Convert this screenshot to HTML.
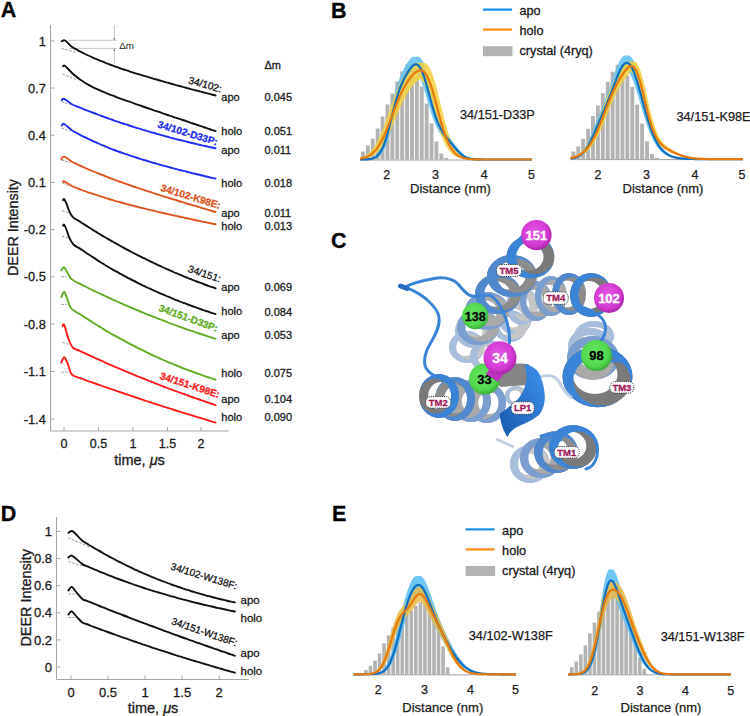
<!DOCTYPE html>
<html><head><meta charset="utf-8"><style>
html,body{margin:0;padding:0;background:#fff;}
svg{display:block;font-family:"Liberation Sans", sans-serif;}
</style></head><body>
<svg width="750" height="716" viewBox="0 0 750 716">
<rect width="750" height="716" fill="#fff"/>
<text x="0.8" y="17.2" font-size="21.5" font-weight="bold" fill="#000" stroke="#000" stroke-width="0.3">A</text>
<text x="331" y="18" font-size="21.5" font-weight="bold" fill="#000" stroke="#000" stroke-width="0.3">B</text>
<text x="331" y="248" font-size="21.5" font-weight="bold" fill="#000" stroke="#000" stroke-width="0.3">C</text>
<text x="0.8" y="521.2" font-size="21.5" font-weight="bold" fill="#000" stroke="#000" stroke-width="0.3">D</text>
<text x="332" y="521.3" font-size="21.5" font-weight="bold" fill="#000" stroke="#000" stroke-width="0.3">E</text>
<g stroke="#a6a6a6" stroke-width="1" fill="none">
<path d="M50.5,25 V431 H228.6"/>
<path d="M50.5,40.9 H54.5"/>
<path d="M50.5,88.0 H54.5"/>
<path d="M50.5,135.2 H54.5"/>
<path d="M50.5,182.5 H54.5"/>
<path d="M50.5,229.6 H54.5"/>
<path d="M50.5,276.8 H54.5"/>
<path d="M50.5,324.0 H54.5"/>
<path d="M50.5,371.5 H54.5"/>
<path d="M50.5,419.0 H54.5"/>
<path d="M64.0,431 V427"/>
<path d="M98.4,431 V427"/>
<path d="M132.9,431 V427"/>
<path d="M167.5,431 V427"/>
<path d="M201.0,431 V427"/>
</g>
<g font-size="12.8" fill="#1a1a1a" text-anchor="end" stroke="#1a1a1a" stroke-width="0.3">
<text x="45.8" y="45.5">1</text>
<text x="45.8" y="92.6">0.7</text>
<text x="45.8" y="139.8">0.4</text>
<text x="45.8" y="187.1">0.1</text>
<text x="45.8" y="234.2">-0.2</text>
<text x="45.8" y="281.4">-0.5</text>
<text x="45.8" y="328.6">-0.8</text>
<text x="45.8" y="376.1">-1.1</text>
<text x="45.8" y="423.6">-1.4</text>
</g>
<g font-size="12.5" fill="#1a1a1a" text-anchor="middle" stroke="#1a1a1a" stroke-width="0.3">
<text x="64.0" y="448">0</text>
<text x="98.4" y="448">0.5</text>
<text x="132.9" y="448">1</text>
<text x="167.5" y="448">1.5</text>
<text x="201.0" y="448">2</text>
</g>
<text x="139.5" y="465.2" font-size="14.5" text-anchor="middle" fill="#1a1a1a" stroke="#1a1a1a" stroke-width="0.3">time, <tspan font-style="italic">&#956;</tspan>s</text>
<text transform="translate(17.6,227.5) rotate(-90)" font-size="14.3" text-anchor="middle" fill="#1a1a1a" stroke="#1a1a1a" stroke-width="0.3">DEER Intensity</text>
<g stroke="#b8b8b8" stroke-width="0.8" fill="none">
<path d="M68.5,40.3 H117 M68.5,48.4 H117 M114.3,25 V40 M114.3,48.6 V63.5"/>
</g>
<path d="M113.3,38 L114.3,40.3 L115.3,38 Z M113.3,51 L114.3,48.6 L115.3,51 Z" fill="#777"/>
<text x="119.2" y="48.8" font-size="9.8" fill="#222" stroke="none">&#916;m</text>
<g stroke="#8c8c8c" stroke-width="0.9" fill="none" stroke-dasharray="2.5,1.5">
<path d="M61.5,48.4 L76.0,52.5"/>
<path d="M62.5,74.0 L77.0,80.0"/>
<path d="M61.5,101.5 L70.0,104.5"/>
<path d="M61.5,128.0 L70.0,131.0"/>
<path d="M61.5,160.0 L70.0,162.5"/>
<path d="M62.5,183.0 L70.0,186.0"/>
<path d="M62.0,210.5 L68.0,212.6"/>
<path d="M62.0,236.0 L68.0,238.0"/>
<path d="M61.3,276.6 L66.7,276.8"/>
<path d="M61.3,304.5 L66.7,304.5"/>
<path d="M62.5,342.2 L68.4,344.3"/>
<path d="M61.3,372.2 L67.6,372.2"/>
</g>
<g fill="none" stroke-width="1.9" stroke-linejoin="round" stroke-linecap="round">
<path stroke="#111" d="M61.7,41.3 C62.3,41.2 63.4,39.6 65.1,40.5 C66.8,41.4 70.0,45.4 71.8,46.8 C73.6,48.2 74.5,48.4 75.9,49.2 C77.3,49.9 78.6,50.7 80.0,51.4 C81.4,52.1 82.8,52.8 84.1,53.5 C85.5,54.1 86.9,54.8 88.2,55.5 C89.6,56.1 91.0,56.7 92.3,57.3 C93.7,58.0 95.1,58.6 96.5,59.1 C97.8,59.7 99.2,60.3 100.6,60.9 C101.9,61.4 103.3,62.0 104.7,62.5 C106.0,63.1 107.4,63.6 108.8,64.1 C110.1,64.6 111.5,65.1 112.9,65.6 C114.3,66.1 115.6,66.6 117.0,67.1 C118.4,67.6 119.7,68.1 121.1,68.6 C122.5,69.0 123.8,69.5 125.2,69.9 C126.6,70.4 128.0,70.9 129.3,71.3 C130.7,71.8 132.1,72.2 133.4,72.6 C134.8,73.1 136.2,73.5 137.5,73.9 C138.9,74.3 140.3,74.8 141.6,75.2 C143.0,75.6 144.4,76.0 145.8,76.4 C147.1,76.8 148.5,77.2 149.9,77.7 C151.2,78.1 152.6,78.5 154.0,78.9 C155.3,79.3 156.7,79.6 158.1,80.0 C159.4,80.4 160.8,80.8 162.2,81.2 C163.6,81.6 164.9,82.0 166.3,82.4 C167.7,82.7 169.0,83.1 170.4,83.5 C171.8,83.9 173.1,84.3 174.5,84.6 C175.9,85.0 177.3,85.4 178.6,85.8 C180.0,86.1 181.4,86.5 182.7,86.9 C184.1,87.2 185.5,87.6 186.8,88.0 C188.2,88.3 189.6,88.7 190.9,89.1 C192.3,89.4 193.7,89.8 195.1,90.2 C196.4,90.5 197.8,90.9 199.2,91.2 C200.5,91.6 201.9,92.0 203.3,92.3 C204.6,92.7 206.0,93.0 207.4,93.4 C208.8,93.8 210.1,94.1 211.5,94.5 C212.9,94.8 214.9,95.4 215.6,95.5"/>
<path stroke="#111" d="M63.0,66.2 C63.4,66.2 63.6,64.9 65.1,66.0 C66.6,67.1 70.0,71.0 71.8,72.7 C73.6,74.4 74.5,75.2 75.9,76.3 C77.3,77.5 78.6,78.5 80.0,79.5 C81.4,80.4 82.8,81.3 84.1,82.2 C85.5,83.1 86.9,83.9 88.2,84.6 C89.6,85.4 91.0,86.1 92.3,86.8 C93.7,87.5 95.1,88.2 96.5,88.8 C97.8,89.5 99.2,90.1 100.6,90.7 C101.9,91.3 103.3,91.9 104.7,92.4 C106.0,93.0 107.4,93.6 108.8,94.1 C110.1,94.7 111.5,95.2 112.9,95.7 C114.3,96.2 115.6,96.8 117.0,97.3 C118.4,97.8 119.7,98.3 121.1,98.8 C122.5,99.3 123.8,99.8 125.2,100.3 C126.6,100.8 128.0,101.3 129.3,101.7 C130.7,102.2 132.1,102.7 133.4,103.2 C134.8,103.7 136.2,104.1 137.5,104.6 C138.9,105.1 140.3,105.6 141.6,106.0 C143.0,106.5 144.4,107.0 145.8,107.5 C147.1,107.9 148.5,108.4 149.9,108.9 C151.2,109.3 152.6,109.8 154.0,110.3 C155.3,110.7 156.7,111.2 158.1,111.7 C159.4,112.1 160.8,112.6 162.2,113.1 C163.6,113.5 164.9,114.0 166.3,114.5 C167.7,114.9 169.0,115.4 170.4,115.9 C171.8,116.3 173.1,116.8 174.5,117.3 C175.9,117.7 177.3,118.2 178.6,118.6 C180.0,119.1 181.4,119.6 182.7,120.0 C184.1,120.5 185.5,121.0 186.8,121.4 C188.2,121.9 189.6,122.4 190.9,122.8 C192.3,123.3 193.7,123.7 195.1,124.2 C196.4,124.7 197.8,125.1 199.2,125.6 C200.5,126.1 201.9,126.5 203.3,127.0 C204.6,127.4 206.0,127.9 207.4,128.4 C208.8,128.8 210.1,129.3 211.5,129.8 C212.9,130.2 214.9,130.9 215.6,131.1"/>
<path stroke="#1f2ef5" d="M61.7,100.1 C62.1,99.9 62.5,98.1 64.2,98.8 C65.9,99.5 69.8,103.0 71.8,104.2 C73.8,105.4 74.5,105.4 75.9,105.9 C77.3,106.5 78.6,107.1 80.0,107.6 C81.4,108.2 82.8,108.7 84.1,109.3 C85.5,109.8 86.9,110.4 88.2,110.9 C89.6,111.4 91.0,112.0 92.3,112.5 C93.7,113.0 95.1,113.5 96.5,114.0 C97.8,114.6 99.2,115.1 100.6,115.6 C101.9,116.1 103.3,116.6 104.7,117.1 C106.0,117.6 107.4,118.1 108.8,118.6 C110.1,119.0 111.5,119.5 112.9,120.0 C114.3,120.5 115.6,121.0 117.0,121.4 C118.4,121.9 119.7,122.4 121.1,122.8 C122.5,123.3 123.8,123.7 125.2,124.2 C126.6,124.6 128.0,125.1 129.3,125.5 C130.7,126.0 132.1,126.4 133.4,126.8 C134.8,127.3 136.2,127.7 137.5,128.1 C138.9,128.5 140.3,129.0 141.6,129.4 C143.0,129.8 144.4,130.2 145.8,130.6 C147.1,131.0 148.5,131.4 149.9,131.8 C151.2,132.2 152.6,132.6 154.0,133.0 C155.3,133.4 156.7,133.8 158.1,134.2 C159.4,134.6 160.8,135.0 162.2,135.3 C163.6,135.7 164.9,136.1 166.3,136.5 C167.7,136.8 169.0,137.2 170.4,137.6 C171.8,137.9 173.1,138.3 174.5,138.6 C175.9,139.0 177.3,139.4 178.6,139.7 C180.0,140.1 181.4,140.4 182.7,140.7 C184.1,141.1 185.5,141.4 186.8,141.8 C188.2,142.1 189.6,142.4 190.9,142.8 C192.3,143.1 193.7,143.4 195.1,143.7 C196.4,144.1 197.8,144.4 199.2,144.7 C200.5,145.0 201.9,145.3 203.3,145.6 C204.6,145.9 206.0,146.3 207.4,146.6 C208.8,146.9 210.1,147.2 211.5,147.5 C212.9,147.8 214.9,148.2 215.6,148.3"/>
<path stroke="#1f2ef5" d="M61.7,125.6 C62.1,125.3 62.5,123.2 64.2,124.0 C65.9,124.8 69.8,128.8 71.8,130.2 C73.8,131.6 74.5,131.8 75.9,132.5 C77.3,133.3 78.6,134.0 80.0,134.8 C81.4,135.5 82.8,136.2 84.1,136.9 C85.5,137.6 86.9,138.2 88.2,138.9 C89.6,139.6 91.0,140.2 92.3,140.8 C93.7,141.5 95.1,142.1 96.5,142.7 C97.8,143.3 99.2,143.9 100.6,144.5 C101.9,145.1 103.3,145.6 104.7,146.2 C106.0,146.8 107.4,147.3 108.8,147.9 C110.1,148.4 111.5,148.9 112.9,149.5 C114.3,150.0 115.6,150.5 117.0,151.0 C118.4,151.5 119.7,152.0 121.1,152.5 C122.5,153.0 123.8,153.4 125.2,153.9 C126.6,154.4 128.0,154.9 129.3,155.3 C130.7,155.8 132.1,156.2 133.4,156.7 C134.8,157.1 136.2,157.6 137.5,158.0 C138.9,158.4 140.3,158.9 141.6,159.3 C143.0,159.7 144.4,160.1 145.8,160.5 C147.1,161.0 148.5,161.4 149.9,161.8 C151.2,162.2 152.6,162.6 154.0,163.0 C155.3,163.4 156.7,163.7 158.1,164.1 C159.4,164.5 160.8,164.9 162.2,165.3 C163.6,165.7 164.9,166.0 166.3,166.4 C167.7,166.8 169.0,167.2 170.4,167.5 C171.8,167.9 173.1,168.2 174.5,168.6 C175.9,169.0 177.3,169.3 178.6,169.7 C180.0,170.0 181.4,170.4 182.7,170.7 C184.1,171.1 185.5,171.4 186.8,171.8 C188.2,172.1 189.6,172.5 190.9,172.8 C192.3,173.1 193.7,173.5 195.1,173.8 C196.4,174.1 197.8,174.5 199.2,174.8 C200.5,175.1 201.9,175.5 203.3,175.8 C204.6,176.1 206.0,176.5 207.4,176.8 C208.8,177.1 210.1,177.4 211.5,177.8 C212.9,178.1 214.9,178.6 215.6,178.7"/>
<path stroke="#e0531c" d="M61.3,159.2 C61.8,158.8 62.5,156.3 64.2,156.7 C66.0,157.1 69.8,160.5 71.8,161.7 C73.8,162.9 74.5,163.0 75.9,163.7 C77.3,164.3 78.6,165.0 80.0,165.6 C81.4,166.2 82.8,166.9 84.1,167.5 C85.5,168.1 86.9,168.7 88.2,169.3 C89.6,169.9 91.0,170.4 92.3,171.0 C93.7,171.6 95.1,172.2 96.5,172.7 C97.8,173.3 99.2,173.8 100.6,174.4 C101.9,174.9 103.3,175.5 104.7,176.0 C106.0,176.5 107.4,177.1 108.8,177.6 C110.1,178.1 111.5,178.6 112.9,179.1 C114.3,179.7 115.6,180.2 117.0,180.7 C118.4,181.2 119.7,181.7 121.1,182.1 C122.5,182.6 123.8,183.1 125.2,183.6 C126.6,184.1 128.0,184.6 129.3,185.0 C130.7,185.5 132.1,186.0 133.4,186.5 C134.8,186.9 136.2,187.4 137.5,187.9 C138.9,188.3 140.3,188.8 141.6,189.2 C143.0,189.7 144.4,190.1 145.8,190.6 C147.1,191.0 148.5,191.5 149.9,191.9 C151.2,192.4 152.6,192.8 154.0,193.3 C155.3,193.7 156.7,194.1 158.1,194.6 C159.4,195.0 160.8,195.4 162.2,195.9 C163.6,196.3 164.9,196.7 166.3,197.2 C167.7,197.6 169.0,198.0 170.4,198.4 C171.8,198.9 173.1,199.3 174.5,199.7 C175.9,200.1 177.3,200.6 178.6,201.0 C180.0,201.4 181.4,201.8 182.7,202.2 C184.1,202.6 185.5,203.0 186.8,203.5 C188.2,203.9 189.6,204.3 190.9,204.7 C192.3,205.1 193.7,205.5 195.1,205.9 C196.4,206.3 197.8,206.7 199.2,207.1 C200.5,207.5 201.9,208.0 203.3,208.4 C204.6,208.8 206.0,209.2 207.4,209.6 C208.8,210.0 210.1,210.4 211.5,210.8 C212.9,211.2 214.9,211.8 215.6,212.0"/>
<path stroke="#e0531c" d="M63.0,181.9 C63.2,181.8 62.7,180.7 64.2,181.4 C65.7,182.1 69.8,185.0 71.8,186.0 C73.8,187.0 74.5,187.1 75.9,187.7 C77.3,188.2 78.6,188.8 80.0,189.3 C81.4,189.8 82.8,190.3 84.1,190.8 C85.5,191.3 86.9,191.8 88.2,192.3 C89.6,192.8 91.0,193.3 92.3,193.7 C93.7,194.2 95.1,194.7 96.5,195.1 C97.8,195.6 99.2,196.0 100.6,196.4 C101.9,196.9 103.3,197.3 104.7,197.7 C106.0,198.1 107.4,198.6 108.8,199.0 C110.1,199.4 111.5,199.8 112.9,200.2 C114.3,200.6 115.6,201.0 117.0,201.4 C118.4,201.8 119.7,202.1 121.1,202.5 C122.5,202.9 123.8,203.3 125.2,203.6 C126.6,204.0 128.0,204.4 129.3,204.7 C130.7,205.1 132.1,205.5 133.4,205.8 C134.8,206.2 136.2,206.5 137.5,206.9 C138.9,207.2 140.3,207.6 141.6,207.9 C143.0,208.2 144.4,208.6 145.8,208.9 C147.1,209.2 148.5,209.6 149.9,209.9 C151.2,210.2 152.6,210.6 154.0,210.9 C155.3,211.2 156.7,211.5 158.1,211.8 C159.4,212.2 160.8,212.5 162.2,212.8 C163.6,213.1 164.9,213.4 166.3,213.7 C167.7,214.0 169.0,214.3 170.4,214.7 C171.8,215.0 173.1,215.3 174.5,215.6 C175.9,215.9 177.3,216.2 178.6,216.5 C180.0,216.8 181.4,217.1 182.7,217.4 C184.1,217.7 185.5,218.0 186.8,218.3 C188.2,218.6 189.6,218.9 190.9,219.1 C192.3,219.4 193.7,219.7 195.1,220.0 C196.4,220.3 197.8,220.6 199.2,220.9 C200.5,221.2 201.9,221.5 203.3,221.8 C204.6,222.0 206.0,222.3 207.4,222.6 C208.8,222.9 210.1,223.2 211.5,223.5 C212.9,223.7 214.9,224.2 215.6,224.3"/>
<path stroke="#111" d="M63.0,200.2 C63.2,200.0 63.6,198.5 64.2,199.2 C64.8,199.9 65.9,202.4 66.7,204.2 C67.5,206.0 67.8,208.0 68.8,210.1 C69.8,212.2 70.7,214.9 72.6,216.8 C74.5,218.8 78.2,220.5 80.1,221.8 C82.0,223.1 82.8,223.6 84.2,224.4 C85.6,225.3 86.9,226.2 88.3,227.0 C89.7,227.9 91.0,228.8 92.4,229.6 C93.8,230.5 95.2,231.3 96.5,232.1 C97.9,233.0 99.3,233.8 100.6,234.6 C102.0,235.4 103.4,236.2 104.7,237.0 C106.1,237.8 107.5,238.6 108.8,239.4 C110.2,240.2 111.6,241.0 112.9,241.8 C114.3,242.6 115.7,243.3 117.1,244.1 C118.4,244.9 119.8,245.6 121.2,246.4 C122.5,247.1 123.9,247.9 125.3,248.6 C126.6,249.4 128.0,250.1 129.4,250.8 C130.7,251.5 132.1,252.3 133.5,253.0 C134.8,253.7 136.2,254.4 137.6,255.1 C139.0,255.8 140.3,256.5 141.7,257.2 C143.1,257.9 144.4,258.5 145.8,259.2 C147.2,259.9 148.5,260.6 149.9,261.2 C151.3,261.9 152.6,262.5 154.0,263.2 C155.4,263.8 156.7,264.5 158.1,265.1 C159.5,265.8 160.9,266.4 162.2,267.0 C163.6,267.6 165.0,268.2 166.3,268.9 C167.7,269.5 169.1,270.1 170.4,270.7 C171.8,271.3 173.2,271.9 174.5,272.5 C175.9,273.1 177.3,273.6 178.6,274.2 C180.0,274.8 181.4,275.4 182.8,275.9 C184.1,276.5 185.5,277.0 186.9,277.6 C188.2,278.2 189.6,278.7 191.0,279.2 C192.3,279.8 193.7,280.3 195.1,280.9 C196.4,281.4 197.8,281.9 199.2,282.4 C200.5,282.9 201.9,283.5 203.3,284.0 C204.7,284.5 206.0,285.0 207.4,285.5 C208.8,286.0 210.1,286.5 211.5,286.9 C212.9,287.4 214.9,288.1 215.6,288.4"/>
<path stroke="#111" d="M63.0,225.6 C63.2,225.5 63.6,224.0 64.2,224.8 C64.8,225.6 65.9,228.0 66.7,230.2 C67.5,232.3 68.2,235.3 69.3,237.7 C70.4,240.1 71.6,242.7 73.4,244.5 C75.2,246.3 78.3,247.4 80.1,248.6 C81.9,249.8 82.8,250.5 84.2,251.4 C85.6,252.4 86.9,253.3 88.3,254.2 C89.7,255.1 91.0,256.0 92.4,256.9 C93.8,257.8 95.2,258.7 96.5,259.6 C97.9,260.5 99.3,261.3 100.6,262.2 C102.0,263.0 103.4,263.9 104.7,264.7 C106.1,265.5 107.5,266.3 108.8,267.2 C110.2,268.0 111.6,268.8 112.9,269.6 C114.3,270.3 115.7,271.1 117.1,271.9 C118.4,272.7 119.8,273.4 121.2,274.2 C122.5,274.9 123.9,275.7 125.3,276.4 C126.6,277.1 128.0,277.9 129.4,278.6 C130.7,279.3 132.1,280.0 133.5,280.7 C134.8,281.4 136.2,282.1 137.6,282.8 C139.0,283.5 140.3,284.1 141.7,284.8 C143.1,285.5 144.4,286.1 145.8,286.8 C147.2,287.4 148.5,288.1 149.9,288.7 C151.3,289.4 152.6,290.0 154.0,290.6 C155.4,291.2 156.7,291.8 158.1,292.4 C159.5,293.1 160.9,293.7 162.2,294.2 C163.6,294.8 165.0,295.4 166.3,296.0 C167.7,296.6 169.1,297.1 170.4,297.7 C171.8,298.3 173.2,298.8 174.5,299.4 C175.9,299.9 177.3,300.5 178.6,301.0 C180.0,301.6 181.4,302.1 182.8,302.6 C184.1,303.1 185.5,303.7 186.9,304.2 C188.2,304.7 189.6,305.2 191.0,305.7 C192.3,306.2 193.7,306.7 195.1,307.2 C196.4,307.7 197.8,308.2 199.2,308.6 C200.5,309.1 201.9,309.6 203.3,310.1 C204.7,310.5 206.0,311.0 207.4,311.4 C208.8,311.9 210.1,312.3 211.5,312.8 C212.9,313.2 214.9,313.9 215.6,314.1"/>
<path stroke="#62ad24" d="M61.3,270.5 C61.7,269.9 62.9,267.1 63.8,267.2 C64.7,267.3 65.5,269.4 66.7,271.3 C68.0,273.2 69.1,276.8 71.3,278.9 C73.5,281.0 77.9,282.7 80.1,283.9 C82.3,285.1 82.8,285.3 84.2,286.0 C85.6,286.6 86.9,287.3 88.3,288.0 C89.7,288.7 91.0,289.3 92.4,290.0 C93.8,290.7 95.2,291.3 96.5,292.0 C97.9,292.6 99.3,293.3 100.6,293.9 C102.0,294.6 103.4,295.2 104.7,295.9 C106.1,296.5 107.5,297.1 108.8,297.8 C110.2,298.4 111.6,299.0 112.9,299.6 C114.3,300.3 115.7,300.9 117.1,301.5 C118.4,302.1 119.8,302.7 121.2,303.3 C122.5,303.9 123.9,304.5 125.3,305.1 C126.6,305.7 128.0,306.3 129.4,306.9 C130.7,307.5 132.1,308.1 133.5,308.7 C134.8,309.2 136.2,309.8 137.6,310.4 C139.0,311.0 140.3,311.5 141.7,312.1 C143.1,312.6 144.4,313.2 145.8,313.8 C147.2,314.3 148.5,314.9 149.9,315.4 C151.3,316.0 152.6,316.5 154.0,317.0 C155.4,317.6 156.7,318.1 158.1,318.7 C159.5,319.2 160.9,319.7 162.2,320.2 C163.6,320.8 165.0,321.3 166.3,321.8 C167.7,322.3 169.1,322.8 170.4,323.3 C171.8,323.8 173.2,324.3 174.5,324.8 C175.9,325.3 177.3,325.8 178.6,326.3 C180.0,326.8 181.4,327.3 182.8,327.8 C184.1,328.3 185.5,328.8 186.9,329.3 C188.2,329.7 189.6,330.2 191.0,330.7 C192.3,331.1 193.7,331.6 195.1,332.1 C196.4,332.5 197.8,333.0 199.2,333.5 C200.5,333.9 201.9,334.4 203.3,334.8 C204.7,335.3 206.0,335.7 207.4,336.2 C208.8,336.6 210.1,337.0 211.5,337.5 C212.9,337.9 214.9,338.6 215.6,338.8"/>
<path stroke="#62ad24" d="M61.3,297.1 C61.8,296.2 63.2,291.6 64.1,291.7 C65.0,291.8 65.6,294.8 66.7,297.5 C67.8,300.2 68.7,305.2 70.9,308.0 C73.1,310.8 77.9,312.8 80.1,314.3 C82.3,315.8 82.8,316.1 84.2,317.0 C85.6,317.9 86.9,318.8 88.3,319.6 C89.7,320.5 91.0,321.4 92.4,322.2 C93.8,323.1 95.2,324.0 96.5,324.8 C97.9,325.6 99.3,326.5 100.6,327.3 C102.0,328.1 103.4,329.0 104.7,329.8 C106.1,330.6 107.5,331.4 108.8,332.2 C110.2,333.0 111.6,333.8 112.9,334.6 C114.3,335.3 115.7,336.1 117.1,336.9 C118.4,337.6 119.8,338.4 121.2,339.2 C122.5,339.9 123.9,340.6 125.3,341.4 C126.6,342.1 128.0,342.8 129.4,343.6 C130.7,344.3 132.1,345.0 133.5,345.7 C134.8,346.4 136.2,347.1 137.6,347.8 C139.0,348.5 140.3,349.2 141.7,349.9 C143.1,350.5 144.4,351.2 145.8,351.9 C147.2,352.5 148.5,353.2 149.9,353.8 C151.3,354.5 152.6,355.1 154.0,355.8 C155.4,356.4 156.7,357.0 158.1,357.6 C159.5,358.3 160.9,358.9 162.2,359.5 C163.6,360.1 165.0,360.7 166.3,361.3 C167.7,361.9 169.1,362.5 170.4,363.0 C171.8,363.6 173.2,364.2 174.5,364.7 C175.9,365.3 177.3,365.9 178.6,366.4 C180.0,367.0 181.4,367.5 182.8,368.1 C184.1,368.6 185.5,369.1 186.9,369.6 C188.2,370.2 189.6,370.7 191.0,371.2 C192.3,371.7 193.7,372.2 195.1,372.7 C196.4,373.2 197.8,373.7 199.2,374.2 C200.5,374.7 201.9,375.2 203.3,375.6 C204.7,376.1 206.0,376.6 207.4,377.0 C208.8,377.5 210.1,377.9 211.5,378.4 C212.9,378.8 214.9,379.5 215.6,379.7"/>
<path stroke="#ff1c1c" d="M62.5,326.3 C62.8,326.1 63.2,323.0 64.2,325.0 C65.2,327.0 67.0,334.8 68.4,338.5 C69.8,342.2 70.6,345.2 72.6,347.3 C74.5,349.4 78.2,350.1 80.1,351.0 C82.0,351.9 82.8,352.3 84.2,352.9 C85.6,353.6 86.9,354.2 88.3,354.8 C89.7,355.5 91.0,356.1 92.4,356.7 C93.8,357.4 95.2,358.0 96.5,358.6 C97.9,359.2 99.3,359.8 100.6,360.4 C102.0,361.1 103.4,361.7 104.7,362.3 C106.1,362.9 107.5,363.5 108.8,364.1 C110.2,364.7 111.6,365.3 112.9,365.9 C114.3,366.5 115.7,367.1 117.1,367.7 C118.4,368.3 119.8,368.8 121.2,369.4 C122.5,370.0 123.9,370.6 125.3,371.2 C126.6,371.7 128.0,372.3 129.4,372.9 C130.7,373.4 132.1,374.0 133.5,374.6 C134.8,375.1 136.2,375.7 137.6,376.3 C139.0,376.8 140.3,377.4 141.7,377.9 C143.1,378.5 144.4,379.0 145.8,379.6 C147.2,380.1 148.5,380.7 149.9,381.2 C151.3,381.8 152.6,382.3 154.0,382.8 C155.4,383.4 156.7,383.9 158.1,384.4 C159.5,385.0 160.9,385.5 162.2,386.0 C163.6,386.5 165.0,387.1 166.3,387.6 C167.7,388.1 169.1,388.6 170.4,389.1 C171.8,389.6 173.2,390.1 174.5,390.7 C175.9,391.2 177.3,391.7 178.6,392.2 C180.0,392.7 181.4,393.2 182.8,393.7 C184.1,394.2 185.5,394.7 186.9,395.1 C188.2,395.6 189.6,396.1 191.0,396.6 C192.3,397.1 193.7,397.6 195.1,398.1 C196.4,398.5 197.8,399.0 199.2,399.5 C200.5,400.0 201.9,400.4 203.3,400.9 C204.7,401.4 206.0,401.9 207.4,402.3 C208.8,402.8 210.1,403.2 211.5,403.7 C212.9,404.2 214.9,404.8 215.6,405.1"/>
<path stroke="#ff1c1c" d="M61.3,362.6 C61.8,361.7 63.2,357.1 64.2,357.2 C65.2,357.3 66.3,360.5 67.6,363.4 C68.9,366.2 69.7,371.9 71.8,374.3 C73.9,376.8 78.0,377.2 80.1,378.1 C82.2,379.0 82.8,379.1 84.2,379.6 C85.6,380.1 86.9,380.6 88.3,381.1 C89.7,381.5 91.0,382.0 92.4,382.5 C93.8,383.0 95.2,383.5 96.5,384.0 C97.9,384.5 99.3,384.9 100.6,385.4 C102.0,385.9 103.4,386.4 104.7,386.9 C106.1,387.3 107.5,387.8 108.8,388.3 C110.2,388.8 111.6,389.3 112.9,389.7 C114.3,390.2 115.7,390.7 117.1,391.1 C118.4,391.6 119.8,392.1 121.2,392.5 C122.5,393.0 123.9,393.5 125.3,393.9 C126.6,394.4 128.0,394.9 129.4,395.3 C130.7,395.8 132.1,396.2 133.5,396.7 C134.8,397.2 136.2,397.6 137.6,398.1 C139.0,398.5 140.3,399.0 141.7,399.4 C143.1,399.9 144.4,400.3 145.8,400.8 C147.2,401.2 148.5,401.7 149.9,402.1 C151.3,402.6 152.6,403.0 154.0,403.5 C155.4,403.9 156.7,404.4 158.1,404.8 C159.5,405.2 160.9,405.7 162.2,406.1 C163.6,406.6 165.0,407.0 166.3,407.4 C167.7,407.9 169.1,408.3 170.4,408.7 C171.8,409.2 173.2,409.6 174.5,410.0 C175.9,410.5 177.3,410.9 178.6,411.3 C180.0,411.7 181.4,412.2 182.8,412.6 C184.1,413.0 185.5,413.5 186.9,413.9 C188.2,414.3 189.6,414.7 191.0,415.1 C192.3,415.6 193.7,416.0 195.1,416.4 C196.4,416.8 197.8,417.2 199.2,417.6 C200.5,418.1 201.9,418.5 203.3,418.9 C204.7,419.3 206.0,419.7 207.4,420.1 C208.8,420.5 210.1,420.9 211.5,421.4 C212.9,421.8 214.9,422.4 215.6,422.6"/>
</g>
<g font-size="11" fill="#1a1a1a" stroke="#1a1a1a" stroke-width="0.3">
<text x="221.3" y="100.8">apo</text>
<text x="221.3" y="134.5">holo</text>
<text x="221.3" y="154.4">apo</text>
<text x="221.3" y="186.8">holo</text>
<text x="221.3" y="217.3">apo</text>
<text x="221.3" y="230.3">holo</text>
<text x="221.3" y="290.8">apo</text>
<text x="221.3" y="314.8">holo</text>
<text x="221.3" y="338.5">apo</text>
<text x="221.3" y="376.7">holo</text>
<text x="221.3" y="402.8">apo</text>
<text x="221.3" y="420.7">holo</text>
</g>
<g font-size="11" fill="#1a1a1a" stroke="#1a1a1a" stroke-width="0.3">
<text x="264.5" y="100.8">0.045</text>
<text x="264.5" y="134.5">0.051</text>
<text x="264.5" y="154.4">0.011</text>
<text x="264.5" y="186.8">0.018</text>
<text x="264.5" y="217.3">0.011</text>
<text x="264.5" y="230.3">0.013</text>
<text x="264.5" y="290.8">0.069</text>
<text x="264.5" y="316.3">0.084</text>
<text x="264.5" y="338.5">0.053</text>
<text x="264.5" y="376.7">0.075</text>
<text x="264.5" y="402.8">0.104</text>
<text x="264.5" y="420.7">0.090</text>
<text x="264.5" y="69">&#916;m</text>
</g>
<text transform="translate(220.5,92.5) rotate(16.0)" font-size="10.2" fill="#111"  text-anchor="end" stroke="#111" stroke-width="0.3">34/102:</text>
<text transform="translate(216.5,145.5) rotate(17.0)" font-size="10" fill="#1f2ef5" font-weight="bold" text-anchor="end" stroke="#1f2ef5" stroke-width="0.3">34/102-D33P:</text>
<text transform="translate(219.5,209.0) rotate(17.0)" font-size="10" fill="#e0531c" font-weight="bold" text-anchor="end" stroke="#e0531c" stroke-width="0.3">34/102-K98E:</text>
<text transform="translate(219.5,282.5) rotate(18.5)" font-size="10.2" fill="#111"  text-anchor="end" stroke="#111" stroke-width="0.3">34/151:</text>
<text transform="translate(216.5,332.0) rotate(20.0)" font-size="10" fill="#62ad24" font-weight="bold" text-anchor="end" stroke="#62ad24" stroke-width="0.3">34/151-D33P:</text>
<text transform="translate(218.5,398.0) rotate(18.0)" font-size="10" fill="#ff1c1c" font-weight="bold" text-anchor="end" stroke="#ff1c1c" stroke-width="0.3">34/151-K98E:</text>
<g stroke="#a6a6a6" stroke-width="1" fill="none">
<path d="M56.5,517 V679.5 H249"/>
<path d="M56.5,531.5 H60.5"/>
<path d="M56.5,558.6 H60.5"/>
<path d="M56.5,585.7 H60.5"/>
<path d="M56.5,612.8 H60.5"/>
<path d="M56.5,639.9 H60.5"/>
<path d="M56.5,667.0 H60.5"/>
<path d="M71.0,679.5 V675.5"/>
<path d="M108.0,679.5 V675.5"/>
<path d="M145.1,679.5 V675.5"/>
<path d="M182.1,679.5 V675.5"/>
<path d="M219.2,679.5 V675.5"/>
</g>
<g font-size="13" fill="#1a1a1a" text-anchor="end" stroke="#1a1a1a" stroke-width="0.3">
<text x="52" y="536.1">1</text>
<text x="52" y="563.2">0.8</text>
<text x="52" y="590.3">0.6</text>
<text x="52" y="617.4">0.4</text>
<text x="52" y="644.5">0.2</text>
<text x="52" y="671.6">0</text>
</g>
<g font-size="13" fill="#1a1a1a" text-anchor="middle" stroke="#1a1a1a" stroke-width="0.3">
<text x="71.0" y="696.5">0</text>
<text x="108.0" y="696.5">0.5</text>
<text x="145.1" y="696.5">1</text>
<text x="182.1" y="696.5">1.5</text>
<text x="219.2" y="696.5">2</text>
</g>
<text x="153" y="713.2" font-size="14.5" text-anchor="middle" fill="#1a1a1a" stroke="#1a1a1a" stroke-width="0.3">time, <tspan font-style="italic">&#956;</tspan>s</text>
<text transform="translate(31.2,597.8) rotate(-90)" font-size="14.4" text-anchor="middle" fill="#1a1a1a" stroke="#1a1a1a" stroke-width="0.3">DEER Intensity</text>
<g stroke="#8c8c8c" stroke-width="0.9" fill="none" stroke-dasharray="2.5,1.5">
<path d="M68.4,537.9 L89.0,546.8"/>
<path d="M68.4,561.5 L82.0,566.0"/>
<path d="M68.4,594.0 L74.5,594.0"/>
<path d="M68.4,617.5 L74.5,617.5"/>
</g>
<g fill="none" stroke="#111" stroke-width="1.9" stroke-linejoin="round" stroke-linecap="round">
<path d="M68.4,532.8 C69.0,532.5 70.7,531.0 71.7,531.0 C72.7,531.0 72.7,531.2 74.5,532.8 C76.3,534.4 80.3,539.0 82.3,540.7 C84.3,542.4 85.0,542.4 86.3,543.2 C87.7,544.1 89.0,544.9 90.3,545.7 C91.7,546.5 93.0,547.3 94.3,548.1 C95.7,548.9 97.0,549.7 98.4,550.4 C99.7,551.2 101.0,552.0 102.4,552.7 C103.7,553.5 105.1,554.3 106.4,555.0 C107.7,555.7 109.1,556.5 110.4,557.2 C111.7,557.9 113.1,558.6 114.4,559.3 C115.8,560.0 117.1,560.7 118.4,561.4 C119.8,562.1 121.1,562.8 122.5,563.5 C123.8,564.1 125.1,564.8 126.5,565.4 C127.8,566.1 129.2,566.7 130.5,567.4 C131.8,568.0 133.2,568.6 134.5,569.3 C135.8,569.9 137.2,570.5 138.5,571.1 C139.9,571.7 141.2,572.3 142.5,572.9 C143.9,573.5 145.2,574.1 146.6,574.6 C147.9,575.2 149.2,575.8 150.6,576.4 C151.9,576.9 153.2,577.5 154.6,578.0 C155.9,578.6 157.3,579.1 158.6,579.6 C159.9,580.1 161.3,580.7 162.6,581.2 C164.0,581.7 165.3,582.2 166.6,582.7 C168.0,583.2 169.3,583.7 170.6,584.2 C172.0,584.7 173.3,585.2 174.7,585.6 C176.0,586.1 177.3,586.6 178.7,587.0 C180.0,587.5 181.4,587.9 182.7,588.4 C184.0,588.8 185.4,589.3 186.7,589.7 C188.0,590.1 189.4,590.5 190.7,591.0 C192.1,591.4 193.4,591.8 194.7,592.2 C196.1,592.6 197.4,593.0 198.8,593.4 C200.1,593.8 201.4,594.2 202.8,594.5 C204.1,594.9 205.5,595.3 206.8,595.7 C208.1,596.0 209.5,596.4 210.8,596.7 C212.1,597.1 213.5,597.4 214.8,597.8 C216.2,598.1 217.5,598.5 218.8,598.8 C220.2,599.1 221.5,599.4 222.9,599.7 C224.2,600.1 225.5,600.4 226.9,600.7 C228.2,601.0 229.5,601.3 230.9,601.6 C232.2,601.9 234.2,602.3 234.9,602.4"/>
<path d="M68.4,557.4 C68.9,557.1 70.2,555.5 71.2,555.5 C72.2,555.5 72.7,556.0 74.5,557.4 C76.3,558.8 80.3,562.7 82.3,564.1 C84.3,565.5 85.0,565.3 86.3,565.9 C87.7,566.5 89.0,567.1 90.3,567.7 C91.7,568.2 93.0,568.8 94.3,569.4 C95.7,569.9 97.0,570.5 98.4,571.1 C99.7,571.6 101.0,572.2 102.4,572.7 C103.7,573.3 105.1,573.8 106.4,574.3 C107.7,574.9 109.1,575.4 110.4,575.9 C111.7,576.4 113.1,577.0 114.4,577.5 C115.8,578.0 117.1,578.5 118.4,579.0 C119.8,579.5 121.1,580.0 122.5,580.5 C123.8,581.0 125.1,581.4 126.5,581.9 C127.8,582.4 129.2,582.9 130.5,583.4 C131.8,583.8 133.2,584.3 134.5,584.8 C135.8,585.2 137.2,585.7 138.5,586.1 C139.9,586.6 141.2,587.0 142.5,587.5 C143.9,587.9 145.2,588.3 146.6,588.8 C147.9,589.2 149.2,589.6 150.6,590.1 C151.9,590.5 153.2,590.9 154.6,591.3 C155.9,591.7 157.3,592.1 158.6,592.5 C159.9,592.9 161.3,593.3 162.6,593.7 C164.0,594.1 165.3,594.5 166.6,594.9 C168.0,595.3 169.3,595.7 170.6,596.1 C172.0,596.5 173.3,596.8 174.7,597.2 C176.0,597.6 177.3,597.9 178.7,598.3 C180.0,598.7 181.4,599.0 182.7,599.4 C184.0,599.7 185.4,600.1 186.7,600.4 C188.0,600.8 189.4,601.1 190.7,601.5 C192.1,601.8 193.4,602.2 194.7,602.5 C196.1,602.8 197.4,603.2 198.8,603.5 C200.1,603.8 201.4,604.1 202.8,604.5 C204.1,604.8 205.5,605.1 206.8,605.4 C208.1,605.7 209.5,606.0 210.8,606.3 C212.1,606.6 213.5,606.9 214.8,607.2 C216.2,607.5 217.5,607.8 218.8,608.1 C220.2,608.4 221.5,608.7 222.9,609.0 C224.2,609.3 225.5,609.6 226.9,609.8 C228.2,610.1 229.5,610.4 230.9,610.7 C232.2,610.9 234.2,611.3 234.9,611.5"/>
<path d="M68.4,590.6 C69.0,590.0 70.3,586.5 71.7,586.9 C73.1,587.3 75.0,590.8 76.8,592.8 C78.6,594.8 80.7,597.7 82.3,599.0 C83.9,600.3 85.0,600.1 86.3,600.6 C87.7,601.2 89.0,601.7 90.3,602.2 C91.7,602.8 93.0,603.3 94.3,603.9 C95.7,604.4 97.0,604.9 98.4,605.5 C99.7,606.0 101.0,606.5 102.4,607.1 C103.7,607.6 105.1,608.1 106.4,608.7 C107.7,609.2 109.1,609.7 110.4,610.3 C111.7,610.8 113.1,611.3 114.4,611.8 C115.8,612.4 117.1,612.9 118.4,613.4 C119.8,613.9 121.1,614.5 122.5,615.0 C123.8,615.5 125.1,616.0 126.5,616.5 C127.8,617.0 129.2,617.6 130.5,618.1 C131.8,618.6 133.2,619.1 134.5,619.6 C135.8,620.1 137.2,620.6 138.5,621.1 C139.9,621.7 141.2,622.2 142.5,622.7 C143.9,623.2 145.2,623.7 146.6,624.2 C147.9,624.7 149.2,625.2 150.6,625.7 C151.9,626.2 153.2,626.7 154.6,627.2 C155.9,627.7 157.3,628.2 158.6,628.7 C159.9,629.2 161.3,629.7 162.6,630.2 C164.0,630.7 165.3,631.2 166.6,631.7 C168.0,632.1 169.3,632.6 170.6,633.1 C172.0,633.6 173.3,634.1 174.7,634.6 C176.0,635.1 177.3,635.6 178.7,636.0 C180.0,636.5 181.4,637.0 182.7,637.5 C184.0,638.0 185.4,638.5 186.7,638.9 C188.0,639.4 189.4,639.9 190.7,640.4 C192.1,640.9 193.4,641.3 194.7,641.8 C196.1,642.3 197.4,642.8 198.8,643.2 C200.1,643.7 201.4,644.2 202.8,644.6 C204.1,645.1 205.5,645.6 206.8,646.0 C208.1,646.5 209.5,647.0 210.8,647.4 C212.1,647.9 213.5,648.4 214.8,648.8 C216.2,649.3 217.5,649.8 218.8,650.2 C220.2,650.7 221.5,651.2 222.9,651.6 C224.2,652.1 225.5,652.5 226.9,653.0 C228.2,653.4 229.5,653.9 230.9,654.4 C232.2,654.8 234.2,655.5 234.9,655.7"/>
<path d="M68.4,614.6 C69.0,614.0 70.3,610.9 71.7,611.3 C73.1,611.7 75.0,615.0 76.8,616.9 C78.6,618.8 80.7,621.3 82.3,622.5 C83.9,623.7 85.0,623.5 86.3,624.0 C87.7,624.5 89.0,625.0 90.3,625.6 C91.7,626.1 93.0,626.6 94.3,627.1 C95.7,627.6 97.0,628.1 98.4,628.6 C99.7,629.1 101.0,629.6 102.4,630.1 C103.7,630.5 105.1,631.0 106.4,631.5 C107.7,632.0 109.1,632.5 110.4,633.0 C111.7,633.5 113.1,634.0 114.4,634.4 C115.8,634.9 117.1,635.4 118.4,635.9 C119.8,636.4 121.1,636.8 122.5,637.3 C123.8,637.8 125.1,638.3 126.5,638.7 C127.8,639.2 129.2,639.7 130.5,640.1 C131.8,640.6 133.2,641.1 134.5,641.5 C135.8,642.0 137.2,642.4 138.5,642.9 C139.9,643.4 141.2,643.8 142.5,644.3 C143.9,644.7 145.2,645.2 146.6,645.6 C147.9,646.1 149.2,646.5 150.6,647.0 C151.9,647.4 153.2,647.9 154.6,648.3 C155.9,648.7 157.3,649.2 158.6,649.6 C159.9,650.1 161.3,650.5 162.6,650.9 C164.0,651.4 165.3,651.8 166.6,652.2 C168.0,652.7 169.3,653.1 170.6,653.5 C172.0,653.9 173.3,654.4 174.7,654.8 C176.0,655.2 177.3,655.6 178.7,656.1 C180.0,656.5 181.4,656.9 182.7,657.3 C184.0,657.7 185.4,658.2 186.7,658.6 C188.0,659.0 189.4,659.4 190.7,659.8 C192.1,660.2 193.4,660.6 194.7,661.0 C196.1,661.4 197.4,661.8 198.8,662.2 C200.1,662.6 201.4,663.0 202.8,663.4 C204.1,663.8 205.5,664.2 206.8,664.6 C208.1,665.0 209.5,665.4 210.8,665.8 C212.1,666.2 213.5,666.6 214.8,667.0 C216.2,667.4 217.5,667.8 218.8,668.2 C220.2,668.6 221.5,668.9 222.9,669.3 C224.2,669.7 225.5,670.1 226.9,670.5 C228.2,670.8 229.5,671.2 230.9,671.6 C232.2,672.0 234.2,672.5 234.9,672.7"/>
</g>
<g font-size="11.5" fill="#1a1a1a" stroke="#1a1a1a" stroke-width="0.3">
<text x="240.5" y="604.2">apo</text>
<text x="240.5" y="622.2">holo</text>
<text x="240.5" y="657.1">apo</text>
<text x="240.5" y="674.8">holo</text>
</g>
<text transform="translate(236.0,589.5) rotate(17.0)" font-size="10" fill="#111"  text-anchor="end" stroke="#111" stroke-width="0.3">34/102-W138F:</text>
<text transform="translate(236.0,646.5) rotate(19.0)" font-size="10" fill="#111"  text-anchor="end" stroke="#111" stroke-width="0.3">34/151-W138F:</text>
<g fill="#b3b3b3">
<rect x="361.00" y="151.50" width="3.90" height="8.00"/>
<rect x="365.90" y="145.50" width="3.90" height="14.00"/>
<rect x="370.80" y="138.50" width="3.90" height="21.00"/>
<rect x="375.70" y="128.50" width="3.90" height="31.00"/>
<rect x="380.60" y="116.50" width="3.90" height="43.00"/>
<rect x="385.50" y="104.50" width="3.90" height="55.00"/>
<rect x="390.40" y="93.50" width="3.90" height="66.00"/>
<rect x="395.30" y="81.50" width="3.90" height="78.00"/>
<rect x="400.20" y="71.50" width="3.90" height="88.00"/>
<rect x="405.10" y="64.50" width="3.90" height="95.00"/>
<rect x="410.00" y="63.50" width="3.90" height="96.00"/>
<rect x="414.90" y="75.50" width="3.90" height="84.00"/>
<rect x="419.80" y="86.50" width="3.90" height="73.00"/>
<rect x="424.70" y="103.50" width="3.90" height="56.00"/>
<rect x="429.60" y="123.50" width="3.90" height="36.00"/>
<rect x="434.50" y="141.50" width="3.90" height="18.00"/>
<rect x="439.40" y="153.50" width="3.90" height="6.00"/>
<rect x="444.30" y="158.00" width="3.90" height="1.50"/>
</g>
<path d="M360.0,160.0 H531.8" stroke="#a0a0a0" stroke-width="1"/>
<g font-size="12.5" fill="#1a1a1a" stroke="#1a1a1a" stroke-width="0.25" text-anchor="middle">
<text x="386.7" y="179.0">2</text>
<text x="435.6" y="179.0">3</text>
<text x="484.2" y="179.0">4</text>
<text x="531.6" y="179.0">5</text>
</g>
<text x="450.5" y="192.5" font-size="13" text-anchor="middle" fill="#1a1a1a" stroke="#1a1a1a" stroke-width="0.25">Distance (nm)</text>
<text x="460.0" y="119.3" font-size="12.7" fill="#1a1a1a" stroke="#1a1a1a" stroke-width="0.25">34/151-D33P</text>
<path d="M360.00,159.47 L360.57,159.47 L361.15,159.46 L361.72,159.45 L362.29,159.44 L362.86,159.42 L363.44,159.40 L364.01,159.38 L364.58,159.35 L365.15,159.32 L365.73,159.28 L366.30,159.23 L366.87,159.17 L367.44,159.10 L368.02,159.02 L368.59,158.92 L369.16,158.80 L369.74,158.67 L370.31,158.51 L370.88,158.32 L371.45,158.10 L372.03,157.85 L372.60,157.56 L373.17,157.23 L373.74,156.85 L374.32,156.42 L374.89,155.94 L375.46,155.39 L376.03,154.77 L376.61,154.08 L377.18,153.32 L377.75,152.47 L378.33,151.54 L378.90,150.51 L379.47,149.39 L380.04,148.18 L380.62,146.86 L381.19,145.44 L381.76,143.91 L382.33,142.28 L382.91,140.55 L383.48,138.72 L384.05,136.79 L384.62,134.77 L385.20,132.66 L385.77,130.47 L386.34,128.21 L386.92,125.89 L387.49,123.51 L388.06,121.08 L388.63,118.62 L389.21,116.14 L389.78,113.65 L390.35,111.16 L390.92,108.69 L391.50,106.23 L392.07,103.81 L392.64,101.44 L393.21,99.11 L393.79,96.85 L394.36,94.66 L394.93,92.54 L395.51,90.49 L396.08,88.53 L396.65,86.64 L397.22,84.84 L397.80,83.12 L398.37,81.47 L398.94,79.91 L399.51,78.41 L400.09,76.98 L400.66,75.61 L401.23,74.29 L401.80,73.03 L402.38,71.81 L402.95,70.64 L403.52,69.50 L404.10,68.40 L404.67,67.33 L405.24,66.29 L405.81,65.28 L406.39,64.30 L406.96,63.36 L407.53,62.45 L408.10,61.59 L408.68,60.77 L409.25,60.00 L409.82,59.29 L410.39,58.65 L410.97,58.08 L411.54,57.60 L412.11,57.20 L412.69,56.91 L413.26,56.72 L413.83,56.64 L414.40,56.69 L414.98,56.64 L415.55,56.66 L416.12,56.65 L416.69,56.65 L417.27,56.66 L417.84,56.64 L418.41,56.69 L418.98,56.86 L419.56,57.16 L420.13,57.60 L420.70,58.18 L421.28,58.90 L421.85,59.76 L422.42,60.76 L422.99,61.90 L423.57,63.17 L424.14,64.58 L424.71,66.11 L425.28,67.76 L425.86,69.51 L426.43,71.38 L427.00,73.33 L427.57,75.37 L428.15,77.48 L428.72,79.65 L429.29,81.87 L429.87,84.13 L430.44,86.41 L431.01,88.72 L431.58,91.02 L432.16,93.32 L432.73,95.60 L433.30,97.86 L433.87,100.08 L434.45,102.26 L435.02,104.38 L435.59,106.45 L436.16,108.46 L436.74,110.39 L437.31,112.26 L437.88,114.05 L438.46,115.76 L439.03,117.40 L439.60,118.96 L440.17,120.44 L440.75,121.86 L441.32,123.19 L441.89,124.47 L442.46,125.67 L443.04,126.82 L443.61,127.91 L444.18,128.94 L444.75,129.93 L445.33,130.89 L445.90,131.80 L446.47,132.68 L447.05,133.54 L447.62,134.37 L448.19,135.19 L448.76,135.99 L449.34,136.78 L449.91,137.56 L450.48,138.33 L451.05,139.11 L451.63,139.88 L452.20,140.64 L452.77,141.41 L453.34,142.17 L453.92,142.94 L454.49,143.69 L455.06,144.45 L455.64,145.20 L456.21,145.95 L456.78,146.68 L457.35,147.41 L457.93,148.12 L458.50,148.82 L459.07,149.50 L459.64,150.16 L460.22,150.81 L460.79,151.43 L461.36,152.03 L461.93,152.60 L462.51,153.15 L463.08,153.67 L463.65,154.17 L464.23,154.63 L464.80,155.07 L465.37,155.49 L465.94,155.87 L466.52,156.23 L467.09,156.56 L467.66,156.87 L468.23,157.15 L468.81,157.41 L469.38,157.64 L469.95,157.86 L470.52,158.05 L471.10,158.23 L471.67,158.39 L472.24,158.53 L472.82,158.65 L473.39,158.77 L473.96,158.87 L474.53,158.95 L475.11,159.03 L475.68,159.10 L476.25,159.16 L476.82,159.21 L477.40,159.25 L477.97,159.29 L478.54,159.32 L479.11,159.35 L479.69,159.38 L480.26,159.40 L480.83,159.41 L481.41,159.43 L481.98,159.44 L482.55,159.45 L483.12,159.46 L483.70,159.47 L484.27,159.47 L484.84,159.48 L485.41,159.48 L485.99,159.49 L486.56,159.49 L487.13,159.49 L487.70,159.49 L488.28,159.49 L488.85,159.50 L489.42,159.50 L490.00,159.50 L490.57,159.50 L491.14,159.50 L491.71,159.50 L492.29,159.50 L492.86,159.50 L493.43,159.50 L494.00,159.50 L494.58,159.50 L495.15,159.50 L495.72,159.50 L496.29,159.50 L496.87,159.50 L497.44,159.50 L498.01,159.50 L498.59,159.50 L499.16,159.50 L499.73,159.50 L500.30,159.50 L500.88,159.50 L501.45,159.50 L502.02,159.50 L502.59,159.50 L503.17,159.50 L503.74,159.50 L504.31,159.50 L504.88,159.50 L505.46,159.50 L506.03,159.50 L506.60,159.50 L507.18,159.50 L507.75,159.50 L508.32,159.50 L508.89,159.50 L509.47,159.50 L510.04,159.50 L510.61,159.50 L511.18,159.50 L511.76,159.50 L512.33,159.50 L512.90,159.50 L513.47,159.50 L514.05,159.50 L514.62,159.50 L515.19,159.50 L515.77,159.50 L516.34,159.50 L516.91,159.50 L517.48,159.50 L518.06,159.50 L518.63,159.50 L519.20,159.50 L519.77,159.50 L520.35,159.50 L520.92,159.50 L521.49,159.50 L522.06,159.50 L522.64,159.50 L523.21,159.50 L523.78,159.50 L524.36,159.50 L524.93,159.50 L525.50,159.50 L526.07,159.50 L526.65,159.50 L527.22,159.50 L527.79,159.50 L528.36,159.50 L528.94,159.50 L529.51,159.50 L530.08,159.50 L530.65,159.50 L531.23,159.50 L531.80,159.50 L531.80,159.50 L531.23,159.50 L530.65,159.50 L530.08,159.50 L529.51,159.50 L528.94,159.50 L528.36,159.50 L527.79,159.50 L527.22,159.50 L526.65,159.50 L526.07,159.50 L525.50,159.50 L524.93,159.50 L524.36,159.50 L523.78,159.50 L523.21,159.50 L522.64,159.50 L522.06,159.50 L521.49,159.50 L520.92,159.50 L520.35,159.50 L519.77,159.50 L519.20,159.50 L518.63,159.50 L518.06,159.50 L517.48,159.50 L516.91,159.50 L516.34,159.50 L515.77,159.50 L515.19,159.50 L514.62,159.50 L514.05,159.50 L513.47,159.50 L512.90,159.50 L512.33,159.50 L511.76,159.50 L511.18,159.50 L510.61,159.50 L510.04,159.50 L509.47,159.50 L508.89,159.50 L508.32,159.50 L507.75,159.50 L507.18,159.50 L506.60,159.50 L506.03,159.50 L505.46,159.50 L504.88,159.50 L504.31,159.50 L503.74,159.50 L503.17,159.50 L502.59,159.50 L502.02,159.50 L501.45,159.50 L500.88,159.50 L500.30,159.50 L499.73,159.50 L499.16,159.50 L498.59,159.50 L498.01,159.50 L497.44,159.50 L496.87,159.50 L496.29,159.50 L495.72,159.50 L495.15,159.50 L494.58,159.50 L494.00,159.50 L493.43,159.50 L492.86,159.50 L492.29,159.50 L491.71,159.50 L491.14,159.50 L490.57,159.50 L490.00,159.50 L489.42,159.50 L488.85,159.50 L488.28,159.50 L487.70,159.50 L487.13,159.50 L486.56,159.50 L485.99,159.50 L485.41,159.50 L484.84,159.50 L484.27,159.50 L483.70,159.49 L483.12,159.49 L482.55,159.49 L481.98,159.49 L481.41,159.49 L480.83,159.48 L480.26,159.48 L479.69,159.47 L479.11,159.47 L478.54,159.46 L477.97,159.45 L477.40,159.44 L476.82,159.43 L476.25,159.41 L475.68,159.39 L475.11,159.37 L474.53,159.35 L473.96,159.32 L473.39,159.29 L472.82,159.25 L472.24,159.21 L471.67,159.16 L471.10,159.10 L470.52,159.03 L469.95,158.96 L469.38,158.87 L468.81,158.78 L468.23,158.67 L467.66,158.55 L467.09,158.41 L466.52,158.27 L465.94,158.10 L465.37,157.92 L464.80,157.72 L464.23,157.49 L463.65,157.25 L463.08,156.99 L462.51,156.71 L461.93,156.40 L461.36,156.07 L460.79,155.72 L460.22,155.35 L459.64,154.95 L459.07,154.53 L458.50,154.08 L457.93,153.61 L457.35,153.13 L456.78,152.62 L456.21,152.09 L455.64,151.54 L455.06,150.97 L454.49,150.39 L453.92,149.80 L453.34,149.19 L452.77,148.57 L452.20,147.94 L451.63,147.31 L451.05,146.67 L450.48,146.03 L449.91,145.38 L449.34,144.73 L448.76,144.08 L448.19,143.43 L447.62,142.77 L447.05,142.12 L446.47,141.46 L445.90,140.80 L445.33,140.13 L444.75,139.46 L444.18,138.78 L443.61,138.08 L443.04,137.37 L442.46,136.64 L441.89,135.89 L441.32,135.11 L440.75,134.30 L440.17,133.46 L439.60,132.57 L439.03,131.64 L438.46,130.67 L437.88,129.64 L437.31,128.56 L436.74,127.41 L436.16,126.21 L435.59,124.95 L435.02,123.62 L434.45,122.22 L433.87,120.76 L433.30,119.23 L432.73,117.64 L432.16,115.99 L431.58,114.28 L431.01,112.52 L430.44,110.71 L429.87,108.86 L429.29,106.96 L428.72,105.04 L428.15,103.10 L427.57,101.14 L427.00,99.17 L426.43,97.21 L425.86,95.26 L425.28,93.34 L424.71,91.45 L424.14,89.60 L423.57,87.80 L422.99,86.07 L422.42,84.41 L421.85,82.82 L421.28,81.33 L420.70,79.92 L420.13,78.62 L419.56,77.43 L418.98,76.34 L418.41,75.38 L417.84,74.53 L417.27,73.79 L416.69,73.18 L416.12,72.69 L415.55,72.69 L414.98,73.10 L414.40,73.58 L413.83,74.13 L413.26,74.73 L412.69,75.38 L412.11,76.08 L411.54,76.82 L410.97,77.59 L410.39,78.39 L409.82,79.22 L409.25,80.08 L408.68,80.97 L408.10,81.88 L407.53,82.82 L406.96,83.79 L406.39,84.79 L405.81,85.82 L405.24,86.90 L404.67,88.02 L404.10,89.18 L403.52,90.40 L402.95,91.68 L402.38,93.01 L401.80,94.41 L401.23,95.88 L400.66,97.41 L400.09,99.02 L399.51,100.69 L398.94,102.43 L398.37,104.24 L397.80,106.10 L397.22,108.03 L396.65,110.01 L396.08,112.03 L395.51,114.09 L394.93,116.18 L394.36,118.29 L393.79,120.41 L393.21,122.53 L392.64,124.65 L392.07,126.74 L391.50,128.81 L390.92,130.84 L390.35,132.82 L389.78,134.75 L389.21,136.61 L388.63,138.41 L388.06,140.13 L387.49,141.77 L386.92,143.34 L386.34,144.81 L385.77,146.20 L385.20,147.50 L384.62,148.71 L384.05,149.84 L383.48,150.88 L382.91,151.83 L382.33,152.71 L381.76,153.50 L381.19,154.22 L380.62,154.88 L380.04,155.46 L379.47,155.99 L378.90,156.46 L378.33,156.87 L377.75,157.24 L377.18,157.56 L376.61,157.85 L376.03,158.09 L375.46,158.31 L374.89,158.49 L374.32,158.65 L373.74,158.79 L373.17,158.90 L372.60,159.00 L372.03,159.09 L371.45,159.16 L370.88,159.22 L370.31,159.27 L369.74,159.31 L369.16,159.35 L368.59,159.37 L368.02,159.40 L367.44,159.42 L366.87,159.43 L366.30,159.45 L365.73,159.46 L365.15,159.47 L364.58,159.47 L364.01,159.48 L363.44,159.48 L362.86,159.49 L362.29,159.49 L361.72,159.49 L361.15,159.49 L360.57,159.49 L360.00,159.50 Z" fill="#66c2f0" opacity="0.90"/>
<path d="M360.00,157.95 L360.57,157.79 L361.15,157.61 L361.72,157.41 L362.29,157.20 L362.86,156.97 L363.44,156.72 L364.01,156.45 L364.58,156.15 L365.15,155.84 L365.73,155.50 L366.30,155.13 L366.87,154.74 L367.44,154.32 L368.02,153.87 L368.59,153.39 L369.16,152.87 L369.74,152.33 L370.31,151.74 L370.88,151.13 L371.45,150.47 L372.03,149.78 L372.60,149.05 L373.17,148.27 L373.74,147.46 L374.32,146.60 L374.89,145.71 L375.46,144.77 L376.03,143.79 L376.61,142.76 L377.18,141.69 L377.75,140.58 L378.33,139.42 L378.90,138.23 L379.47,136.99 L380.04,135.71 L380.62,134.39 L381.19,133.03 L381.76,131.64 L382.33,130.21 L382.91,128.75 L383.48,127.25 L384.05,125.73 L384.62,124.18 L385.20,122.61 L385.77,121.01 L386.34,119.40 L386.92,117.77 L387.49,116.13 L388.06,114.48 L388.63,112.83 L389.21,111.17 L389.78,109.51 L390.35,107.86 L390.92,106.21 L391.50,104.58 L392.07,102.95 L392.64,101.35 L393.21,99.76 L393.79,98.20 L394.36,96.66 L394.93,95.14 L395.51,93.66 L396.08,92.20 L396.65,90.78 L397.22,89.39 L397.80,88.04 L398.37,86.72 L398.94,85.44 L399.51,84.19 L400.09,82.98 L400.66,81.81 L401.23,80.67 L401.80,79.57 L402.38,78.51 L402.95,77.48 L403.52,76.48 L404.10,75.51 L404.67,74.58 L405.24,73.68 L405.81,72.81 L406.39,71.96 L406.96,71.15 L407.53,70.37 L408.10,69.61 L408.68,68.88 L409.25,68.19 L409.82,67.52 L410.39,66.89 L410.97,66.29 L411.54,65.73 L412.11,65.20 L412.69,64.72 L413.26,64.27 L413.83,63.88 L414.40,63.54 L414.98,63.25 L415.55,63.03 L416.12,62.86 L416.69,62.77 L417.27,62.75 L417.84,62.80 L418.41,62.76 L418.98,62.75 L419.56,62.82 L420.13,62.75 L420.70,62.76 L421.28,62.80 L421.85,62.75 L422.42,62.77 L422.99,62.78 L423.57,62.75 L424.14,62.79 L424.71,62.91 L425.28,63.12 L425.86,63.42 L426.43,63.82 L427.00,64.31 L427.57,64.91 L428.15,65.61 L428.72,66.41 L429.29,67.32 L429.87,68.35 L430.44,69.48 L431.01,70.72 L431.58,72.06 L432.16,73.51 L432.73,75.07 L433.30,76.72 L433.87,78.47 L434.45,80.31 L435.02,82.24 L435.59,84.24 L436.16,86.32 L436.74,88.46 L437.31,90.66 L437.88,92.91 L438.46,95.21 L439.03,97.53 L439.60,99.88 L440.17,102.24 L440.75,104.61 L441.32,106.98 L441.89,109.34 L442.46,111.68 L443.04,114.00 L443.61,116.28 L444.18,118.52 L444.75,120.72 L445.33,122.87 L445.90,124.95 L446.47,126.98 L447.05,128.94 L447.62,130.83 L448.19,132.65 L448.76,134.39 L449.34,136.06 L449.91,137.65 L450.48,139.16 L451.05,140.59 L451.63,141.95 L452.20,143.24 L452.77,144.44 L453.34,145.58 L453.92,146.65 L454.49,147.64 L455.06,148.57 L455.64,149.44 L456.21,150.25 L456.78,151.01 L457.35,151.70 L457.93,152.35 L458.50,152.95 L459.07,153.51 L459.64,154.02 L460.22,154.49 L460.79,154.93 L461.36,155.33 L461.93,155.70 L462.51,156.05 L463.08,156.36 L463.65,156.65 L464.23,156.91 L464.80,157.16 L465.37,157.38 L465.94,157.59 L466.52,157.78 L467.09,157.95 L467.66,158.11 L468.23,158.25 L468.81,158.38 L469.38,158.50 L469.95,158.61 L470.52,158.71 L471.10,158.80 L471.67,158.88 L472.24,158.95 L472.82,159.02 L473.39,159.08 L473.96,159.13 L474.53,159.18 L475.11,159.22 L475.68,159.26 L476.25,159.29 L476.82,159.32 L477.40,159.34 L477.97,159.37 L478.54,159.39 L479.11,159.40 L479.69,159.42 L480.26,159.43 L480.83,159.44 L481.41,159.45 L481.98,159.46 L482.55,159.47 L483.12,159.47 L483.70,159.48 L484.27,159.48 L484.84,159.48 L485.41,159.49 L485.99,159.49 L486.56,159.49 L487.13,159.49 L487.70,159.49 L488.28,159.50 L488.85,159.50 L489.42,159.50 L490.00,159.50 L490.57,159.50 L491.14,159.50 L491.71,159.50 L492.29,159.50 L492.86,159.50 L493.43,159.50 L494.00,159.50 L494.58,159.50 L495.15,159.50 L495.72,159.50 L496.29,159.50 L496.87,159.50 L497.44,159.50 L498.01,159.50 L498.59,159.50 L499.16,159.50 L499.73,159.50 L500.30,159.50 L500.88,159.50 L501.45,159.50 L502.02,159.50 L502.59,159.50 L503.17,159.50 L503.74,159.50 L504.31,159.50 L504.88,159.50 L505.46,159.50 L506.03,159.50 L506.60,159.50 L507.18,159.50 L507.75,159.50 L508.32,159.50 L508.89,159.50 L509.47,159.50 L510.04,159.50 L510.61,159.50 L511.18,159.50 L511.76,159.50 L512.33,159.50 L512.90,159.50 L513.47,159.50 L514.05,159.50 L514.62,159.50 L515.19,159.50 L515.77,159.50 L516.34,159.50 L516.91,159.50 L517.48,159.50 L518.06,159.50 L518.63,159.50 L519.20,159.50 L519.77,159.50 L520.35,159.50 L520.92,159.50 L521.49,159.50 L522.06,159.50 L522.64,159.50 L523.21,159.50 L523.78,159.50 L524.36,159.50 L524.93,159.50 L525.50,159.50 L526.07,159.50 L526.65,159.50 L527.22,159.50 L527.79,159.50 L528.36,159.50 L528.94,159.50 L529.51,159.50 L530.08,159.50 L530.65,159.50 L531.23,159.50 L531.80,159.50 L531.80,159.50 L531.23,159.50 L530.65,159.50 L530.08,159.50 L529.51,159.50 L528.94,159.50 L528.36,159.50 L527.79,159.50 L527.22,159.50 L526.65,159.50 L526.07,159.50 L525.50,159.50 L524.93,159.50 L524.36,159.50 L523.78,159.50 L523.21,159.50 L522.64,159.50 L522.06,159.50 L521.49,159.50 L520.92,159.50 L520.35,159.50 L519.77,159.50 L519.20,159.50 L518.63,159.50 L518.06,159.50 L517.48,159.50 L516.91,159.50 L516.34,159.50 L515.77,159.50 L515.19,159.50 L514.62,159.50 L514.05,159.50 L513.47,159.50 L512.90,159.50 L512.33,159.50 L511.76,159.50 L511.18,159.50 L510.61,159.50 L510.04,159.50 L509.47,159.50 L508.89,159.50 L508.32,159.50 L507.75,159.50 L507.18,159.50 L506.60,159.50 L506.03,159.50 L505.46,159.50 L504.88,159.50 L504.31,159.50 L503.74,159.50 L503.17,159.50 L502.59,159.50 L502.02,159.50 L501.45,159.50 L500.88,159.50 L500.30,159.50 L499.73,159.50 L499.16,159.50 L498.59,159.50 L498.01,159.50 L497.44,159.50 L496.87,159.50 L496.29,159.50 L495.72,159.50 L495.15,159.50 L494.58,159.50 L494.00,159.50 L493.43,159.50 L492.86,159.50 L492.29,159.50 L491.71,159.50 L491.14,159.50 L490.57,159.50 L490.00,159.50 L489.42,159.50 L488.85,159.50 L488.28,159.50 L487.70,159.50 L487.13,159.50 L486.56,159.50 L485.99,159.50 L485.41,159.50 L484.84,159.50 L484.27,159.50 L483.70,159.50 L483.12,159.50 L482.55,159.50 L481.98,159.50 L481.41,159.50 L480.83,159.49 L480.26,159.49 L479.69,159.49 L479.11,159.49 L478.54,159.49 L477.97,159.48 L477.40,159.48 L476.82,159.48 L476.25,159.47 L475.68,159.47 L475.11,159.46 L474.53,159.45 L473.96,159.44 L473.39,159.43 L472.82,159.42 L472.24,159.41 L471.67,159.39 L471.10,159.37 L470.52,159.35 L469.95,159.33 L469.38,159.30 L468.81,159.27 L468.23,159.23 L467.66,159.20 L467.09,159.15 L466.52,159.10 L465.94,159.05 L465.37,158.99 L464.80,158.92 L464.23,158.85 L463.65,158.77 L463.08,158.68 L462.51,158.58 L461.93,158.47 L461.36,158.35 L460.79,158.22 L460.22,158.07 L459.64,157.92 L459.07,157.75 L458.50,157.56 L457.93,157.36 L457.35,157.14 L456.78,156.90 L456.21,156.63 L455.64,156.35 L455.06,156.04 L454.49,155.71 L453.92,155.34 L453.34,154.95 L452.77,154.52 L452.20,154.06 L451.63,153.56 L451.05,153.02 L450.48,152.44 L449.91,151.82 L449.34,151.14 L448.76,150.42 L448.19,149.64 L447.62,148.81 L447.05,147.92 L446.47,146.98 L445.90,145.97 L445.33,144.90 L444.75,143.76 L444.18,142.56 L443.61,141.30 L443.04,139.97 L442.46,138.58 L441.89,137.12 L441.32,135.59 L440.75,134.01 L440.17,132.37 L439.60,130.67 L439.03,128.92 L438.46,127.12 L437.88,125.27 L437.31,123.39 L436.74,121.47 L436.16,119.52 L435.59,117.55 L435.02,115.56 L434.45,113.56 L433.87,111.56 L433.30,109.57 L432.73,107.59 L432.16,105.62 L431.58,103.68 L431.01,101.78 L430.44,99.92 L429.87,98.10 L429.29,96.34 L428.72,94.64 L428.15,93.00 L427.57,91.44 L427.00,89.95 L426.43,88.54 L425.86,87.21 L425.28,85.97 L424.71,84.82 L424.14,83.76 L423.57,82.79 L422.99,81.91 L422.42,81.13 L421.85,80.43 L421.28,79.83 L420.70,79.31 L420.13,78.92 L419.56,79.26 L418.98,79.64 L418.41,80.05 L417.84,80.50 L417.27,80.98 L416.69,81.49 L416.12,82.03 L415.55,82.60 L414.98,83.19 L414.40,83.80 L413.83,84.45 L413.26,85.11 L412.69,85.80 L412.11,86.52 L411.54,87.26 L410.97,88.02 L410.39,88.81 L409.82,89.63 L409.25,90.48 L408.68,91.35 L408.10,92.26 L407.53,93.19 L406.96,94.15 L406.39,95.15 L405.81,96.17 L405.24,97.23 L404.67,98.32 L404.10,99.43 L403.52,100.58 L402.95,101.76 L402.38,102.96 L401.80,104.19 L401.23,105.45 L400.66,106.73 L400.09,108.03 L399.51,109.36 L398.94,110.70 L398.37,112.05 L397.80,113.42 L397.22,114.80 L396.65,116.19 L396.08,117.59 L395.51,118.99 L394.93,120.39 L394.36,121.78 L393.79,123.17 L393.21,124.55 L392.64,125.92 L392.07,127.28 L391.50,128.62 L390.92,129.95 L390.35,131.25 L389.78,132.53 L389.21,133.78 L388.63,135.01 L388.06,136.21 L387.49,137.38 L386.92,138.52 L386.34,139.63 L385.77,140.70 L385.20,141.74 L384.62,142.74 L384.05,143.71 L383.48,144.64 L382.91,145.54 L382.33,146.40 L381.76,147.22 L381.19,148.00 L380.62,148.75 L380.04,149.47 L379.47,150.15 L378.90,150.79 L378.33,151.41 L377.75,151.98 L377.18,152.53 L376.61,153.05 L376.03,153.53 L375.46,153.99 L374.89,154.42 L374.32,154.82 L373.74,155.19 L373.17,155.55 L372.60,155.87 L372.03,156.18 L371.45,156.46 L370.88,156.72 L370.31,156.97 L369.74,157.19 L369.16,157.40 L368.59,157.59 L368.02,157.77 L367.44,157.93 L366.87,158.08 L366.30,158.22 L365.73,158.34 L365.15,158.46 L364.58,158.56 L364.01,158.66 L363.44,158.74 L362.86,158.82 L362.29,158.89 L361.72,158.96 L361.15,159.01 L360.57,159.07 L360.00,159.11 Z" fill="#f3d03c" opacity="0.85"/>
<path d="M360.00,159.49 L360.57,159.49 L361.15,159.48 L361.72,159.48 L362.29,159.47 L362.86,159.47 L363.44,159.46 L364.01,159.45 L364.58,159.44 L365.15,159.42 L365.73,159.40 L366.30,159.38 L366.87,159.35 L367.44,159.32 L368.02,159.27 L368.59,159.22 L369.16,159.16 L369.74,159.09 L370.31,159.01 L370.88,158.91 L371.45,158.79 L372.03,158.66 L372.60,158.50 L373.17,158.31 L373.74,158.09 L374.32,157.84 L374.89,157.56 L375.46,157.23 L376.03,156.85 L376.61,156.43 L377.18,155.95 L377.75,155.41 L378.33,154.81 L378.90,154.14 L379.47,153.39 L380.04,152.56 L380.62,151.66 L381.19,150.66 L381.76,149.58 L382.33,148.41 L382.91,147.14 L383.48,145.77 L384.05,144.31 L384.62,142.76 L385.20,141.11 L385.77,139.36 L386.34,137.53 L386.92,135.62 L387.49,133.63 L388.06,131.57 L388.63,129.44 L389.21,127.26 L389.78,125.04 L390.35,122.78 L390.92,120.49 L391.50,118.18 L392.07,115.88 L392.64,113.58 L393.21,111.29 L393.79,109.04 L394.36,106.82 L394.93,104.64 L395.51,102.52 L396.08,100.45 L396.65,98.46 L397.22,96.53 L397.80,94.67 L398.37,92.89 L398.94,91.18 L399.51,89.55 L400.09,88.00 L400.66,86.51 L401.23,85.09 L401.80,83.73 L402.38,82.44 L402.95,81.20 L403.52,80.00 L404.10,78.86 L404.67,77.75 L405.24,76.68 L405.81,75.64 L406.39,74.64 L406.96,73.66 L407.53,72.71 L408.10,71.80 L408.68,70.91 L409.25,70.05 L409.82,69.23 L410.39,68.45 L410.97,67.71 L411.54,67.03 L412.11,66.41 L412.69,65.85 L413.26,65.36 L413.83,64.95 L414.40,64.63 L414.98,64.40 L415.55,64.28 L416.12,64.27 L416.69,64.37 L417.27,64.59 L417.84,64.93 L418.41,65.40 L418.98,66.00 L419.56,66.73 L420.13,67.59 L420.70,68.58 L421.28,69.69 L421.85,70.93 L422.42,72.29 L422.99,73.76 L423.57,75.34 L424.14,77.02 L424.71,78.78 L425.28,80.63 L425.86,82.55 L426.43,84.54 L427.00,86.57 L427.57,88.65 L428.15,90.75 L428.72,92.88 L429.29,95.01 L429.87,97.14 L430.44,99.27 L431.01,101.37 L431.58,103.44 L432.16,105.48 L432.73,107.47 L433.30,109.42 L433.87,111.30 L434.45,113.13 L435.02,114.89 L435.59,116.58 L436.16,118.21 L436.74,119.76 L437.31,121.24 L437.88,122.65 L438.46,123.99 L439.03,125.26 L439.60,126.47 L440.17,127.62 L440.75,128.71 L441.32,129.74 L441.89,130.72 L442.46,131.66 L443.04,132.56 L443.61,133.43 L444.18,134.26 L444.75,135.06 L445.33,135.84 L445.90,136.61 L446.47,137.35 L447.05,138.09 L447.62,138.82 L448.19,139.54 L448.76,140.25 L449.34,140.97 L449.91,141.68 L450.48,142.39 L451.05,143.10 L451.63,143.80 L452.20,144.51 L452.77,145.21 L453.34,145.91 L453.92,146.60 L454.49,147.29 L455.06,147.96 L455.64,148.63 L456.21,149.28 L456.78,149.92 L457.35,150.54 L457.93,151.15 L458.50,151.74 L459.07,152.30 L459.64,152.84 L460.22,153.36 L460.79,153.86 L461.36,154.33 L461.93,154.78 L462.51,155.20 L463.08,155.59 L463.65,155.96 L464.23,156.31 L464.80,156.63 L465.37,156.92 L465.94,157.19 L466.52,157.44 L467.09,157.67 L467.66,157.88 L468.23,158.07 L468.81,158.24 L469.38,158.40 L469.95,158.54 L470.52,158.66 L471.10,158.77 L471.67,158.87 L472.24,158.95 L472.82,159.03 L473.39,159.10 L473.96,159.15 L474.53,159.21 L475.11,159.25 L475.68,159.29 L476.25,159.32 L476.82,159.35 L477.40,159.37 L477.97,159.39 L478.54,159.41 L479.11,159.43 L479.69,159.44 L480.26,159.45 L480.83,159.46 L481.41,159.47 L481.98,159.47 L482.55,159.48 L483.12,159.48 L483.70,159.49 L484.27,159.49 L484.84,159.49 L485.41,159.49 L485.99,159.49 L486.56,159.50 L487.13,159.50 L487.70,159.50 L488.28,159.50 L488.85,159.50 L489.42,159.50 L490.00,159.50 L490.57,159.50 L491.14,159.50 L491.71,159.50 L492.29,159.50 L492.86,159.50 L493.43,159.50 L494.00,159.50 L494.58,159.50 L495.15,159.50 L495.72,159.50 L496.29,159.50 L496.87,159.50 L497.44,159.50 L498.01,159.50 L498.59,159.50 L499.16,159.50 L499.73,159.50 L500.30,159.50 L500.88,159.50 L501.45,159.50 L502.02,159.50 L502.59,159.50 L503.17,159.50 L503.74,159.50 L504.31,159.50 L504.88,159.50 L505.46,159.50 L506.03,159.50 L506.60,159.50 L507.18,159.50 L507.75,159.50 L508.32,159.50 L508.89,159.50 L509.47,159.50 L510.04,159.50 L510.61,159.50 L511.18,159.50 L511.76,159.50 L512.33,159.50 L512.90,159.50 L513.47,159.50 L514.05,159.50 L514.62,159.50 L515.19,159.50 L515.77,159.50 L516.34,159.50 L516.91,159.50 L517.48,159.50 L518.06,159.50 L518.63,159.50 L519.20,159.50 L519.77,159.50 L520.35,159.50 L520.92,159.50 L521.49,159.50 L522.06,159.50 L522.64,159.50 L523.21,159.50 L523.78,159.50 L524.36,159.50 L524.93,159.50 L525.50,159.50 L526.07,159.50 L526.65,159.50 L527.22,159.50 L527.79,159.50 L528.36,159.50 L528.94,159.50 L529.51,159.50 L530.08,159.50 L530.65,159.50 L531.23,159.50 L531.80,159.50" fill="none" stroke="#0d6fc2" stroke-width="2.2" stroke-linejoin="round"/>
<path d="M360.00,158.71 L360.57,158.62 L361.15,158.52 L361.72,158.41 L362.29,158.29 L362.86,158.15 L363.44,158.01 L364.01,157.85 L364.58,157.68 L365.15,157.50 L365.73,157.29 L366.30,157.07 L366.87,156.83 L367.44,156.58 L368.02,156.30 L368.59,156.00 L369.16,155.68 L369.74,155.33 L370.31,154.96 L370.88,154.56 L371.45,154.13 L372.03,153.67 L372.60,153.19 L373.17,152.67 L373.74,152.12 L374.32,151.54 L374.89,150.92 L375.46,150.27 L376.03,149.58 L376.61,148.85 L377.18,148.08 L377.75,147.28 L378.33,146.44 L378.90,145.55 L379.47,144.63 L380.04,143.67 L380.62,142.67 L381.19,141.63 L381.76,140.55 L382.33,139.43 L382.91,138.27 L383.48,137.08 L384.05,135.84 L384.62,134.58 L385.20,133.28 L385.77,131.95 L386.34,130.59 L386.92,129.20 L387.49,127.79 L388.06,126.35 L388.63,124.89 L389.21,123.42 L389.78,121.93 L390.35,120.42 L390.92,118.90 L391.50,117.38 L392.07,115.85 L392.64,114.33 L393.21,112.80 L393.79,111.28 L394.36,109.76 L394.93,108.26 L395.51,106.77 L396.08,105.30 L396.65,103.84 L397.22,102.41 L397.80,101.00 L398.37,99.62 L398.94,98.26 L399.51,96.93 L400.09,95.63 L400.66,94.37 L401.23,93.13 L401.80,91.93 L402.38,90.76 L402.95,89.63 L403.52,88.53 L404.10,87.46 L404.67,86.43 L405.24,85.43 L405.81,84.46 L406.39,83.52 L406.96,82.61 L407.53,81.74 L408.10,80.89 L408.68,80.07 L409.25,79.27 L409.82,78.51 L410.39,77.77 L410.97,77.06 L411.54,76.37 L412.11,75.72 L412.69,75.09 L413.26,74.48 L413.83,73.91 L414.40,73.37 L414.98,72.87 L415.55,72.40 L416.12,71.97 L416.69,71.58 L417.27,71.24 L417.84,70.94 L418.41,70.70 L418.98,70.51 L419.56,70.39 L420.13,70.33 L420.70,70.34 L421.28,70.42 L421.85,70.58 L422.42,70.83 L422.99,71.16 L423.57,71.57 L424.14,72.08 L424.71,72.69 L425.28,73.39 L425.86,74.19 L426.43,75.09 L427.00,76.09 L427.57,77.19 L428.15,78.39 L428.72,79.69 L429.29,81.08 L429.87,82.57 L430.44,84.15 L431.01,85.81 L431.58,87.55 L432.16,89.37 L432.73,91.26 L433.30,93.21 L433.87,95.22 L434.45,97.27 L435.02,99.37 L435.59,101.50 L436.16,103.65 L436.74,105.83 L437.31,108.01 L437.88,110.20 L438.46,112.38 L439.03,114.54 L439.60,116.69 L440.17,118.80 L440.75,120.89 L441.32,122.93 L441.89,124.93 L442.46,126.87 L443.04,128.76 L443.61,130.60 L444.18,132.36 L444.75,134.07 L445.33,135.70 L445.90,137.27 L446.47,138.76 L447.05,140.19 L447.62,141.54 L448.19,142.82 L448.76,144.03 L449.34,145.17 L449.91,146.25 L450.48,147.26 L451.05,148.20 L451.63,149.08 L452.20,149.91 L452.77,150.68 L453.34,151.39 L453.92,152.06 L454.49,152.67 L455.06,153.24 L455.64,153.77 L456.21,154.26 L456.78,154.71 L457.35,155.13 L457.93,155.51 L458.50,155.86 L459.07,156.19 L459.64,156.49 L460.22,156.77 L460.79,157.02 L461.36,157.25 L461.93,157.47 L462.51,157.66 L463.08,157.84 L463.65,158.01 L464.23,158.16 L464.80,158.30 L465.37,158.42 L465.94,158.54 L466.52,158.64 L467.09,158.74 L467.66,158.82 L468.23,158.90 L468.81,158.97 L469.38,159.03 L469.95,159.09 L470.52,159.14 L471.10,159.19 L471.67,159.23 L472.24,159.26 L472.82,159.29 L473.39,159.32 L473.96,159.35 L474.53,159.37 L475.11,159.39 L475.68,159.40 L476.25,159.42 L476.82,159.43 L477.40,159.44 L477.97,159.45 L478.54,159.46 L479.11,159.47 L479.69,159.47 L480.26,159.48 L480.83,159.48 L481.41,159.48 L481.98,159.49 L482.55,159.49 L483.12,159.49 L483.70,159.49 L484.27,159.49 L484.84,159.50 L485.41,159.50 L485.99,159.50 L486.56,159.50 L487.13,159.50 L487.70,159.50 L488.28,159.50 L488.85,159.50 L489.42,159.50 L490.00,159.50 L490.57,159.50 L491.14,159.50 L491.71,159.50 L492.29,159.50 L492.86,159.50 L493.43,159.50 L494.00,159.50 L494.58,159.50 L495.15,159.50 L495.72,159.50 L496.29,159.50 L496.87,159.50 L497.44,159.50 L498.01,159.50 L498.59,159.50 L499.16,159.50 L499.73,159.50 L500.30,159.50 L500.88,159.50 L501.45,159.50 L502.02,159.50 L502.59,159.50 L503.17,159.50 L503.74,159.50 L504.31,159.50 L504.88,159.50 L505.46,159.50 L506.03,159.50 L506.60,159.50 L507.18,159.50 L507.75,159.50 L508.32,159.50 L508.89,159.50 L509.47,159.50 L510.04,159.50 L510.61,159.50 L511.18,159.50 L511.76,159.50 L512.33,159.50 L512.90,159.50 L513.47,159.50 L514.05,159.50 L514.62,159.50 L515.19,159.50 L515.77,159.50 L516.34,159.50 L516.91,159.50 L517.48,159.50 L518.06,159.50 L518.63,159.50 L519.20,159.50 L519.77,159.50 L520.35,159.50 L520.92,159.50 L521.49,159.50 L522.06,159.50 L522.64,159.50 L523.21,159.50 L523.78,159.50 L524.36,159.50 L524.93,159.50 L525.50,159.50 L526.07,159.50 L526.65,159.50 L527.22,159.50 L527.79,159.50 L528.36,159.50 L528.94,159.50 L529.51,159.50 L530.08,159.50 L530.65,159.50 L531.23,159.50 L531.80,159.50" fill="none" stroke="#e67a0c" stroke-width="2.2" stroke-linejoin="round"/>
<g fill="#b3b3b3">
<rect x="571.40" y="151.50" width="3.90" height="7.60"/>
<rect x="576.31" y="146.40" width="3.90" height="12.70"/>
<rect x="581.22" y="138.80" width="3.90" height="20.30"/>
<rect x="586.13" y="128.70" width="3.90" height="30.40"/>
<rect x="591.04" y="116.00" width="3.90" height="43.10"/>
<rect x="595.95" y="105.40" width="3.90" height="53.70"/>
<rect x="600.86" y="93.20" width="3.90" height="65.90"/>
<rect x="605.77" y="81.80" width="3.90" height="77.30"/>
<rect x="610.68" y="71.70" width="3.90" height="87.40"/>
<rect x="615.59" y="64.80" width="3.90" height="94.30"/>
<rect x="620.50" y="64.10" width="3.90" height="95.00"/>
<rect x="625.41" y="75.50" width="3.90" height="83.60"/>
<rect x="630.32" y="86.90" width="3.90" height="72.20"/>
<rect x="635.23" y="104.60" width="3.90" height="54.50"/>
<rect x="640.14" y="123.60" width="3.90" height="35.50"/>
<rect x="645.05" y="141.30" width="3.90" height="17.80"/>
<rect x="649.96" y="154.00" width="3.90" height="5.10"/>
<rect x="654.87" y="157.80" width="3.90" height="1.30"/>
</g>
<path d="M570.6,159.6 H743.0" stroke="#a0a0a0" stroke-width="1"/>
<g font-size="12.5" fill="#1a1a1a" stroke="#1a1a1a" stroke-width="0.25" text-anchor="middle">
<text x="598.0" y="178.8">2</text>
<text x="646.6" y="178.8">3</text>
<text x="695.0" y="178.8">4</text>
<text x="742.0" y="178.8">5</text>
</g>
<text x="663.0" y="192.5" font-size="13" text-anchor="middle" fill="#1a1a1a" stroke="#1a1a1a" stroke-width="0.25">Distance (nm)</text>
<text x="676.5" y="120.8" font-size="12.7" fill="#1a1a1a" stroke="#1a1a1a" stroke-width="0.25">34/151-K98E</text>
<path d="M570.60,158.18 L571.17,158.06 L571.75,157.94 L572.32,157.79 L572.90,157.64 L573.47,157.46 L574.05,157.26 L574.62,157.04 L575.20,156.80 L575.77,156.54 L576.35,156.24 L576.92,155.92 L577.50,155.56 L578.07,155.17 L578.65,154.75 L579.22,154.29 L579.79,153.79 L580.37,153.24 L580.94,152.66 L581.52,152.03 L582.09,151.35 L582.67,150.62 L583.24,149.85 L583.82,149.03 L584.39,148.16 L584.97,147.24 L585.54,146.28 L586.12,145.26 L586.69,144.20 L587.27,143.09 L587.84,141.94 L588.41,140.75 L588.99,139.52 L589.56,138.25 L590.14,136.95 L590.71,135.61 L591.29,134.25 L591.86,132.87 L592.44,131.46 L593.01,130.03 L593.59,128.60 L594.16,127.15 L594.74,125.69 L595.31,124.23 L595.89,122.76 L596.46,121.29 L597.03,119.83 L597.61,118.36 L598.18,116.90 L598.76,115.45 L599.33,114.00 L599.91,112.55 L600.48,111.10 L601.06,109.66 L601.63,108.22 L602.21,106.78 L602.78,105.33 L603.36,103.88 L603.93,102.42 L604.51,100.95 L605.08,99.47 L605.65,97.98 L606.23,96.48 L606.80,94.95 L607.38,93.42 L607.95,91.86 L608.53,90.28 L609.10,88.69 L609.68,87.09 L610.25,85.47 L610.83,83.83 L611.40,82.19 L611.98,80.55 L612.55,78.90 L613.13,77.26 L613.70,75.63 L614.27,74.01 L614.85,72.41 L615.42,70.85 L616.00,69.32 L616.57,67.83 L617.15,66.39 L617.72,65.01 L618.30,63.70 L618.87,62.46 L619.45,61.31 L620.02,60.24 L620.60,59.27 L621.17,58.39 L621.75,57.63 L622.32,56.98 L622.89,56.45 L623.47,56.04 L624.04,55.76 L624.62,55.61 L625.19,55.59 L625.77,55.59 L626.34,55.62 L626.92,55.59 L627.49,55.59 L628.07,55.61 L628.64,55.58 L629.22,55.66 L629.79,55.88 L630.37,56.23 L630.94,56.72 L631.51,57.34 L632.09,58.09 L632.66,58.97 L633.24,59.98 L633.81,61.11 L634.39,62.37 L634.96,63.73 L635.54,65.21 L636.11,66.78 L636.69,68.46 L637.26,70.22 L637.84,72.07 L638.41,74.00 L638.99,75.99 L639.56,78.05 L640.13,80.16 L640.71,82.32 L641.28,84.51 L641.86,86.74 L642.43,88.99 L643.01,91.26 L643.58,93.54 L644.16,95.82 L644.73,98.10 L645.31,100.37 L645.88,102.62 L646.46,104.86 L647.03,107.06 L647.61,109.24 L648.18,111.38 L648.75,113.48 L649.33,115.54 L649.90,117.55 L650.48,119.51 L651.05,121.42 L651.63,123.28 L652.20,125.07 L652.78,126.82 L653.35,128.50 L653.93,130.12 L654.50,131.69 L655.08,133.19 L655.65,134.63 L656.23,136.02 L656.80,137.34 L657.37,138.61 L657.95,139.81 L658.52,140.97 L659.10,142.06 L659.67,143.11 L660.25,144.09 L660.82,145.03 L661.40,145.92 L661.97,146.76 L662.55,147.56 L663.12,148.31 L663.70,149.02 L664.27,149.69 L664.85,150.32 L665.42,150.91 L665.99,151.47 L666.57,151.99 L667.14,152.48 L667.72,152.94 L668.29,153.37 L668.87,153.77 L669.44,154.15 L670.02,154.51 L670.59,154.84 L671.17,155.14 L671.74,155.43 L672.32,155.70 L672.89,155.95 L673.47,156.19 L674.04,156.40 L674.61,156.61 L675.19,156.79 L675.76,156.97 L676.34,157.13 L676.91,157.28 L677.49,157.43 L678.06,157.56 L678.64,157.68 L679.21,157.79 L679.79,157.89 L680.36,157.99 L680.94,158.08 L681.51,158.16 L682.09,158.24 L682.66,158.31 L683.23,158.38 L683.81,158.44 L684.38,158.49 L684.96,158.54 L685.53,158.59 L686.11,158.64 L686.68,158.68 L687.26,158.71 L687.83,158.75 L688.41,158.78 L688.98,158.81 L689.56,158.83 L690.13,158.86 L690.71,158.88 L691.28,158.90 L691.85,158.92 L692.43,158.94 L693.00,158.95 L693.58,158.97 L694.15,158.98 L694.73,158.99 L695.30,159.00 L695.88,159.01 L696.45,159.02 L697.03,159.03 L697.60,159.03 L698.18,159.04 L698.75,159.05 L699.33,159.05 L699.90,159.06 L700.47,159.06 L701.05,159.07 L701.62,159.07 L702.20,159.07 L702.77,159.08 L703.35,159.08 L703.92,159.08 L704.50,159.08 L705.07,159.08 L705.65,159.09 L706.22,159.09 L706.80,159.09 L707.37,159.09 L707.95,159.09 L708.52,159.09 L709.09,159.09 L709.67,159.09 L710.24,159.09 L710.82,159.10 L711.39,159.10 L711.97,159.10 L712.54,159.10 L713.12,159.10 L713.69,159.10 L714.27,159.10 L714.84,159.10 L715.42,159.10 L715.99,159.10 L716.57,159.10 L717.14,159.10 L717.71,159.10 L718.29,159.10 L718.86,159.10 L719.44,159.10 L720.01,159.10 L720.59,159.10 L721.16,159.10 L721.74,159.10 L722.31,159.10 L722.89,159.10 L723.46,159.10 L724.04,159.10 L724.61,159.10 L725.19,159.10 L725.76,159.10 L726.33,159.10 L726.91,159.10 L727.48,159.10 L728.06,159.10 L728.63,159.10 L729.21,159.10 L729.78,159.10 L730.36,159.10 L730.93,159.10 L731.51,159.10 L732.08,159.10 L732.66,159.10 L733.23,159.10 L733.81,159.10 L734.38,159.10 L734.95,159.10 L735.53,159.10 L736.10,159.10 L736.68,159.10 L737.25,159.10 L737.83,159.10 L738.40,159.10 L738.98,159.10 L739.55,159.10 L740.13,159.10 L740.70,159.10 L741.28,159.10 L741.85,159.10 L742.43,159.10 L743.00,159.10 L743.00,159.10 L742.43,159.10 L741.85,159.10 L741.28,159.10 L740.70,159.10 L740.13,159.10 L739.55,159.10 L738.98,159.10 L738.40,159.10 L737.83,159.10 L737.25,159.10 L736.68,159.10 L736.10,159.10 L735.53,159.10 L734.95,159.10 L734.38,159.10 L733.81,159.10 L733.23,159.10 L732.66,159.10 L732.08,159.10 L731.51,159.10 L730.93,159.10 L730.36,159.10 L729.78,159.10 L729.21,159.10 L728.63,159.10 L728.06,159.10 L727.48,159.10 L726.91,159.10 L726.33,159.10 L725.76,159.10 L725.19,159.10 L724.61,159.10 L724.04,159.10 L723.46,159.10 L722.89,159.10 L722.31,159.10 L721.74,159.10 L721.16,159.10 L720.59,159.10 L720.01,159.10 L719.44,159.10 L718.86,159.10 L718.29,159.10 L717.71,159.10 L717.14,159.10 L716.57,159.10 L715.99,159.10 L715.42,159.10 L714.84,159.10 L714.27,159.10 L713.69,159.10 L713.12,159.10 L712.54,159.10 L711.97,159.10 L711.39,159.10 L710.82,159.10 L710.24,159.10 L709.67,159.10 L709.09,159.10 L708.52,159.10 L707.95,159.10 L707.37,159.10 L706.80,159.10 L706.22,159.10 L705.65,159.09 L705.07,159.09 L704.50,159.09 L703.92,159.09 L703.35,159.09 L702.77,159.09 L702.20,159.09 L701.62,159.09 L701.05,159.09 L700.47,159.08 L699.90,159.08 L699.33,159.08 L698.75,159.08 L698.18,159.07 L697.60,159.07 L697.03,159.07 L696.45,159.06 L695.88,159.06 L695.30,159.06 L694.73,159.05 L694.15,159.05 L693.58,159.04 L693.00,159.03 L692.43,159.02 L691.85,159.02 L691.28,159.01 L690.71,159.00 L690.13,158.99 L689.56,158.98 L688.98,158.96 L688.41,158.95 L687.83,158.93 L687.26,158.92 L686.68,158.90 L686.11,158.88 L685.53,158.85 L684.96,158.83 L684.38,158.80 L683.81,158.77 L683.23,158.74 L682.66,158.71 L682.09,158.67 L681.51,158.63 L680.94,158.59 L680.36,158.54 L679.79,158.49 L679.21,158.44 L678.64,158.38 L678.06,158.31 L677.49,158.24 L676.91,158.17 L676.34,158.09 L675.76,158.00 L675.19,157.90 L674.61,157.80 L674.04,157.69 L673.47,157.57 L672.89,157.44 L672.32,157.31 L671.74,157.16 L671.17,157.00 L670.59,156.83 L670.02,156.64 L669.44,156.45 L668.87,156.23 L668.29,156.01 L667.72,155.76 L667.14,155.50 L666.57,155.22 L665.99,154.92 L665.42,154.61 L664.85,154.26 L664.27,153.90 L663.70,153.51 L663.12,153.09 L662.55,152.65 L661.97,152.18 L661.40,151.68 L660.82,151.15 L660.25,150.58 L659.67,149.98 L659.10,149.35 L658.52,148.67 L657.95,147.96 L657.37,147.20 L656.80,146.41 L656.23,145.57 L655.65,144.68 L655.08,143.75 L654.50,142.77 L653.93,141.75 L653.35,140.67 L652.78,139.54 L652.20,138.37 L651.63,137.14 L651.05,135.86 L650.48,134.53 L649.90,133.14 L649.33,131.71 L648.75,130.22 L648.18,128.69 L647.61,127.10 L647.03,125.47 L646.46,123.80 L645.88,122.08 L645.31,120.32 L644.73,118.52 L644.16,116.69 L643.58,114.82 L643.01,112.93 L642.43,111.01 L641.86,109.08 L641.28,107.13 L640.71,105.17 L640.13,103.21 L639.56,101.24 L638.99,99.29 L638.41,97.35 L637.84,95.42 L637.26,93.53 L636.69,91.66 L636.11,89.83 L635.54,88.05 L634.96,86.32 L634.39,84.65 L633.81,83.04 L633.24,81.50 L632.66,80.04 L632.09,78.66 L631.51,77.37 L630.94,76.16 L630.37,75.06 L629.79,74.06 L629.22,73.16 L628.64,72.37 L628.07,71.70 L627.49,71.13 L626.92,70.68 L626.34,70.88 L625.77,71.37 L625.19,71.95 L624.62,72.64 L624.04,73.41 L623.47,74.27 L622.89,75.21 L622.32,76.22 L621.75,77.31 L621.17,78.45 L620.60,79.65 L620.02,80.90 L619.45,82.19 L618.87,83.51 L618.30,84.87 L617.72,86.25 L617.15,87.64 L616.57,89.05 L616.00,90.47 L615.42,91.88 L614.85,93.30 L614.27,94.71 L613.70,96.11 L613.13,97.50 L612.55,98.88 L611.98,100.25 L611.40,101.60 L610.83,102.93 L610.25,104.25 L609.68,105.56 L609.10,106.85 L608.53,108.13 L607.95,109.40 L607.38,110.66 L606.80,111.92 L606.23,113.16 L605.65,114.41 L605.08,115.65 L604.51,116.89 L603.93,118.13 L603.36,119.37 L602.78,120.62 L602.21,121.87 L601.63,123.12 L601.06,124.38 L600.48,125.64 L599.91,126.90 L599.33,128.16 L598.76,129.42 L598.18,130.68 L597.61,131.94 L597.03,133.18 L596.46,134.42 L595.89,135.64 L595.31,136.84 L594.74,138.03 L594.16,139.20 L593.59,140.34 L593.01,141.45 L592.44,142.53 L591.86,143.59 L591.29,144.60 L590.71,145.58 L590.14,146.53 L589.56,147.43 L588.99,148.29 L588.41,149.11 L587.84,149.89 L587.27,150.63 L586.69,151.32 L586.12,151.98 L585.54,152.59 L584.97,153.16 L584.39,153.69 L583.82,154.19 L583.24,154.64 L582.67,155.07 L582.09,155.46 L581.52,155.81 L580.94,156.14 L580.37,156.44 L579.79,156.71 L579.22,156.96 L578.65,157.18 L578.07,157.38 L577.50,157.56 L576.92,157.73 L576.35,157.88 L575.77,158.01 L575.20,158.13 L574.62,158.23 L574.05,158.33 L573.47,158.41 L572.90,158.49 L572.32,158.56 L571.75,158.62 L571.17,158.67 L570.60,158.72 Z" fill="#66c2f0" opacity="0.90"/>
<path d="M570.60,157.40 L571.17,157.24 L571.75,157.07 L572.32,156.89 L572.90,156.69 L573.47,156.47 L574.05,156.24 L574.62,155.99 L575.20,155.72 L575.77,155.43 L576.35,155.13 L576.92,154.80 L577.50,154.45 L578.07,154.08 L578.65,153.68 L579.22,153.26 L579.79,152.81 L580.37,152.33 L580.94,151.83 L581.52,151.29 L582.09,150.73 L582.67,150.14 L583.24,149.51 L583.82,148.85 L584.39,148.16 L584.97,147.43 L585.54,146.67 L586.12,145.87 L586.69,145.03 L587.27,144.16 L587.84,143.25 L588.41,142.31 L588.99,141.33 L589.56,140.30 L590.14,139.25 L590.71,138.15 L591.29,137.02 L591.86,135.85 L592.44,134.64 L593.01,133.40 L593.59,132.13 L594.16,130.82 L594.74,129.48 L595.31,128.11 L595.89,126.71 L596.46,125.29 L597.03,123.84 L597.61,122.36 L598.18,120.87 L598.76,119.35 L599.33,117.82 L599.91,116.27 L600.48,114.72 L601.06,113.15 L601.63,111.58 L602.21,110.00 L602.78,108.42 L603.36,106.85 L603.93,105.28 L604.51,103.72 L605.08,102.17 L605.65,100.63 L606.23,99.11 L606.80,97.61 L607.38,96.13 L607.95,94.67 L608.53,93.24 L609.10,91.83 L609.68,90.45 L610.25,89.10 L610.83,87.78 L611.40,86.49 L611.98,85.22 L612.55,83.99 L613.13,82.79 L613.70,81.61 L614.27,80.47 L614.85,79.35 L615.42,78.25 L616.00,77.18 L616.57,76.13 L617.15,75.11 L617.72,74.11 L618.30,73.12 L618.87,72.16 L619.45,71.22 L620.02,70.30 L620.60,69.40 L621.17,68.52 L621.75,67.67 L622.32,66.85 L622.89,66.06 L623.47,65.31 L624.04,64.60 L624.62,63.95 L625.19,63.34 L625.77,62.81 L626.34,62.34 L626.92,61.96 L627.49,61.67 L628.07,61.47 L628.64,61.38 L629.22,61.41 L629.79,61.39 L630.37,61.40 L630.94,61.40 L631.51,61.39 L632.09,61.42 L632.66,61.38 L633.24,61.43 L633.81,61.38 L634.39,61.44 L634.96,61.64 L635.54,61.96 L636.11,62.42 L636.69,63.03 L637.26,63.79 L637.84,64.70 L638.41,65.76 L638.99,66.97 L639.56,68.34 L640.13,69.85 L640.71,71.51 L641.28,73.30 L641.86,75.22 L642.43,77.26 L643.01,79.40 L643.58,81.64 L644.16,83.97 L644.73,86.36 L645.31,88.82 L645.88,91.31 L646.46,93.83 L647.03,96.37 L647.61,98.90 L648.18,101.43 L648.75,103.93 L649.33,106.39 L649.90,108.81 L650.48,111.17 L651.05,113.46 L651.63,115.68 L652.20,117.82 L652.78,119.88 L653.35,121.85 L653.93,123.73 L654.50,125.52 L655.08,127.21 L655.65,128.82 L656.23,130.33 L656.80,131.75 L657.37,133.09 L657.95,134.35 L658.52,135.52 L659.10,136.62 L659.67,137.65 L660.25,138.62 L660.82,139.51 L661.40,140.35 L661.97,141.14 L662.55,141.88 L663.12,142.57 L663.70,143.21 L664.27,143.82 L664.85,144.40 L665.42,144.94 L665.99,145.46 L666.57,145.95 L667.14,146.42 L667.72,146.87 L668.29,147.29 L668.87,147.71 L669.44,148.10 L670.02,148.49 L670.59,148.86 L671.17,149.22 L671.74,149.57 L672.32,149.91 L672.89,150.24 L673.47,150.57 L674.04,150.89 L674.61,151.20 L675.19,151.50 L675.76,151.80 L676.34,152.09 L676.91,152.37 L677.49,152.65 L678.06,152.92 L678.64,153.19 L679.21,153.45 L679.79,153.70 L680.36,153.95 L680.94,154.19 L681.51,154.43 L682.09,154.65 L682.66,154.88 L683.23,155.09 L683.81,155.30 L684.38,155.50 L684.96,155.70 L685.53,155.88 L686.11,156.06 L686.68,156.24 L687.26,156.41 L687.83,156.57 L688.41,156.72 L688.98,156.87 L689.56,157.01 L690.13,157.15 L690.71,157.27 L691.28,157.40 L691.85,157.51 L692.43,157.62 L693.00,157.73 L693.58,157.83 L694.15,157.92 L694.73,158.01 L695.30,158.09 L695.88,158.17 L696.45,158.24 L697.03,158.31 L697.60,158.37 L698.18,158.43 L698.75,158.49 L699.33,158.54 L699.90,158.59 L700.47,158.63 L701.05,158.67 L701.62,158.71 L702.20,158.75 L702.77,158.78 L703.35,158.81 L703.92,158.84 L704.50,158.86 L705.07,158.88 L705.65,158.90 L706.22,158.92 L706.80,158.94 L707.37,158.96 L707.95,158.97 L708.52,158.99 L709.09,159.00 L709.67,159.01 L710.24,159.02 L710.82,159.03 L711.39,159.04 L711.97,159.04 L712.54,159.05 L713.12,159.05 L713.69,159.06 L714.27,159.06 L714.84,159.07 L715.42,159.07 L715.99,159.08 L716.57,159.08 L717.14,159.08 L717.71,159.08 L718.29,159.09 L718.86,159.09 L719.44,159.09 L720.01,159.09 L720.59,159.09 L721.16,159.09 L721.74,159.09 L722.31,159.09 L722.89,159.10 L723.46,159.10 L724.04,159.10 L724.61,159.10 L725.19,159.10 L725.76,159.10 L726.33,159.10 L726.91,159.10 L727.48,159.10 L728.06,159.10 L728.63,159.10 L729.21,159.10 L729.78,159.10 L730.36,159.10 L730.93,159.10 L731.51,159.10 L732.08,159.10 L732.66,159.10 L733.23,159.10 L733.81,159.10 L734.38,159.10 L734.95,159.10 L735.53,159.10 L736.10,159.10 L736.68,159.10 L737.25,159.10 L737.83,159.10 L738.40,159.10 L738.98,159.10 L739.55,159.10 L740.13,159.10 L740.70,159.10 L741.28,159.10 L741.85,159.10 L742.43,159.10 L743.00,159.10 L743.00,159.10 L742.43,159.10 L741.85,159.10 L741.28,159.10 L740.70,159.10 L740.13,159.10 L739.55,159.10 L738.98,159.10 L738.40,159.10 L737.83,159.10 L737.25,159.10 L736.68,159.10 L736.10,159.10 L735.53,159.10 L734.95,159.10 L734.38,159.10 L733.81,159.10 L733.23,159.10 L732.66,159.10 L732.08,159.10 L731.51,159.10 L730.93,159.10 L730.36,159.10 L729.78,159.10 L729.21,159.10 L728.63,159.10 L728.06,159.10 L727.48,159.10 L726.91,159.10 L726.33,159.10 L725.76,159.10 L725.19,159.10 L724.61,159.10 L724.04,159.10 L723.46,159.10 L722.89,159.10 L722.31,159.10 L721.74,159.10 L721.16,159.10 L720.59,159.10 L720.01,159.10 L719.44,159.10 L718.86,159.10 L718.29,159.10 L717.71,159.10 L717.14,159.09 L716.57,159.09 L715.99,159.09 L715.42,159.09 L714.84,159.09 L714.27,159.09 L713.69,159.09 L713.12,159.09 L712.54,159.08 L711.97,159.08 L711.39,159.08 L710.82,159.08 L710.24,159.07 L709.67,159.07 L709.09,159.07 L708.52,159.06 L707.95,159.06 L707.37,159.05 L706.80,159.05 L706.22,159.04 L705.65,159.03 L705.07,159.02 L704.50,159.01 L703.92,159.00 L703.35,158.99 L702.77,158.98 L702.20,158.97 L701.62,158.95 L701.05,158.94 L700.47,158.92 L699.90,158.90 L699.33,158.88 L698.75,158.85 L698.18,158.83 L697.60,158.80 L697.03,158.77 L696.45,158.74 L695.88,158.70 L695.30,158.66 L694.73,158.62 L694.15,158.58 L693.58,158.53 L693.00,158.48 L692.43,158.42 L691.85,158.36 L691.28,158.30 L690.71,158.23 L690.13,158.16 L689.56,158.09 L688.98,158.01 L688.41,157.92 L687.83,157.83 L687.26,157.73 L686.68,157.63 L686.11,157.53 L685.53,157.41 L684.96,157.30 L684.38,157.17 L683.81,157.04 L683.23,156.91 L682.66,156.77 L682.09,156.62 L681.51,156.46 L680.94,156.31 L680.36,156.14 L679.79,155.97 L679.21,155.79 L678.64,155.60 L678.06,155.41 L677.49,155.22 L676.91,155.02 L676.34,154.81 L675.76,154.59 L675.19,154.37 L674.61,154.15 L674.04,153.92 L673.47,153.68 L672.89,153.44 L672.32,153.19 L671.74,152.94 L671.17,152.68 L670.59,152.41 L670.02,152.14 L669.44,151.87 L668.87,151.58 L668.29,151.29 L667.72,151.00 L667.14,150.69 L666.57,150.38 L665.99,150.06 L665.42,149.73 L664.85,149.40 L664.27,149.04 L663.70,148.68 L663.12,148.30 L662.55,147.91 L661.97,147.50 L661.40,147.07 L660.82,146.62 L660.25,146.15 L659.67,145.65 L659.10,145.12 L658.52,144.56 L657.95,143.96 L657.37,143.32 L656.80,142.64 L656.23,141.92 L655.65,141.14 L655.08,140.31 L654.50,139.42 L653.93,138.47 L653.35,137.46 L652.78,136.37 L652.20,135.22 L651.63,133.98 L651.05,132.67 L650.48,131.27 L649.90,129.80 L649.33,128.24 L648.75,126.60 L648.18,124.87 L647.61,123.06 L647.03,121.18 L646.46,119.22 L645.88,117.19 L645.31,115.10 L644.73,112.95 L644.16,110.75 L643.58,108.51 L643.01,106.24 L642.43,103.95 L641.86,101.65 L641.28,99.36 L640.71,97.09 L640.13,94.84 L639.56,92.64 L638.99,90.49 L638.41,88.40 L637.84,86.40 L637.26,84.49 L636.69,82.68 L636.11,80.97 L635.54,79.39 L634.96,77.93 L634.39,76.60 L633.81,75.40 L633.24,74.35 L632.66,73.43 L632.09,72.65 L631.51,72.00 L630.94,71.85 L630.37,72.31 L629.79,72.84 L629.22,73.42 L628.64,74.05 L628.07,74.71 L627.49,75.42 L626.92,76.15 L626.34,76.91 L625.77,77.70 L625.19,78.51 L624.62,79.34 L624.04,80.18 L623.47,81.05 L622.89,81.93 L622.32,82.84 L621.75,83.76 L621.17,84.70 L620.60,85.66 L620.02,86.64 L619.45,87.65 L618.87,88.68 L618.30,89.73 L617.72,90.81 L617.15,91.92 L616.57,93.06 L616.00,94.22 L615.42,95.41 L614.85,96.62 L614.27,97.86 L613.70,99.13 L613.13,100.42 L612.55,101.73 L611.98,103.06 L611.40,104.42 L610.83,105.79 L610.25,107.17 L609.68,108.57 L609.10,109.98 L608.53,111.40 L607.95,112.82 L607.38,114.25 L606.80,115.68 L606.23,117.10 L605.65,118.52 L605.08,119.93 L604.51,121.33 L603.93,122.72 L603.36,124.10 L602.78,125.46 L602.21,126.80 L601.63,128.12 L601.06,129.42 L600.48,130.69 L599.91,131.94 L599.33,133.16 L598.76,134.35 L598.18,135.51 L597.61,136.64 L597.03,137.74 L596.46,138.81 L595.89,139.84 L595.31,140.84 L594.74,141.81 L594.16,142.75 L593.59,143.65 L593.01,144.51 L592.44,145.34 L591.86,146.14 L591.29,146.91 L590.71,147.64 L590.14,148.34 L589.56,149.01 L588.99,149.64 L588.41,150.25 L587.84,150.82 L587.27,151.37 L586.69,151.89 L586.12,152.38 L585.54,152.84 L584.97,153.28 L584.39,153.69 L583.82,154.08 L583.24,154.45 L582.67,154.79 L582.09,155.12 L581.52,155.42 L580.94,155.70 L580.37,155.97 L579.79,156.21 L579.22,156.44 L578.65,156.66 L578.07,156.86 L577.50,157.04 L576.92,157.22 L576.35,157.38 L575.77,157.52 L575.20,157.66 L574.62,157.79 L574.05,157.90 L573.47,158.01 L572.90,158.11 L572.32,158.20 L571.75,158.28 L571.17,158.36 L570.60,158.43 Z" fill="#f3d03c" opacity="0.85"/>
<path d="M570.60,158.50 L571.17,158.43 L571.75,158.35 L572.32,158.25 L572.90,158.15 L573.47,158.03 L574.05,157.90 L574.62,157.76 L575.20,157.60 L575.77,157.42 L576.35,157.22 L576.92,156.99 L577.50,156.75 L578.07,156.48 L578.65,156.18 L579.22,155.85 L579.79,155.50 L580.37,155.11 L580.94,154.68 L581.52,154.22 L582.09,153.72 L582.67,153.18 L583.24,152.60 L583.82,151.98 L584.39,151.31 L584.97,150.60 L585.54,149.84 L586.12,149.04 L586.69,148.19 L587.27,147.29 L587.84,146.36 L588.41,145.37 L588.99,144.35 L589.56,143.28 L590.14,142.18 L590.71,141.04 L591.29,139.86 L591.86,138.65 L592.44,137.42 L593.01,136.15 L593.59,134.87 L594.16,133.56 L594.74,132.24 L595.31,130.90 L595.89,129.55 L596.46,128.20 L597.03,126.84 L597.61,125.48 L598.18,124.11 L598.76,122.75 L599.33,121.39 L599.91,120.03 L600.48,118.67 L601.06,117.32 L601.63,115.98 L602.21,114.63 L602.78,113.29 L603.36,111.95 L603.93,110.60 L604.51,109.26 L605.08,107.91 L605.65,106.56 L606.23,105.19 L606.80,103.82 L607.38,102.43 L607.95,101.03 L608.53,99.62 L609.10,98.19 L609.68,96.74 L610.25,95.28 L610.83,93.80 L611.40,92.31 L611.98,90.80 L612.55,89.29 L613.13,87.76 L613.70,86.23 L614.27,84.70 L614.85,83.17 L615.42,81.65 L616.00,80.14 L616.57,78.66 L617.15,77.19 L617.72,75.77 L618.30,74.38 L618.87,73.03 L619.45,71.74 L620.02,70.52 L620.60,69.35 L621.17,68.27 L621.75,67.26 L622.32,66.35 L622.89,65.52 L623.47,64.80 L624.04,64.18 L624.62,63.67 L625.19,63.28 L625.77,63.00 L626.34,62.84 L626.92,62.81 L627.49,62.90 L628.07,63.12 L628.64,63.46 L629.22,63.93 L629.79,64.52 L630.37,65.24 L630.94,66.07 L631.51,67.03 L632.09,68.10 L632.66,69.28 L633.24,70.56 L633.81,71.95 L634.39,73.43 L634.96,75.00 L635.54,76.65 L636.11,78.38 L636.69,80.18 L637.26,82.04 L637.84,83.96 L638.41,85.93 L638.99,87.94 L639.56,89.99 L640.13,92.06 L640.71,94.16 L641.28,96.27 L641.86,98.39 L642.43,100.52 L643.01,102.64 L643.58,104.75 L644.16,106.84 L644.73,108.91 L645.31,110.96 L645.88,112.98 L646.46,114.97 L647.03,116.92 L647.61,118.83 L648.18,120.69 L648.75,122.51 L649.33,124.28 L649.90,126.00 L650.48,127.67 L651.05,129.28 L651.63,130.84 L652.20,132.34 L652.78,133.79 L653.35,135.18 L653.93,136.51 L654.50,137.79 L655.08,139.02 L655.65,140.19 L656.23,141.31 L656.80,142.37 L657.37,143.38 L657.95,144.35 L658.52,145.26 L659.10,146.13 L659.67,146.95 L660.25,147.73 L660.82,148.46 L661.40,149.15 L661.97,149.81 L662.55,150.42 L663.12,151.00 L663.70,151.55 L664.27,152.06 L664.85,152.55 L665.42,153.00 L665.99,153.42 L666.57,153.82 L667.14,154.19 L667.72,154.54 L668.29,154.87 L668.87,155.17 L669.44,155.46 L670.02,155.72 L670.59,155.97 L671.17,156.20 L671.74,156.42 L672.32,156.62 L672.89,156.80 L673.47,156.98 L674.04,157.14 L674.61,157.29 L675.19,157.43 L675.76,157.56 L676.34,157.68 L676.91,157.79 L677.49,157.90 L678.06,157.99 L678.64,158.08 L679.21,158.16 L679.79,158.24 L680.36,158.31 L680.94,158.37 L681.51,158.43 L682.09,158.49 L682.66,158.54 L683.23,158.59 L683.81,158.63 L684.38,158.67 L684.96,158.71 L685.53,158.74 L686.11,158.78 L686.68,158.80 L687.26,158.83 L687.83,158.86 L688.41,158.88 L688.98,158.90 L689.56,158.92 L690.13,158.93 L690.71,158.95 L691.28,158.96 L691.85,158.98 L692.43,158.99 L693.00,159.00 L693.58,159.01 L694.15,159.02 L694.73,159.03 L695.30,159.03 L695.88,159.04 L696.45,159.05 L697.03,159.05 L697.60,159.06 L698.18,159.06 L698.75,159.06 L699.33,159.07 L699.90,159.07 L700.47,159.07 L701.05,159.08 L701.62,159.08 L702.20,159.08 L702.77,159.08 L703.35,159.09 L703.92,159.09 L704.50,159.09 L705.07,159.09 L705.65,159.09 L706.22,159.09 L706.80,159.09 L707.37,159.09 L707.95,159.09 L708.52,159.10 L709.09,159.10 L709.67,159.10 L710.24,159.10 L710.82,159.10 L711.39,159.10 L711.97,159.10 L712.54,159.10 L713.12,159.10 L713.69,159.10 L714.27,159.10 L714.84,159.10 L715.42,159.10 L715.99,159.10 L716.57,159.10 L717.14,159.10 L717.71,159.10 L718.29,159.10 L718.86,159.10 L719.44,159.10 L720.01,159.10 L720.59,159.10 L721.16,159.10 L721.74,159.10 L722.31,159.10 L722.89,159.10 L723.46,159.10 L724.04,159.10 L724.61,159.10 L725.19,159.10 L725.76,159.10 L726.33,159.10 L726.91,159.10 L727.48,159.10 L728.06,159.10 L728.63,159.10 L729.21,159.10 L729.78,159.10 L730.36,159.10 L730.93,159.10 L731.51,159.10 L732.08,159.10 L732.66,159.10 L733.23,159.10 L733.81,159.10 L734.38,159.10 L734.95,159.10 L735.53,159.10 L736.10,159.10 L736.68,159.10 L737.25,159.10 L737.83,159.10 L738.40,159.10 L738.98,159.10 L739.55,159.10 L740.13,159.10 L740.70,159.10 L741.28,159.10 L741.85,159.10 L742.43,159.10 L743.00,159.10" fill="none" stroke="#0d6fc2" stroke-width="2.2" stroke-linejoin="round"/>
<path d="M570.60,158.02 L571.17,157.91 L571.75,157.80 L572.32,157.67 L572.90,157.54 L573.47,157.39 L574.05,157.23 L574.62,157.06 L575.20,156.87 L575.77,156.67 L576.35,156.45 L576.92,156.22 L577.50,155.97 L578.07,155.71 L578.65,155.42 L579.22,155.12 L579.79,154.79 L580.37,154.44 L580.94,154.07 L581.52,153.68 L582.09,153.26 L582.67,152.82 L583.24,152.35 L583.82,151.85 L584.39,151.32 L584.97,150.77 L585.54,150.18 L586.12,149.56 L586.69,148.91 L587.27,148.23 L587.84,147.52 L588.41,146.77 L588.99,145.99 L589.56,145.17 L590.14,144.32 L590.71,143.43 L591.29,142.50 L591.86,141.54 L592.44,140.55 L593.01,139.52 L593.59,138.45 L594.16,137.35 L594.74,136.21 L595.31,135.04 L595.89,133.84 L596.46,132.61 L597.03,131.34 L597.61,130.05 L598.18,128.73 L598.76,127.38 L599.33,126.00 L599.91,124.61 L600.48,123.19 L601.06,121.75 L601.63,120.30 L602.21,118.83 L602.78,117.35 L603.36,115.86 L603.93,114.36 L604.51,112.86 L605.08,111.36 L605.65,109.86 L606.23,108.37 L606.80,106.88 L607.38,105.40 L607.95,103.93 L608.53,102.48 L609.10,101.04 L609.68,99.62 L610.25,98.22 L610.83,96.85 L611.40,95.50 L611.98,94.18 L612.55,92.88 L613.13,91.61 L613.70,90.37 L614.27,89.16 L614.85,87.98 L615.42,86.82 L616.00,85.69 L616.57,84.59 L617.15,83.51 L617.72,82.46 L618.30,81.44 L618.87,80.43 L619.45,79.45 L620.02,78.49 L620.60,77.54 L621.17,76.62 L621.75,75.72 L622.32,74.83 L622.89,73.97 L623.47,73.12 L624.04,72.30 L624.62,71.51 L625.19,70.75 L625.77,70.02 L626.34,69.33 L626.92,68.69 L627.49,68.10 L628.07,67.56 L628.64,67.10 L629.22,66.71 L629.79,66.39 L630.37,66.18 L630.94,66.06 L631.51,66.04 L632.09,66.14 L632.66,66.37 L633.24,66.72 L633.81,67.21 L634.39,67.84 L634.96,68.61 L635.54,69.53 L636.11,70.59 L636.69,71.80 L637.26,73.15 L637.84,74.64 L638.41,76.26 L638.99,78.01 L639.56,79.88 L640.13,81.86 L640.71,83.93 L641.28,86.10 L641.86,88.34 L642.43,90.64 L643.01,92.99 L643.58,95.38 L644.16,97.78 L644.73,100.20 L645.31,102.62 L645.88,105.01 L646.46,107.38 L647.03,109.71 L647.61,112.00 L648.18,114.22 L648.75,116.38 L649.33,118.47 L649.90,120.48 L650.48,122.41 L651.05,124.26 L651.63,126.02 L652.20,127.69 L652.78,129.28 L653.35,130.77 L653.93,132.18 L654.50,133.51 L655.08,134.76 L655.65,135.93 L656.23,137.02 L656.80,138.05 L657.37,139.00 L657.95,139.90 L658.52,140.73 L659.10,141.51 L659.67,142.25 L660.25,142.93 L660.82,143.57 L661.40,144.18 L661.97,144.75 L662.55,145.28 L663.12,145.79 L663.70,146.28 L664.27,146.74 L664.85,147.17 L665.42,147.59 L665.99,148.00 L666.57,148.38 L667.14,148.76 L667.72,149.12 L668.29,149.47 L668.87,149.81 L669.44,150.14 L670.02,150.46 L670.59,150.78 L671.17,151.08 L671.74,151.38 L672.32,151.68 L672.89,151.96 L673.47,152.24 L674.04,152.52 L674.61,152.79 L675.19,153.05 L675.76,153.31 L676.34,153.56 L676.91,153.80 L677.49,154.04 L678.06,154.28 L678.64,154.50 L679.21,154.72 L679.79,154.94 L680.36,155.15 L680.94,155.35 L681.51,155.55 L682.09,155.74 L682.66,155.92 L683.23,156.10 L683.81,156.27 L684.38,156.43 L684.96,156.59 L685.53,156.74 L686.11,156.89 L686.68,157.02 L687.26,157.16 L687.83,157.28 L688.41,157.40 L688.98,157.52 L689.56,157.63 L690.13,157.73 L690.71,157.83 L691.28,157.92 L691.85,158.00 L692.43,158.09 L693.00,158.16 L693.58,158.24 L694.15,158.30 L694.73,158.37 L695.30,158.43 L695.88,158.48 L696.45,158.53 L697.03,158.58 L697.60,158.63 L698.18,158.67 L698.75,158.71 L699.33,158.74 L699.90,158.77 L700.47,158.80 L701.05,158.83 L701.62,158.86 L702.20,158.88 L702.77,158.90 L703.35,158.92 L703.92,158.94 L704.50,158.95 L705.07,158.97 L705.65,158.98 L706.22,159.00 L706.80,159.01 L707.37,159.02 L707.95,159.03 L708.52,159.03 L709.09,159.04 L709.67,159.05 L710.24,159.05 L710.82,159.06 L711.39,159.06 L711.97,159.07 L712.54,159.07 L713.12,159.08 L713.69,159.08 L714.27,159.08 L714.84,159.08 L715.42,159.09 L715.99,159.09 L716.57,159.09 L717.14,159.09 L717.71,159.09 L718.29,159.09 L718.86,159.09 L719.44,159.09 L720.01,159.10 L720.59,159.10 L721.16,159.10 L721.74,159.10 L722.31,159.10 L722.89,159.10 L723.46,159.10 L724.04,159.10 L724.61,159.10 L725.19,159.10 L725.76,159.10 L726.33,159.10 L726.91,159.10 L727.48,159.10 L728.06,159.10 L728.63,159.10 L729.21,159.10 L729.78,159.10 L730.36,159.10 L730.93,159.10 L731.51,159.10 L732.08,159.10 L732.66,159.10 L733.23,159.10 L733.81,159.10 L734.38,159.10 L734.95,159.10 L735.53,159.10 L736.10,159.10 L736.68,159.10 L737.25,159.10 L737.83,159.10 L738.40,159.10 L738.98,159.10 L739.55,159.10 L740.13,159.10 L740.70,159.10 L741.28,159.10 L741.85,159.10 L742.43,159.10 L743.00,159.10" fill="none" stroke="#e67a0c" stroke-width="2.2" stroke-linejoin="round"/>
<path d="M483.0,9.6 H512.0" stroke="#1a8ff0" stroke-width="2.2"/>
<path d="M483.0,29.6 H512.0" stroke="#ff8a14" stroke-width="2.2"/>
<rect x="483.0" y="46.2" width="29.5" height="10" fill="#b3b3b3"/>
<g font-size="12.7" fill="#1a1a1a" stroke="#1a1a1a" stroke-width="0.3">
<text x="519.5" y="14.8">apo</text>
<text x="519.5" y="34.8">holo</text>
<text x="519.5" y="55.4">crystal (4ryq)</text>
</g>
<g fill="#b3b3b3">
<rect x="364.10" y="670.10" width="3.60" height="4.20"/>
<rect x="368.64" y="665.70" width="3.60" height="8.60"/>
<rect x="373.18" y="660.60" width="3.60" height="13.70"/>
<rect x="377.72" y="653.40" width="3.60" height="20.90"/>
<rect x="382.26" y="643.30" width="3.60" height="31.00"/>
<rect x="386.80" y="635.40" width="3.60" height="38.90"/>
<rect x="391.34" y="627.50" width="3.60" height="46.80"/>
<rect x="395.88" y="621.20" width="3.60" height="53.10"/>
<rect x="400.42" y="616.30" width="3.60" height="58.00"/>
<rect x="404.96" y="613.30" width="3.60" height="61.00"/>
<rect x="409.50" y="610.30" width="3.60" height="64.00"/>
<rect x="414.04" y="605.80" width="3.60" height="68.50"/>
<rect x="418.58" y="602.30" width="3.60" height="72.00"/>
<rect x="423.12" y="603.30" width="3.60" height="71.00"/>
<rect x="427.66" y="608.30" width="3.60" height="66.00"/>
<rect x="432.20" y="614.90" width="3.60" height="59.40"/>
<rect x="436.74" y="624.30" width="3.60" height="50.00"/>
<rect x="441.28" y="646.30" width="3.60" height="28.00"/>
<rect x="445.82" y="667.30" width="3.60" height="7.00"/>
</g>
<path d="M353.7,674.8 H516.0" stroke="#a0a0a0" stroke-width="1"/>
<g font-size="12.5" fill="#1a1a1a" stroke="#1a1a1a" stroke-width="0.25" text-anchor="middle">
<text x="378.3" y="694.0">2</text>
<text x="424.6" y="694.0">3</text>
<text x="470.4" y="694.0">4</text>
<text x="515.5" y="694.0">5</text>
</g>
<text x="442.8" y="712.0" font-size="13" text-anchor="middle" fill="#1a1a1a" stroke="#1a1a1a" stroke-width="0.25">Distance (nm)</text>
<text x="468.8" y="640.3" font-size="12.7" fill="#1a1a1a" stroke="#1a1a1a" stroke-width="0.25">34/102-W138F</text>
<path d="M353.70,674.30 L354.24,674.30 L354.78,674.30 L355.32,674.29 L355.86,674.29 L356.40,674.29 L356.95,674.29 L357.49,674.29 L358.03,674.29 L358.57,674.29 L359.11,674.29 L359.65,674.28 L360.19,674.28 L360.73,674.28 L361.27,674.28 L361.81,674.27 L362.36,674.27 L362.90,674.27 L363.44,674.26 L363.98,674.26 L364.52,674.25 L365.06,674.24 L365.60,674.24 L366.14,674.23 L366.68,674.22 L367.22,674.21 L367.77,674.20 L368.31,674.18 L368.85,674.16 L369.39,674.15 L369.93,674.12 L370.47,674.10 L371.01,674.07 L371.55,674.04 L372.09,674.00 L372.63,673.96 L373.18,673.91 L373.72,673.85 L374.26,673.79 L374.80,673.71 L375.34,673.63 L375.88,673.53 L376.42,673.42 L376.96,673.29 L377.50,673.15 L378.05,672.98 L378.59,672.79 L379.13,672.58 L379.67,672.34 L380.21,672.07 L380.75,671.76 L381.29,671.42 L381.83,671.03 L382.37,670.60 L382.91,670.12 L383.45,669.59 L384.00,669.01 L384.54,668.36 L385.08,667.65 L385.62,666.87 L386.16,666.02 L386.70,665.10 L387.24,664.10 L387.78,663.01 L388.32,661.85 L388.87,660.60 L389.41,659.26 L389.95,657.84 L390.49,656.33 L391.03,654.73 L391.57,653.05 L392.11,651.29 L392.65,649.44 L393.19,647.52 L393.73,645.52 L394.27,643.46 L394.82,641.33 L395.36,639.15 L395.90,636.92 L396.44,634.64 L396.98,632.33 L397.52,629.99 L398.06,627.64 L398.60,625.27 L399.14,622.89 L399.69,620.52 L400.23,618.16 L400.77,615.83 L401.31,613.51 L401.85,611.23 L402.39,608.99 L402.93,606.80 L403.47,604.65 L404.01,602.56 L404.55,600.53 L405.09,598.56 L405.64,596.65 L406.18,594.82 L406.72,593.06 L407.26,591.37 L407.80,589.76 L408.34,588.22 L408.88,586.77 L409.42,585.40 L409.96,584.11 L410.50,582.91 L411.05,581.80 L411.59,580.77 L412.13,579.84 L412.67,579.00 L413.21,578.26 L413.75,577.61 L414.29,577.07 L414.83,576.63 L415.37,576.29 L415.91,576.06 L416.46,575.93 L417.00,575.92 L417.54,575.91 L418.08,575.92 L418.62,575.93 L419.16,575.91 L419.70,575.91 L420.24,575.95 L420.78,576.09 L421.32,576.34 L421.87,576.70 L422.41,577.16 L422.95,577.73 L423.49,578.40 L424.03,579.17 L424.57,580.04 L425.11,580.99 L425.65,582.03 L426.19,583.15 L426.74,584.34 L427.28,585.60 L427.82,586.92 L428.36,588.29 L428.90,589.71 L429.44,591.18 L429.98,592.67 L430.52,594.20 L431.06,595.74 L431.60,597.30 L432.14,598.87 L432.69,600.44 L433.23,602.01 L433.77,603.57 L434.31,605.12 L434.85,606.66 L435.39,608.19 L435.93,609.70 L436.47,611.18 L437.01,612.64 L437.56,614.08 L438.10,615.50 L438.64,616.89 L439.18,618.26 L439.72,619.61 L440.26,620.93 L440.80,622.23 L441.34,623.51 L441.88,624.77 L442.42,626.01 L442.97,627.23 L443.51,628.44 L444.05,629.62 L444.59,630.80 L445.13,631.96 L445.67,633.10 L446.21,634.24 L446.75,635.36 L447.29,636.47 L447.83,637.57 L448.38,638.66 L448.92,639.74 L449.46,640.80 L450.00,641.86 L450.54,642.90 L451.08,643.93 L451.62,644.95 L452.16,645.96 L452.70,646.96 L453.24,647.94 L453.78,648.90 L454.33,649.86 L454.87,650.79 L455.41,651.71 L455.95,652.61 L456.49,653.50 L457.03,654.36 L457.57,655.21 L458.11,656.04 L458.65,656.85 L459.19,657.63 L459.74,658.40 L460.28,659.15 L460.82,659.87 L461.36,660.57 L461.90,661.25 L462.44,661.91 L462.98,662.55 L463.52,663.16 L464.06,663.75 L464.61,664.32 L465.15,664.87 L465.69,665.40 L466.23,665.90 L466.77,666.39 L467.31,666.85 L467.85,667.29 L468.39,667.72 L468.93,668.12 L469.47,668.50 L470.01,668.87 L470.56,669.22 L471.10,669.55 L471.64,669.86 L472.18,670.15 L472.72,670.43 L473.26,670.70 L473.80,670.95 L474.34,671.18 L474.88,671.41 L475.42,671.61 L475.97,671.81 L476.51,671.99 L477.05,672.17 L477.59,672.33 L478.13,672.48 L478.67,672.62 L479.21,672.75 L479.75,672.87 L480.29,672.99 L480.83,673.09 L481.38,673.19 L481.92,673.28 L482.46,673.37 L483.00,673.45 L483.54,673.52 L484.08,673.59 L484.62,673.65 L485.16,673.71 L485.70,673.76 L486.25,673.81 L486.79,673.85 L487.33,673.89 L487.87,673.93 L488.41,673.96 L488.95,674.00 L489.49,674.02 L490.03,674.05 L490.57,674.08 L491.11,674.10 L491.65,674.12 L492.20,674.14 L492.74,674.15 L493.28,674.17 L493.82,674.18 L494.36,674.19 L494.90,674.20 L495.44,674.21 L495.98,674.22 L496.52,674.23 L497.06,674.24 L497.61,674.24 L498.15,674.25 L498.69,674.26 L499.23,674.26 L499.77,674.27 L500.31,674.27 L500.85,674.27 L501.39,674.28 L501.93,674.28 L502.48,674.28 L503.02,674.28 L503.56,674.29 L504.10,674.29 L504.64,674.29 L505.18,674.29 L505.72,674.29 L506.26,674.29 L506.80,674.29 L507.34,674.29 L507.88,674.29 L508.43,674.30 L508.97,674.30 L509.51,674.30 L510.05,674.30 L510.59,674.30 L511.13,674.30 L511.67,674.30 L512.21,674.30 L512.75,674.30 L513.29,674.30 L513.84,674.30 L514.38,674.30 L514.92,674.30 L515.46,674.30 L516.00,674.30 L516.00,674.30 L515.46,674.30 L514.92,674.30 L514.38,674.30 L513.84,674.30 L513.29,674.30 L512.75,674.30 L512.21,674.30 L511.67,674.30 L511.13,674.30 L510.59,674.30 L510.05,674.30 L509.51,674.30 L508.97,674.30 L508.43,674.30 L507.88,674.30 L507.34,674.30 L506.80,674.30 L506.26,674.30 L505.72,674.30 L505.18,674.30 L504.64,674.30 L504.10,674.29 L503.56,674.29 L503.02,674.29 L502.48,674.29 L501.93,674.29 L501.39,674.29 L500.85,674.29 L500.31,674.29 L499.77,674.29 L499.23,674.28 L498.69,674.28 L498.15,674.28 L497.61,674.28 L497.06,674.27 L496.52,674.27 L495.98,674.27 L495.44,674.26 L494.90,674.26 L494.36,674.25 L493.82,674.25 L493.28,674.24 L492.74,674.23 L492.20,674.23 L491.65,674.22 L491.11,674.21 L490.57,674.20 L490.03,674.19 L489.49,674.17 L488.95,674.16 L488.41,674.14 L487.87,674.13 L487.33,674.11 L486.79,674.09 L486.25,674.06 L485.70,674.04 L485.16,674.01 L484.62,673.98 L484.08,673.95 L483.54,673.92 L483.00,673.88 L482.46,673.84 L481.92,673.79 L481.38,673.74 L480.83,673.69 L480.29,673.63 L479.75,673.57 L479.21,673.51 L478.67,673.43 L478.13,673.36 L477.59,673.27 L477.05,673.18 L476.51,673.09 L475.97,672.98 L475.42,672.87 L474.88,672.75 L474.34,672.63 L473.80,672.49 L473.26,672.35 L472.72,672.19 L472.18,672.03 L471.64,671.85 L471.10,671.66 L470.56,671.47 L470.01,671.26 L469.47,671.03 L468.93,670.80 L468.39,670.55 L467.85,670.29 L467.31,670.01 L466.77,669.72 L466.23,669.42 L465.69,669.10 L465.15,668.76 L464.61,668.41 L464.06,668.04 L463.52,667.65 L462.98,667.25 L462.44,666.82 L461.90,666.39 L461.36,665.93 L460.82,665.45 L460.28,664.96 L459.74,664.45 L459.19,663.92 L458.65,663.38 L458.11,662.81 L457.57,662.23 L457.03,661.63 L456.49,661.01 L455.95,660.37 L455.41,659.72 L454.87,659.05 L454.33,658.37 L453.78,657.67 L453.24,656.95 L452.70,656.22 L452.16,655.48 L451.62,654.72 L451.08,653.95 L450.54,653.16 L450.00,652.37 L449.46,651.56 L448.92,650.74 L448.38,649.91 L447.83,649.07 L447.29,648.22 L446.75,647.36 L446.21,646.50 L445.67,645.62 L445.13,644.73 L444.59,643.84 L444.05,642.94 L443.51,642.02 L442.97,641.10 L442.42,640.17 L441.88,639.23 L441.34,638.27 L440.80,637.31 L440.26,636.33 L439.72,635.34 L439.18,634.33 L438.64,633.31 L438.10,632.27 L437.56,631.22 L437.01,630.14 L436.47,629.05 L435.93,627.94 L435.39,626.82 L434.85,625.67 L434.31,624.50 L433.77,623.31 L433.23,622.11 L432.69,620.88 L432.14,619.64 L431.60,618.39 L431.06,617.12 L430.52,615.85 L429.98,614.57 L429.44,613.28 L428.90,612.00 L428.36,610.72 L427.82,609.45 L427.28,608.19 L426.74,606.95 L426.19,605.74 L425.65,604.56 L425.11,603.41 L424.57,602.31 L424.03,601.25 L423.49,600.24 L422.95,599.30 L422.41,598.41 L421.87,597.59 L421.32,596.84 L420.78,596.17 L420.24,595.58 L419.70,595.07 L419.16,594.64 L418.62,594.30 L418.08,594.25 L417.54,594.57 L417.00,594.98 L416.46,595.47 L415.91,596.04 L415.37,596.69 L414.83,597.42 L414.29,598.22 L413.75,599.10 L413.21,600.05 L412.67,601.08 L412.13,602.17 L411.59,603.33 L411.05,604.55 L410.50,605.84 L409.96,607.19 L409.42,608.61 L408.88,610.08 L408.34,611.61 L407.80,613.20 L407.26,614.84 L406.72,616.53 L406.18,618.27 L405.64,620.04 L405.09,621.86 L404.55,623.71 L404.01,625.59 L403.47,627.50 L402.93,629.42 L402.39,631.36 L401.85,633.30 L401.31,635.24 L400.77,637.17 L400.23,639.10 L399.69,641.00 L399.14,642.87 L398.60,644.72 L398.06,646.52 L397.52,648.28 L396.98,649.99 L396.44,651.65 L395.90,653.25 L395.36,654.79 L394.82,656.27 L394.27,657.67 L393.73,659.01 L393.19,660.28 L392.65,661.48 L392.11,662.60 L391.57,663.66 L391.03,664.64 L390.49,665.56 L389.95,666.41 L389.41,667.19 L388.87,667.91 L388.32,668.58 L387.78,669.18 L387.24,669.74 L386.70,670.24 L386.16,670.69 L385.62,671.10 L385.08,671.47 L384.54,671.80 L384.00,672.10 L383.45,672.36 L382.91,672.60 L382.37,672.80 L381.83,672.99 L381.29,673.15 L380.75,673.30 L380.21,673.42 L379.67,673.53 L379.13,673.63 L378.59,673.71 L378.05,673.79 L377.50,673.85 L376.96,673.91 L376.42,673.96 L375.88,674.00 L375.34,674.04 L374.80,674.07 L374.26,674.10 L373.72,674.13 L373.18,674.15 L372.63,674.17 L372.09,674.18 L371.55,674.20 L371.01,674.21 L370.47,674.22 L369.93,674.23 L369.39,674.24 L368.85,674.25 L368.31,674.25 L367.77,674.26 L367.22,674.26 L366.68,674.27 L366.14,674.27 L365.60,674.27 L365.06,674.28 L364.52,674.28 L363.98,674.28 L363.44,674.28 L362.90,674.29 L362.36,674.29 L361.81,674.29 L361.27,674.29 L360.73,674.29 L360.19,674.29 L359.65,674.29 L359.11,674.29 L358.57,674.30 L358.03,674.30 L357.49,674.30 L356.95,674.30 L356.40,674.30 L355.86,674.30 L355.32,674.30 L354.78,674.30 L354.24,674.30 L353.70,674.30 Z" fill="#5ec0ef" opacity="0.90"/>
<path d="M353.70,674.30 L354.24,674.30 L354.78,674.30 L355.32,674.30 L355.86,674.30 L356.40,674.30 L356.95,674.30 L357.49,674.29 L358.03,674.29 L358.57,674.29 L359.11,674.29 L359.65,674.29 L360.19,674.28 L360.73,674.28 L361.27,674.27 L361.81,674.27 L362.36,674.26 L362.90,674.25 L363.44,674.23 L363.98,674.22 L364.52,674.20 L365.06,674.18 L365.60,674.15 L366.14,674.12 L366.68,674.08 L367.22,674.04 L367.77,673.99 L368.31,673.93 L368.85,673.85 L369.39,673.77 L369.93,673.67 L370.47,673.55 L371.01,673.42 L371.55,673.26 L372.09,673.09 L372.63,672.88 L373.18,672.65 L373.72,672.39 L374.26,672.09 L374.80,671.75 L375.34,671.37 L375.88,670.95 L376.42,670.47 L376.96,669.95 L377.50,669.36 L378.05,668.72 L378.59,668.01 L379.13,667.23 L379.67,666.38 L380.21,665.46 L380.75,664.47 L381.29,663.40 L381.83,662.25 L382.37,661.01 L382.91,659.70 L383.45,658.32 L384.00,656.85 L384.54,655.31 L385.08,653.70 L385.62,652.02 L386.16,650.28 L386.70,648.48 L387.24,646.63 L387.78,644.74 L388.32,642.82 L388.87,640.87 L389.41,638.91 L389.95,636.94 L390.49,634.98 L391.03,633.03 L391.57,631.11 L392.11,629.23 L392.65,627.38 L393.19,625.60 L393.73,623.87 L394.27,622.22 L394.82,620.64 L395.36,619.14 L395.90,617.73 L396.44,616.41 L396.98,615.17 L397.52,614.03 L398.06,612.97 L398.60,611.99 L399.14,611.09 L399.69,610.26 L400.23,609.50 L400.77,608.80 L401.31,608.14 L401.85,607.52 L402.39,606.92 L402.93,606.35 L403.47,605.78 L404.01,605.21 L404.55,604.63 L405.09,604.03 L405.64,603.41 L406.18,602.76 L406.72,602.07 L407.26,601.34 L407.80,600.58 L408.34,599.78 L408.88,598.94 L409.42,598.07 L409.96,597.18 L410.50,596.26 L411.05,595.34 L411.59,594.42 L412.13,593.51 L412.67,592.61 L413.21,591.75 L413.75,590.94 L414.29,590.18 L414.83,589.48 L415.37,588.87 L415.91,588.33 L416.46,587.90 L417.00,587.56 L417.54,587.33 L418.08,587.22 L418.62,587.21 L419.16,587.20 L419.70,587.20 L420.24,587.23 L420.78,587.21 L421.32,587.20 L421.87,587.25 L422.41,587.42 L422.95,587.70 L423.49,588.09 L424.03,588.59 L424.57,589.19 L425.11,589.90 L425.65,590.69 L426.19,591.56 L426.74,592.51 L427.28,593.52 L427.82,594.59 L428.36,595.70 L428.90,596.86 L429.44,598.04 L429.98,599.25 L430.52,600.47 L431.06,601.70 L431.60,602.94 L432.14,604.18 L432.69,605.41 L433.23,606.63 L433.77,607.84 L434.31,609.05 L434.85,610.24 L435.39,611.42 L435.93,612.59 L436.47,613.74 L437.01,614.90 L437.56,616.04 L438.10,617.18 L438.64,618.32 L439.18,619.46 L439.72,620.61 L440.26,621.76 L440.80,622.92 L441.34,624.08 L441.88,625.26 L442.42,626.45 L442.97,627.65 L443.51,628.86 L444.05,630.09 L444.59,631.32 L445.13,632.57 L445.67,633.83 L446.21,635.10 L446.75,636.38 L447.29,637.66 L447.83,638.95 L448.38,640.23 L448.92,641.52 L449.46,642.80 L450.00,644.07 L450.54,645.34 L451.08,646.59 L451.62,647.83 L452.16,649.05 L452.70,650.25 L453.24,651.43 L453.78,652.59 L454.33,653.72 L454.87,654.82 L455.41,655.89 L455.95,656.93 L456.49,657.94 L457.03,658.91 L457.57,659.85 L458.11,660.75 L458.65,661.62 L459.19,662.45 L459.74,663.24 L460.28,664.00 L460.82,664.72 L461.36,665.40 L461.90,666.05 L462.44,666.67 L462.98,667.25 L463.52,667.79 L464.06,668.31 L464.61,668.79 L465.15,669.24 L465.69,669.66 L466.23,670.05 L466.77,670.42 L467.31,670.76 L467.85,671.08 L468.39,671.37 L468.93,671.64 L469.47,671.89 L470.01,672.12 L470.56,672.33 L471.10,672.52 L471.64,672.70 L472.18,672.86 L472.72,673.01 L473.26,673.14 L473.80,673.26 L474.34,673.38 L474.88,673.48 L475.42,673.57 L475.97,673.65 L476.51,673.72 L477.05,673.79 L477.59,673.85 L478.13,673.90 L478.67,673.95 L479.21,673.99 L479.75,674.03 L480.29,674.06 L480.83,674.09 L481.38,674.12 L481.92,674.14 L482.46,674.16 L483.00,674.18 L483.54,674.19 L484.08,674.21 L484.62,674.22 L485.16,674.23 L485.70,674.24 L486.25,674.25 L486.79,674.26 L487.33,674.26 L487.87,674.27 L488.41,674.27 L488.95,674.28 L489.49,674.28 L490.03,674.28 L490.57,674.29 L491.11,674.29 L491.65,674.29 L492.20,674.29 L492.74,674.29 L493.28,674.29 L493.82,674.29 L494.36,674.30 L494.90,674.30 L495.44,674.30 L495.98,674.30 L496.52,674.30 L497.06,674.30 L497.61,674.30 L498.15,674.30 L498.69,674.30 L499.23,674.30 L499.77,674.30 L500.31,674.30 L500.85,674.30 L501.39,674.30 L501.93,674.30 L502.48,674.30 L503.02,674.30 L503.56,674.30 L504.10,674.30 L504.64,674.30 L505.18,674.30 L505.72,674.30 L506.26,674.30 L506.80,674.30 L507.34,674.30 L507.88,674.30 L508.43,674.30 L508.97,674.30 L509.51,674.30 L510.05,674.30 L510.59,674.30 L511.13,674.30 L511.67,674.30 L512.21,674.30 L512.75,674.30 L513.29,674.30 L513.84,674.30 L514.38,674.30 L514.92,674.30 L515.46,674.30 L516.00,674.30 L516.00,674.30 L515.46,674.30 L514.92,674.30 L514.38,674.30 L513.84,674.30 L513.29,674.30 L512.75,674.30 L512.21,674.30 L511.67,674.30 L511.13,674.30 L510.59,674.30 L510.05,674.30 L509.51,674.30 L508.97,674.30 L508.43,674.30 L507.88,674.30 L507.34,674.30 L506.80,674.30 L506.26,674.30 L505.72,674.30 L505.18,674.30 L504.64,674.30 L504.10,674.30 L503.56,674.30 L503.02,674.30 L502.48,674.30 L501.93,674.30 L501.39,674.30 L500.85,674.30 L500.31,674.30 L499.77,674.30 L499.23,674.30 L498.69,674.30 L498.15,674.30 L497.61,674.30 L497.06,674.30 L496.52,674.30 L495.98,674.30 L495.44,674.30 L494.90,674.30 L494.36,674.30 L493.82,674.30 L493.28,674.30 L492.74,674.30 L492.20,674.30 L491.65,674.30 L491.11,674.30 L490.57,674.30 L490.03,674.29 L489.49,674.29 L488.95,674.29 L488.41,674.29 L487.87,674.29 L487.33,674.29 L486.79,674.28 L486.25,674.28 L485.70,674.28 L485.16,674.27 L484.62,674.27 L484.08,674.27 L483.54,674.26 L483.00,674.25 L482.46,674.25 L481.92,674.24 L481.38,674.23 L480.83,674.22 L480.29,674.20 L479.75,674.19 L479.21,674.17 L478.67,674.16 L478.13,674.14 L477.59,674.11 L477.05,674.09 L476.51,674.06 L475.97,674.02 L475.42,673.98 L474.88,673.94 L474.34,673.90 L473.80,673.84 L473.26,673.78 L472.72,673.72 L472.18,673.65 L471.64,673.57 L471.10,673.48 L470.56,673.38 L470.01,673.27 L469.47,673.16 L468.93,673.03 L468.39,672.88 L467.85,672.73 L467.31,672.56 L466.77,672.37 L466.23,672.17 L465.69,671.96 L465.15,671.72 L464.61,671.46 L464.06,671.19 L463.52,670.89 L462.98,670.57 L462.44,670.23 L461.90,669.86 L461.36,669.47 L460.82,669.05 L460.28,668.61 L459.74,668.13 L459.19,667.63 L458.65,667.10 L458.11,666.54 L457.57,665.95 L457.03,665.32 L456.49,664.67 L455.95,663.99 L455.41,663.27 L454.87,662.53 L454.33,661.76 L453.78,660.95 L453.24,660.12 L452.70,659.25 L452.16,658.37 L451.62,657.45 L451.08,656.51 L450.54,655.55 L450.00,654.57 L449.46,653.56 L448.92,652.54 L448.38,651.50 L447.83,650.45 L447.29,649.39 L446.75,648.32 L446.21,647.24 L445.67,646.16 L445.13,645.08 L444.59,643.99 L444.05,642.91 L443.51,641.83 L442.97,640.76 L442.42,639.69 L441.88,638.63 L441.34,637.58 L440.80,636.54 L440.26,635.51 L439.72,634.50 L439.18,633.49 L438.64,632.49 L438.10,631.50 L437.56,630.52 L437.01,629.55 L436.47,628.58 L435.93,627.62 L435.39,626.66 L434.85,625.69 L434.31,624.73 L433.77,623.76 L433.23,622.79 L432.69,621.81 L432.14,620.82 L431.60,619.82 L431.06,618.81 L430.52,617.79 L429.98,616.76 L429.44,615.73 L428.90,614.69 L428.36,613.65 L427.82,612.61 L427.28,611.57 L426.74,610.54 L426.19,609.53 L425.65,608.54 L425.11,607.59 L424.57,606.66 L424.03,605.78 L423.49,604.95 L422.95,604.18 L422.41,603.48 L421.87,602.84 L421.32,602.29 L420.78,601.82 L420.24,601.44 L419.70,601.29 L419.16,601.63 L418.62,602.04 L418.08,602.53 L417.54,603.08 L417.00,603.70 L416.46,604.37 L415.91,605.08 L415.37,605.82 L414.83,606.58 L414.29,607.36 L413.75,608.14 L413.21,608.91 L412.67,609.67 L412.13,610.42 L411.59,611.14 L411.05,611.83 L410.50,612.48 L409.96,613.11 L409.42,613.71 L408.88,614.27 L408.34,614.81 L407.80,615.32 L407.26,615.82 L406.72,616.30 L406.18,616.78 L405.64,617.26 L405.09,617.75 L404.55,618.26 L404.01,618.80 L403.47,619.38 L402.93,620.00 L402.39,620.67 L401.85,621.40 L401.31,622.19 L400.77,623.06 L400.23,623.99 L399.69,625.00 L399.14,626.08 L398.60,627.24 L398.06,628.47 L397.52,629.77 L396.98,631.13 L396.44,632.56 L395.90,634.04 L395.36,635.58 L394.82,637.15 L394.27,638.76 L393.73,640.39 L393.19,642.04 L392.65,643.70 L392.11,645.36 L391.57,647.01 L391.03,648.64 L390.49,650.25 L389.95,651.82 L389.41,653.36 L388.87,654.85 L388.32,656.29 L387.78,657.67 L387.24,659.00 L386.70,660.27 L386.16,661.47 L385.62,662.60 L385.08,663.67 L384.54,664.67 L384.00,665.61 L383.45,666.48 L382.91,667.28 L382.37,668.02 L381.83,668.70 L381.29,669.33 L380.75,669.89 L380.21,670.41 L379.67,670.88 L379.13,671.30 L378.59,671.67 L378.05,672.01 L377.50,672.31 L376.96,672.58 L376.42,672.81 L375.88,673.02 L375.34,673.20 L374.80,673.36 L374.26,673.50 L373.72,673.62 L373.18,673.72 L372.63,673.81 L372.09,673.89 L371.55,673.96 L371.01,674.01 L370.47,674.06 L369.93,674.10 L369.39,674.14 L368.85,674.16 L368.31,674.19 L367.77,674.21 L367.22,674.23 L366.68,674.24 L366.14,674.25 L365.60,674.26 L365.06,674.27 L364.52,674.27 L363.98,674.28 L363.44,674.28 L362.90,674.29 L362.36,674.29 L361.81,674.29 L361.27,674.29 L360.73,674.29 L360.19,674.30 L359.65,674.30 L359.11,674.30 L358.57,674.30 L358.03,674.30 L357.49,674.30 L356.95,674.30 L356.40,674.30 L355.86,674.30 L355.32,674.30 L354.78,674.30 L354.24,674.30 L353.70,674.30 Z" fill="#e9bb45" opacity="0.85"/>
<path d="M353.70,674.30 L354.24,674.30 L354.78,674.30 L355.32,674.30 L355.86,674.30 L356.40,674.30 L356.95,674.29 L357.49,674.29 L358.03,674.29 L358.57,674.29 L359.11,674.29 L359.65,674.29 L360.19,674.29 L360.73,674.29 L361.27,674.29 L361.81,674.28 L362.36,674.28 L362.90,674.28 L363.44,674.28 L363.98,674.27 L364.52,674.27 L365.06,674.26 L365.60,674.26 L366.14,674.25 L366.68,674.25 L367.22,674.24 L367.77,674.23 L368.31,674.22 L368.85,674.21 L369.39,674.20 L369.93,674.19 L370.47,674.17 L371.01,674.16 L371.55,674.14 L372.09,674.11 L372.63,674.09 L373.18,674.05 L373.72,674.02 L374.26,673.98 L374.80,673.93 L375.34,673.88 L375.88,673.82 L376.42,673.75 L376.96,673.67 L377.50,673.58 L378.05,673.47 L378.59,673.35 L379.13,673.22 L379.67,673.06 L380.21,672.89 L380.75,672.69 L381.29,672.46 L381.83,672.21 L382.37,671.92 L382.91,671.60 L383.45,671.24 L384.00,670.84 L384.54,670.40 L385.08,669.91 L385.62,669.36 L386.16,668.76 L386.70,668.10 L387.24,667.38 L387.78,666.59 L388.32,665.73 L388.87,664.81 L389.41,663.81 L389.95,662.73 L390.49,661.58 L391.03,660.34 L391.57,659.03 L392.11,657.64 L392.65,656.17 L393.19,654.62 L393.73,653.00 L394.27,651.31 L394.82,649.55 L395.36,647.72 L395.90,645.83 L396.44,643.88 L396.98,641.89 L397.52,639.85 L398.06,637.77 L398.60,635.67 L399.14,633.54 L399.69,631.39 L400.23,629.23 L400.77,627.08 L401.31,624.92 L401.85,622.78 L402.39,620.66 L402.93,618.56 L403.47,616.50 L404.01,614.47 L404.55,612.48 L405.09,610.55 L405.64,608.66 L406.18,606.82 L406.72,605.04 L407.26,603.33 L407.80,601.68 L408.34,600.09 L408.88,598.57 L409.42,597.12 L409.96,595.74 L410.50,594.44 L411.05,593.21 L411.59,592.06 L412.13,590.98 L412.67,589.99 L413.21,589.07 L413.75,588.24 L414.29,587.50 L414.83,586.85 L415.37,586.28 L415.91,585.81 L416.46,585.43 L417.00,585.14 L417.54,584.96 L418.08,584.87 L418.62,584.87 L419.16,584.98 L419.70,585.19 L420.24,585.49 L420.78,585.89 L421.32,586.39 L421.87,586.97 L422.41,587.65 L422.95,588.42 L423.49,589.27 L424.03,590.20 L424.57,591.20 L425.11,592.27 L425.65,593.40 L426.19,594.58 L426.74,595.82 L427.28,597.11 L427.82,598.43 L428.36,599.78 L428.90,601.16 L429.44,602.56 L429.98,603.98 L430.52,605.40 L431.06,606.83 L431.60,608.25 L432.14,609.68 L432.69,611.09 L433.23,612.50 L433.77,613.89 L434.31,615.26 L434.85,616.61 L435.39,617.95 L435.93,619.26 L436.47,620.56 L437.01,621.83 L437.56,623.08 L438.10,624.30 L438.64,625.51 L439.18,626.70 L439.72,627.87 L440.26,629.01 L440.80,630.14 L441.34,631.26 L441.88,632.36 L442.42,633.44 L442.97,634.51 L443.51,635.57 L444.05,636.61 L444.59,637.65 L445.13,638.67 L445.67,639.68 L446.21,640.68 L446.75,641.67 L447.29,642.66 L447.83,643.63 L448.38,644.59 L448.92,645.54 L449.46,646.48 L450.00,647.41 L450.54,648.33 L451.08,649.24 L451.62,650.13 L452.16,651.01 L452.70,651.88 L453.24,652.74 L453.78,653.58 L454.33,654.40 L454.87,655.21 L455.41,656.00 L455.95,656.77 L456.49,657.53 L457.03,658.27 L457.57,658.99 L458.11,659.69 L458.65,660.37 L459.19,661.04 L459.74,661.68 L460.28,662.30 L460.82,662.90 L461.36,663.49 L461.90,664.05 L462.44,664.59 L462.98,665.12 L463.52,665.62 L464.06,666.10 L464.61,666.56 L465.15,667.01 L465.69,667.43 L466.23,667.84 L466.77,668.23 L467.31,668.60 L467.85,668.95 L468.39,669.29 L468.93,669.61 L469.47,669.91 L470.01,670.20 L470.56,670.47 L471.10,670.73 L471.64,670.97 L472.18,671.20 L472.72,671.42 L473.26,671.62 L473.80,671.82 L474.34,672.00 L474.88,672.17 L475.42,672.32 L475.97,672.47 L476.51,672.61 L477.05,672.74 L477.59,672.86 L478.13,672.98 L478.67,673.08 L479.21,673.18 L479.75,673.27 L480.29,673.36 L480.83,673.44 L481.38,673.51 L481.92,673.58 L482.46,673.64 L483.00,673.70 L483.54,673.75 L484.08,673.80 L484.62,673.84 L485.16,673.88 L485.70,673.92 L486.25,673.96 L486.79,673.99 L487.33,674.02 L487.87,674.04 L488.41,674.07 L488.95,674.09 L489.49,674.11 L490.03,674.13 L490.57,674.15 L491.11,674.16 L491.65,674.18 L492.20,674.19 L492.74,674.20 L493.28,674.21 L493.82,674.22 L494.36,674.23 L494.90,674.24 L495.44,674.24 L495.98,674.25 L496.52,674.25 L497.06,674.26 L497.61,674.26 L498.15,674.27 L498.69,674.27 L499.23,674.27 L499.77,674.28 L500.31,674.28 L500.85,674.28 L501.39,674.28 L501.93,674.29 L502.48,674.29 L503.02,674.29 L503.56,674.29 L504.10,674.29 L504.64,674.29 L505.18,674.29 L505.72,674.29 L506.26,674.30 L506.80,674.30 L507.34,674.30 L507.88,674.30 L508.43,674.30 L508.97,674.30 L509.51,674.30 L510.05,674.30 L510.59,674.30 L511.13,674.30 L511.67,674.30 L512.21,674.30 L512.75,674.30 L513.29,674.30 L513.84,674.30 L514.38,674.30 L514.92,674.30 L515.46,674.30 L516.00,674.30" fill="none" stroke="#0d6fc2" stroke-width="2.2" stroke-linejoin="round"/>
<path d="M353.70,674.30 L354.24,674.30 L354.78,674.30 L355.32,674.30 L355.86,674.30 L356.40,674.30 L356.95,674.30 L357.49,674.30 L358.03,674.30 L358.57,674.30 L359.11,674.29 L359.65,674.29 L360.19,674.29 L360.73,674.29 L361.27,674.29 L361.81,674.28 L362.36,674.28 L362.90,674.27 L363.44,674.27 L363.98,674.26 L364.52,674.25 L365.06,674.24 L365.60,674.22 L366.14,674.20 L366.68,674.18 L367.22,674.16 L367.77,674.13 L368.31,674.09 L368.85,674.05 L369.39,674.00 L369.93,673.94 L370.47,673.87 L371.01,673.79 L371.55,673.69 L372.09,673.58 L372.63,673.46 L373.18,673.31 L373.72,673.14 L374.26,672.95 L374.80,672.73 L375.34,672.48 L375.88,672.20 L376.42,671.88 L376.96,671.52 L377.50,671.11 L378.05,670.67 L378.59,670.17 L379.13,669.62 L379.67,669.01 L380.21,668.34 L380.75,667.61 L381.29,666.82 L381.83,665.95 L382.37,665.02 L382.91,664.02 L383.45,662.94 L384.00,661.79 L384.54,660.56 L385.08,659.27 L385.62,657.90 L386.16,656.47 L386.70,654.97 L387.24,653.40 L387.78,651.79 L388.32,650.12 L388.87,648.41 L389.41,646.66 L389.95,644.88 L390.49,643.08 L391.03,641.27 L391.57,639.46 L392.11,637.65 L392.65,635.86 L393.19,634.10 L393.73,632.37 L394.27,630.68 L394.82,629.05 L395.36,627.47 L395.90,625.96 L396.44,624.52 L396.98,623.16 L397.52,621.88 L398.06,620.68 L398.60,619.56 L399.14,618.52 L399.69,617.56 L400.23,616.68 L400.77,615.86 L401.31,615.12 L401.85,614.43 L402.39,613.79 L402.93,613.19 L403.47,612.62 L404.01,612.08 L404.55,611.55 L405.09,611.03 L405.64,610.50 L406.18,609.97 L406.72,609.41 L407.26,608.83 L407.80,608.22 L408.34,607.58 L408.88,606.90 L409.42,606.19 L409.96,605.44 L410.50,604.66 L411.05,603.86 L411.59,603.03 L412.13,602.18 L412.67,601.33 L413.21,600.48 L413.75,599.65 L414.29,598.83 L414.83,598.05 L415.37,597.30 L415.91,596.62 L416.46,595.99 L417.00,595.44 L417.54,594.97 L418.08,594.59 L418.62,594.30 L419.16,594.11 L419.70,594.03 L420.24,594.05 L420.78,594.18 L421.32,594.41 L421.87,594.75 L422.41,595.19 L422.95,595.73 L423.49,596.35 L424.03,597.06 L424.57,597.85 L425.11,598.71 L425.65,599.63 L426.19,600.60 L426.74,601.62 L427.28,602.68 L427.82,603.77 L428.36,604.87 L428.90,606.00 L429.44,607.13 L429.98,608.27 L430.52,609.41 L431.06,610.55 L431.60,611.68 L432.14,612.80 L432.69,613.91 L433.23,615.01 L433.77,616.10 L434.31,617.18 L434.85,618.25 L435.39,619.31 L435.93,620.37 L436.47,621.42 L437.01,622.47 L437.56,623.52 L438.10,624.58 L438.64,625.63 L439.18,626.70 L439.72,627.77 L440.26,628.85 L440.80,629.95 L441.34,631.05 L441.88,632.16 L442.42,633.29 L442.97,634.43 L443.51,635.58 L444.05,636.74 L444.59,637.91 L445.13,639.08 L445.67,640.26 L446.21,641.45 L446.75,642.63 L447.29,643.82 L447.83,645.00 L448.38,646.17 L448.92,647.34 L449.46,648.50 L450.00,649.64 L450.54,650.77 L451.08,651.89 L451.62,652.98 L452.16,654.05 L452.70,655.09 L453.24,656.12 L453.78,657.11 L454.33,658.07 L454.87,659.01 L455.41,659.91 L455.95,660.79 L456.49,661.62 L457.03,662.43 L457.57,663.20 L458.11,663.94 L458.65,664.65 L459.19,665.32 L459.74,665.96 L460.28,666.56 L460.82,667.14 L461.36,667.68 L461.90,668.19 L462.44,668.67 L462.98,669.12 L463.52,669.54 L464.06,669.94 L464.61,670.31 L465.15,670.65 L465.69,670.97 L466.23,671.27 L466.77,671.54 L467.31,671.79 L467.85,672.03 L468.39,672.24 L468.93,672.44 L469.47,672.62 L470.01,672.79 L470.56,672.94 L471.10,673.08 L471.64,673.21 L472.18,673.32 L472.72,673.43 L473.26,673.52 L473.80,673.61 L474.34,673.68 L474.88,673.75 L475.42,673.81 L475.97,673.87 L476.51,673.92 L477.05,673.96 L477.59,674.00 L478.13,674.04 L478.67,674.07 L479.21,674.10 L479.75,674.13 L480.29,674.15 L480.83,674.17 L481.38,674.18 L481.92,674.20 L482.46,674.21 L483.00,674.22 L483.54,674.23 L484.08,674.24 L484.62,674.25 L485.16,674.26 L485.70,674.26 L486.25,674.27 L486.79,674.27 L487.33,674.28 L487.87,674.28 L488.41,674.28 L488.95,674.29 L489.49,674.29 L490.03,674.29 L490.57,674.29 L491.11,674.29 L491.65,674.29 L492.20,674.29 L492.74,674.30 L493.28,674.30 L493.82,674.30 L494.36,674.30 L494.90,674.30 L495.44,674.30 L495.98,674.30 L496.52,674.30 L497.06,674.30 L497.61,674.30 L498.15,674.30 L498.69,674.30 L499.23,674.30 L499.77,674.30 L500.31,674.30 L500.85,674.30 L501.39,674.30 L501.93,674.30 L502.48,674.30 L503.02,674.30 L503.56,674.30 L504.10,674.30 L504.64,674.30 L505.18,674.30 L505.72,674.30 L506.26,674.30 L506.80,674.30 L507.34,674.30 L507.88,674.30 L508.43,674.30 L508.97,674.30 L509.51,674.30 L510.05,674.30 L510.59,674.30 L511.13,674.30 L511.67,674.30 L512.21,674.30 L512.75,674.30 L513.29,674.30 L513.84,674.30 L514.38,674.30 L514.92,674.30 L515.46,674.30 L516.00,674.30" fill="none" stroke="#e67a0c" stroke-width="2.2" stroke-linejoin="round"/>
<g fill="#b3b3b3">
<rect x="570.00" y="667.20" width="3.60" height="7.10"/>
<rect x="574.53" y="661.50" width="3.60" height="12.80"/>
<rect x="579.06" y="654.30" width="3.60" height="20.00"/>
<rect x="583.59" y="645.50" width="3.60" height="28.80"/>
<rect x="588.12" y="633.40" width="3.60" height="40.90"/>
<rect x="592.65" y="622.70" width="3.60" height="51.60"/>
<rect x="597.18" y="611.70" width="3.60" height="62.60"/>
<rect x="601.71" y="600.50" width="3.60" height="73.80"/>
<rect x="606.24" y="595.70" width="3.60" height="78.60"/>
<rect x="610.77" y="594.90" width="3.60" height="79.40"/>
<rect x="615.30" y="600.50" width="3.60" height="73.80"/>
<rect x="619.83" y="608.50" width="3.60" height="65.80"/>
<rect x="624.36" y="618.20" width="3.60" height="56.10"/>
<rect x="628.89" y="626.20" width="3.60" height="48.10"/>
<rect x="633.42" y="639.80" width="3.60" height="34.50"/>
<rect x="637.95" y="657.50" width="3.60" height="16.80"/>
<rect x="642.48" y="668.70" width="3.60" height="5.60"/>
</g>
<path d="M568.0,674.8 H731.0" stroke="#a0a0a0" stroke-width="1"/>
<g font-size="12.5" fill="#1a1a1a" stroke="#1a1a1a" stroke-width="0.25" text-anchor="middle">
<text x="594.8" y="694.5">2</text>
<text x="640.1" y="694.5">3</text>
<text x="685.5" y="694.5">4</text>
<text x="730.8" y="694.5">5</text>
</g>
<text x="661.0" y="712.0" font-size="13" text-anchor="middle" fill="#1a1a1a" stroke="#1a1a1a" stroke-width="0.25">Distance (nm)</text>
<text x="660.7" y="640.8" font-size="12.7" fill="#1a1a1a" stroke="#1a1a1a" stroke-width="0.25">34/151-W138F</text>
<path d="M568.00,674.29 L568.54,674.29 L569.09,674.29 L569.63,674.29 L570.17,674.28 L570.72,674.28 L571.26,674.27 L571.80,674.27 L572.35,674.26 L572.89,674.25 L573.43,674.24 L573.98,674.22 L574.52,674.20 L575.06,674.17 L575.61,674.14 L576.15,674.10 L576.69,674.06 L577.24,674.00 L577.78,673.94 L578.32,673.86 L578.87,673.76 L579.41,673.65 L579.95,673.51 L580.50,673.35 L581.04,673.17 L581.58,672.95 L582.13,672.69 L582.67,672.39 L583.21,672.04 L583.76,671.65 L584.30,671.19 L584.84,670.66 L585.39,670.07 L585.93,669.39 L586.47,668.63 L587.02,667.77 L587.56,666.81 L588.10,665.73 L588.65,664.54 L589.19,663.23 L589.73,661.78 L590.28,660.19 L590.82,658.46 L591.36,656.57 L591.91,654.54 L592.45,652.35 L592.99,650.01 L593.54,647.51 L594.08,644.86 L594.62,642.06 L595.17,639.12 L595.71,636.05 L596.25,632.85 L596.80,629.55 L597.34,626.15 L597.88,622.68 L598.43,619.14 L598.97,615.57 L599.51,611.97 L600.06,608.38 L600.60,604.83 L601.14,601.32 L601.69,597.89 L602.23,594.57 L602.77,591.37 L603.32,588.32 L603.86,585.45 L604.40,582.76 L604.95,580.29 L605.49,578.04 L606.03,576.03 L606.58,574.28 L607.12,572.78 L607.66,571.55 L608.21,570.58 L608.75,569.88 L609.29,569.44 L609.84,569.26 L610.38,569.27 L610.92,569.28 L611.47,569.29 L612.01,569.28 L612.55,569.27 L613.10,569.47 L613.64,569.89 L614.18,570.53 L614.73,571.37 L615.27,572.38 L615.81,573.55 L616.36,574.86 L616.90,576.29 L617.44,577.83 L617.99,579.45 L618.53,581.14 L619.07,582.88 L619.62,584.66 L620.16,586.47 L620.70,588.29 L621.25,590.12 L621.79,591.94 L622.33,593.76 L622.88,595.55 L623.42,597.34 L623.96,599.10 L624.51,600.85 L625.05,602.57 L625.59,604.28 L626.14,605.98 L626.68,607.66 L627.22,609.34 L627.77,611.01 L628.31,612.67 L628.85,614.33 L629.40,616.00 L629.94,617.67 L630.48,619.35 L631.03,621.03 L631.57,622.71 L632.11,624.40 L632.66,626.10 L633.20,627.80 L633.74,629.50 L634.29,631.19 L634.83,632.89 L635.37,634.57 L635.92,636.25 L636.46,637.90 L637.00,639.55 L637.55,641.17 L638.09,642.76 L638.63,644.33 L639.18,645.86 L639.72,647.36 L640.26,648.82 L640.81,650.25 L641.35,651.63 L641.89,652.97 L642.44,654.26 L642.98,655.50 L643.52,656.70 L644.07,657.86 L644.61,658.96 L645.15,660.01 L645.70,661.02 L646.24,661.98 L646.78,662.89 L647.33,663.76 L647.87,664.57 L648.41,665.35 L648.96,666.08 L649.50,666.76 L650.04,667.40 L650.59,668.01 L651.13,668.57 L651.67,669.09 L652.22,669.58 L652.76,670.03 L653.30,670.45 L653.85,670.84 L654.39,671.19 L654.93,671.52 L655.48,671.82 L656.02,672.09 L656.56,672.34 L657.11,672.56 L657.65,672.77 L658.19,672.95 L658.74,673.12 L659.28,673.26 L659.82,673.40 L660.37,673.51 L660.91,673.62 L661.45,673.71 L662.00,673.79 L662.54,673.86 L663.08,673.93 L663.63,673.98 L664.17,674.03 L664.71,674.07 L665.26,674.11 L665.80,674.14 L666.34,674.16 L666.89,674.19 L667.43,674.20 L667.97,674.22 L668.52,674.23 L669.06,674.25 L669.60,674.26 L670.15,674.26 L670.69,674.27 L671.23,674.28 L671.78,674.28 L672.32,674.28 L672.86,674.29 L673.41,674.29 L673.95,674.29 L674.49,674.29 L675.04,674.29 L675.58,674.30 L676.12,674.30 L676.67,674.30 L677.21,674.30 L677.75,674.30 L678.30,674.30 L678.84,674.30 L679.38,674.30 L679.93,674.30 L680.47,674.30 L681.01,674.30 L681.56,674.30 L682.10,674.30 L682.64,674.30 L683.19,674.30 L683.73,674.30 L684.27,674.30 L684.82,674.30 L685.36,674.30 L685.90,674.30 L686.45,674.30 L686.99,674.30 L687.53,674.30 L688.08,674.30 L688.62,674.30 L689.16,674.30 L689.71,674.30 L690.25,674.30 L690.79,674.30 L691.34,674.30 L691.88,674.30 L692.42,674.30 L692.97,674.30 L693.51,674.30 L694.05,674.30 L694.60,674.30 L695.14,674.30 L695.68,674.30 L696.23,674.30 L696.77,674.30 L697.31,674.30 L697.86,674.30 L698.40,674.30 L698.94,674.30 L699.49,674.30 L700.03,674.30 L700.57,674.30 L701.12,674.30 L701.66,674.30 L702.20,674.30 L702.75,674.30 L703.29,674.30 L703.83,674.30 L704.38,674.30 L704.92,674.30 L705.46,674.30 L706.01,674.30 L706.55,674.30 L707.09,674.30 L707.64,674.30 L708.18,674.30 L708.72,674.30 L709.27,674.30 L709.81,674.30 L710.35,674.30 L710.90,674.30 L711.44,674.30 L711.98,674.30 L712.53,674.30 L713.07,674.30 L713.61,674.30 L714.16,674.30 L714.70,674.30 L715.24,674.30 L715.79,674.30 L716.33,674.30 L716.87,674.30 L717.42,674.30 L717.96,674.30 L718.50,674.30 L719.05,674.30 L719.59,674.30 L720.13,674.30 L720.68,674.30 L721.22,674.30 L721.76,674.30 L722.31,674.30 L722.85,674.30 L723.39,674.30 L723.94,674.30 L724.48,674.30 L725.02,674.30 L725.57,674.30 L726.11,674.30 L726.65,674.30 L727.20,674.30 L727.74,674.30 L728.28,674.30 L728.83,674.30 L729.37,674.30 L729.91,674.30 L730.46,674.30 L731.00,674.30 L731.00,674.30 L730.46,674.30 L729.91,674.30 L729.37,674.30 L728.83,674.30 L728.28,674.30 L727.74,674.30 L727.20,674.30 L726.65,674.30 L726.11,674.30 L725.57,674.30 L725.02,674.30 L724.48,674.30 L723.94,674.30 L723.39,674.30 L722.85,674.30 L722.31,674.30 L721.76,674.30 L721.22,674.30 L720.68,674.30 L720.13,674.30 L719.59,674.30 L719.05,674.30 L718.50,674.30 L717.96,674.30 L717.42,674.30 L716.87,674.30 L716.33,674.30 L715.79,674.30 L715.24,674.30 L714.70,674.30 L714.16,674.30 L713.61,674.30 L713.07,674.30 L712.53,674.30 L711.98,674.30 L711.44,674.30 L710.90,674.30 L710.35,674.30 L709.81,674.30 L709.27,674.30 L708.72,674.30 L708.18,674.30 L707.64,674.30 L707.09,674.30 L706.55,674.30 L706.01,674.30 L705.46,674.30 L704.92,674.30 L704.38,674.30 L703.83,674.30 L703.29,674.30 L702.75,674.30 L702.20,674.30 L701.66,674.30 L701.12,674.30 L700.57,674.30 L700.03,674.30 L699.49,674.30 L698.94,674.30 L698.40,674.30 L697.86,674.30 L697.31,674.30 L696.77,674.30 L696.23,674.30 L695.68,674.30 L695.14,674.30 L694.60,674.30 L694.05,674.30 L693.51,674.30 L692.97,674.30 L692.42,674.30 L691.88,674.30 L691.34,674.30 L690.79,674.30 L690.25,674.30 L689.71,674.30 L689.16,674.30 L688.62,674.30 L688.08,674.30 L687.53,674.30 L686.99,674.30 L686.45,674.30 L685.90,674.30 L685.36,674.30 L684.82,674.30 L684.27,674.30 L683.73,674.30 L683.19,674.30 L682.64,674.30 L682.10,674.30 L681.56,674.30 L681.01,674.30 L680.47,674.30 L679.93,674.30 L679.38,674.30 L678.84,674.30 L678.30,674.30 L677.75,674.30 L677.21,674.30 L676.67,674.30 L676.12,674.30 L675.58,674.30 L675.04,674.30 L674.49,674.30 L673.95,674.30 L673.41,674.30 L672.86,674.30 L672.32,674.30 L671.78,674.29 L671.23,674.29 L670.69,674.29 L670.15,674.29 L669.60,674.29 L669.06,674.28 L668.52,674.28 L667.97,674.27 L667.43,674.27 L666.89,674.26 L666.34,674.25 L665.80,674.24 L665.26,674.23 L664.71,674.22 L664.17,674.20 L663.63,674.18 L663.08,674.16 L662.54,674.13 L662.00,674.10 L661.45,674.07 L660.91,674.03 L660.37,673.98 L659.82,673.93 L659.28,673.86 L658.74,673.80 L658.19,673.72 L657.65,673.63 L657.11,673.53 L656.56,673.42 L656.02,673.30 L655.48,673.16 L654.93,673.00 L654.39,672.83 L653.85,672.65 L653.30,672.44 L652.76,672.21 L652.22,671.97 L651.67,671.70 L651.13,671.40 L650.59,671.09 L650.04,670.74 L649.50,670.37 L648.96,669.97 L648.41,669.54 L647.87,669.08 L647.33,668.59 L646.78,668.07 L646.24,667.51 L645.70,666.92 L645.15,666.29 L644.61,665.62 L644.07,664.92 L643.52,664.19 L642.98,663.41 L642.44,662.60 L641.89,661.75 L641.35,660.86 L640.81,659.93 L640.26,658.97 L639.72,657.97 L639.18,656.93 L638.63,655.86 L638.09,654.75 L637.55,653.62 L637.00,652.45 L636.46,651.26 L635.92,650.03 L635.37,648.79 L634.83,647.53 L634.29,646.24 L633.74,644.95 L633.20,643.63 L632.66,642.31 L632.11,640.99 L631.57,639.65 L631.03,638.32 L630.48,636.98 L629.94,635.65 L629.40,634.32 L628.85,632.99 L628.31,631.67 L627.77,630.35 L627.22,629.04 L626.68,627.73 L626.14,626.42 L625.59,625.11 L625.05,623.80 L624.51,622.49 L623.96,621.17 L623.42,619.84 L622.88,618.51 L622.33,617.15 L621.79,615.79 L621.25,614.41 L620.70,613.01 L620.16,611.61 L619.62,610.19 L619.07,608.76 L618.53,607.32 L617.99,605.89 L617.44,604.46 L616.90,603.05 L616.36,601.67 L615.81,600.32 L615.27,599.02 L614.73,597.79 L614.18,596.63 L613.64,595.55 L613.10,594.59 L612.55,593.74 L612.01,593.02 L611.47,592.46 L610.92,592.46 L610.38,593.10 L609.84,593.94 L609.29,595.00 L608.75,596.26 L608.21,597.72 L607.66,599.38 L607.12,601.22 L606.58,603.24 L606.03,605.41 L605.49,607.73 L604.95,610.18 L604.40,612.73 L603.86,615.38 L603.32,618.10 L602.77,620.88 L602.23,623.68 L601.69,626.51 L601.14,629.33 L600.60,632.12 L600.06,634.88 L599.51,637.59 L598.97,640.23 L598.43,642.79 L597.88,645.26 L597.34,647.64 L596.80,649.90 L596.25,652.05 L595.71,654.08 L595.17,656.00 L594.62,657.79 L594.08,659.46 L593.54,661.00 L592.99,662.43 L592.45,663.75 L591.91,664.95 L591.36,666.04 L590.82,667.04 L590.28,667.93 L589.73,668.74 L589.19,669.46 L588.65,670.10 L588.10,670.67 L587.56,671.18 L587.02,671.62 L586.47,672.01 L585.93,672.35 L585.39,672.65 L584.84,672.90 L584.30,673.12 L583.76,673.31 L583.21,673.47 L582.67,673.61 L582.13,673.73 L581.58,673.83 L581.04,673.91 L580.50,673.98 L579.95,674.04 L579.41,674.09 L578.87,674.13 L578.32,674.16 L577.78,674.19 L577.24,674.21 L576.69,674.23 L576.15,674.24 L575.61,674.25 L575.06,674.26 L574.52,674.27 L573.98,674.28 L573.43,674.28 L572.89,674.29 L572.35,674.29 L571.80,674.29 L571.26,674.29 L570.72,674.30 L570.17,674.30 L569.63,674.30 L569.09,674.30 L568.54,674.30 L568.00,674.30 Z" fill="#5ec0ef" opacity="0.90"/>
<path d="M568.00,674.28 L568.54,674.28 L569.09,674.27 L569.63,674.27 L570.17,674.26 L570.72,674.25 L571.26,674.23 L571.80,674.22 L572.35,674.20 L572.89,674.17 L573.43,674.14 L573.98,674.11 L574.52,674.06 L575.06,674.01 L575.61,673.95 L576.15,673.87 L576.69,673.78 L577.24,673.67 L577.78,673.55 L578.32,673.40 L578.87,673.23 L579.41,673.03 L579.95,672.79 L580.50,672.52 L581.04,672.21 L581.58,671.85 L582.13,671.45 L582.67,670.98 L583.21,670.46 L583.76,669.87 L584.30,669.20 L584.84,668.46 L585.39,667.63 L585.93,666.71 L586.47,665.70 L587.02,664.59 L587.56,663.37 L588.10,662.04 L588.65,660.60 L589.19,659.04 L589.73,657.36 L590.28,655.57 L590.82,653.66 L591.36,651.63 L591.91,649.49 L592.45,647.23 L592.99,644.88 L593.54,642.43 L594.08,639.89 L594.62,637.27 L595.17,634.58 L595.71,631.84 L596.25,629.06 L596.80,626.25 L597.34,623.42 L597.88,620.60 L598.43,617.79 L598.97,615.02 L599.51,612.29 L600.06,609.63 L600.60,607.04 L601.14,604.55 L601.69,602.16 L602.23,599.88 L602.77,597.73 L603.32,595.70 L603.86,593.82 L604.40,592.08 L604.95,590.48 L605.49,589.04 L606.03,587.74 L606.58,586.59 L607.12,585.58 L607.66,584.71 L608.21,583.97 L608.75,583.36 L609.29,582.88 L609.84,582.51 L610.38,582.25 L610.92,582.09 L611.47,582.03 L612.01,582.05 L612.55,582.04 L613.10,582.03 L613.64,582.04 L614.18,582.05 L614.73,582.04 L615.27,582.10 L615.81,582.26 L616.36,582.48 L616.90,582.78 L617.44,583.15 L617.99,583.59 L618.53,584.09 L619.07,584.66 L619.62,585.29 L620.16,585.98 L620.70,586.73 L621.25,587.55 L621.79,588.43 L622.33,589.37 L622.88,590.37 L623.42,591.43 L623.96,592.56 L624.51,593.74 L625.05,594.98 L625.59,596.28 L626.14,597.62 L626.68,599.02 L627.22,600.46 L627.77,601.94 L628.31,603.46 L628.85,605.02 L629.40,606.60 L629.94,608.20 L630.48,609.82 L631.03,611.45 L631.57,613.09 L632.11,614.74 L632.66,616.39 L633.20,618.03 L633.74,619.68 L634.29,621.31 L634.83,622.93 L635.37,624.54 L635.92,626.13 L636.46,627.72 L637.00,629.28 L637.55,630.83 L638.09,632.36 L638.63,633.87 L639.18,635.37 L639.72,636.85 L640.26,638.31 L640.81,639.76 L641.35,641.18 L641.89,642.59 L642.44,643.97 L642.98,645.34 L643.52,646.68 L644.07,648.00 L644.61,649.30 L645.15,650.58 L645.70,651.82 L646.24,653.05 L646.78,654.24 L647.33,655.40 L647.87,656.52 L648.41,657.62 L648.96,658.68 L649.50,659.70 L650.04,660.68 L650.59,661.63 L651.13,662.54 L651.67,663.40 L652.22,664.23 L652.76,665.01 L653.30,665.75 L653.85,666.46 L654.39,667.12 L654.93,667.74 L655.48,668.32 L656.02,668.87 L656.56,669.37 L657.11,669.84 L657.65,670.28 L658.19,670.68 L658.74,671.05 L659.28,671.39 L659.82,671.70 L660.37,671.98 L660.91,672.24 L661.45,672.48 L662.00,672.69 L662.54,672.88 L663.08,673.05 L663.63,673.20 L664.17,673.34 L664.71,673.46 L665.26,673.57 L665.80,673.66 L666.34,673.75 L666.89,673.82 L667.43,673.89 L667.97,673.95 L668.52,674.00 L669.06,674.04 L669.60,674.08 L670.15,674.11 L670.69,674.14 L671.23,674.17 L671.78,674.19 L672.32,674.20 L672.86,674.22 L673.41,674.23 L673.95,674.24 L674.49,674.25 L675.04,674.26 L675.58,674.27 L676.12,674.27 L676.67,674.28 L677.21,674.28 L677.75,674.29 L678.30,674.29 L678.84,674.29 L679.38,674.29 L679.93,674.29 L680.47,674.29 L681.01,674.30 L681.56,674.30 L682.10,674.30 L682.64,674.30 L683.19,674.30 L683.73,674.30 L684.27,674.30 L684.82,674.30 L685.36,674.30 L685.90,674.30 L686.45,674.30 L686.99,674.30 L687.53,674.30 L688.08,674.30 L688.62,674.30 L689.16,674.30 L689.71,674.30 L690.25,674.30 L690.79,674.30 L691.34,674.30 L691.88,674.30 L692.42,674.30 L692.97,674.30 L693.51,674.30 L694.05,674.30 L694.60,674.30 L695.14,674.30 L695.68,674.30 L696.23,674.30 L696.77,674.30 L697.31,674.30 L697.86,674.30 L698.40,674.30 L698.94,674.30 L699.49,674.30 L700.03,674.30 L700.57,674.30 L701.12,674.30 L701.66,674.30 L702.20,674.30 L702.75,674.30 L703.29,674.30 L703.83,674.30 L704.38,674.30 L704.92,674.30 L705.46,674.30 L706.01,674.30 L706.55,674.30 L707.09,674.30 L707.64,674.30 L708.18,674.30 L708.72,674.30 L709.27,674.30 L709.81,674.30 L710.35,674.30 L710.90,674.30 L711.44,674.30 L711.98,674.30 L712.53,674.30 L713.07,674.30 L713.61,674.30 L714.16,674.30 L714.70,674.30 L715.24,674.30 L715.79,674.30 L716.33,674.30 L716.87,674.30 L717.42,674.30 L717.96,674.30 L718.50,674.30 L719.05,674.30 L719.59,674.30 L720.13,674.30 L720.68,674.30 L721.22,674.30 L721.76,674.30 L722.31,674.30 L722.85,674.30 L723.39,674.30 L723.94,674.30 L724.48,674.30 L725.02,674.30 L725.57,674.30 L726.11,674.30 L726.65,674.30 L727.20,674.30 L727.74,674.30 L728.28,674.30 L728.83,674.30 L729.37,674.30 L729.91,674.30 L730.46,674.30 L731.00,674.30 L731.00,674.30 L730.46,674.30 L729.91,674.30 L729.37,674.30 L728.83,674.30 L728.28,674.30 L727.74,674.30 L727.20,674.30 L726.65,674.30 L726.11,674.30 L725.57,674.30 L725.02,674.30 L724.48,674.30 L723.94,674.30 L723.39,674.30 L722.85,674.30 L722.31,674.30 L721.76,674.30 L721.22,674.30 L720.68,674.30 L720.13,674.30 L719.59,674.30 L719.05,674.30 L718.50,674.30 L717.96,674.30 L717.42,674.30 L716.87,674.30 L716.33,674.30 L715.79,674.30 L715.24,674.30 L714.70,674.30 L714.16,674.30 L713.61,674.30 L713.07,674.30 L712.53,674.30 L711.98,674.30 L711.44,674.30 L710.90,674.30 L710.35,674.30 L709.81,674.30 L709.27,674.30 L708.72,674.30 L708.18,674.30 L707.64,674.30 L707.09,674.30 L706.55,674.30 L706.01,674.30 L705.46,674.30 L704.92,674.30 L704.38,674.30 L703.83,674.30 L703.29,674.30 L702.75,674.30 L702.20,674.30 L701.66,674.30 L701.12,674.30 L700.57,674.30 L700.03,674.30 L699.49,674.30 L698.94,674.30 L698.40,674.30 L697.86,674.30 L697.31,674.30 L696.77,674.30 L696.23,674.30 L695.68,674.30 L695.14,674.30 L694.60,674.30 L694.05,674.30 L693.51,674.30 L692.97,674.30 L692.42,674.30 L691.88,674.30 L691.34,674.30 L690.79,674.30 L690.25,674.30 L689.71,674.30 L689.16,674.30 L688.62,674.30 L688.08,674.30 L687.53,674.30 L686.99,674.30 L686.45,674.30 L685.90,674.30 L685.36,674.30 L684.82,674.30 L684.27,674.30 L683.73,674.30 L683.19,674.30 L682.64,674.30 L682.10,674.30 L681.56,674.30 L681.01,674.30 L680.47,674.30 L679.93,674.30 L679.38,674.30 L678.84,674.30 L678.30,674.30 L677.75,674.30 L677.21,674.30 L676.67,674.29 L676.12,674.29 L675.58,674.29 L675.04,674.29 L674.49,674.29 L673.95,674.28 L673.41,674.28 L672.86,674.28 L672.32,674.27 L671.78,674.26 L671.23,674.26 L670.69,674.25 L670.15,674.24 L669.60,674.23 L669.06,674.21 L668.52,674.20 L667.97,674.18 L667.43,674.16 L666.89,674.13 L666.34,674.10 L665.80,674.07 L665.26,674.03 L664.71,673.98 L664.17,673.93 L663.63,673.87 L663.08,673.81 L662.54,673.73 L662.00,673.65 L661.45,673.55 L660.91,673.44 L660.37,673.32 L659.82,673.19 L659.28,673.04 L658.74,672.87 L658.19,672.69 L657.65,672.48 L657.11,672.26 L656.56,672.01 L656.02,671.74 L655.48,671.44 L654.93,671.12 L654.39,670.77 L653.85,670.40 L653.30,669.99 L652.76,669.55 L652.22,669.08 L651.67,668.58 L651.13,668.04 L650.59,667.48 L650.04,666.87 L649.50,666.24 L648.96,665.57 L648.41,664.86 L647.87,664.12 L647.33,663.35 L646.78,662.54 L646.24,661.71 L645.70,660.84 L645.15,659.94 L644.61,659.01 L644.07,658.06 L643.52,657.08 L642.98,656.07 L642.44,655.04 L641.89,653.99 L641.35,652.91 L640.81,651.82 L640.26,650.71 L639.72,649.58 L639.18,648.43 L638.63,647.26 L638.09,646.08 L637.55,644.89 L637.00,643.67 L636.46,642.45 L635.92,641.20 L635.37,639.95 L634.83,638.68 L634.29,637.39 L633.74,636.09 L633.20,634.78 L632.66,633.45 L632.11,632.11 L631.57,630.77 L631.03,629.41 L630.48,628.04 L629.94,626.67 L629.40,625.29 L628.85,623.92 L628.31,622.54 L627.77,621.18 L627.22,619.82 L626.68,618.47 L626.14,617.14 L625.59,615.83 L625.05,614.55 L624.51,613.30 L623.96,612.07 L623.42,610.89 L622.88,609.74 L622.33,608.64 L621.79,607.58 L621.25,606.56 L620.70,605.60 L620.16,604.69 L619.62,603.82 L619.07,603.01 L618.53,602.25 L617.99,601.54 L617.44,600.89 L616.90,600.28 L616.36,599.73 L615.81,599.23 L615.27,598.78 L614.73,598.39 L614.18,598.05 L613.64,597.77 L613.10,597.55 L612.55,597.82 L612.01,598.18 L611.47,598.63 L610.92,599.19 L610.38,599.87 L609.84,600.65 L609.29,601.56 L608.75,602.58 L608.21,603.73 L607.66,605.00 L607.12,606.40 L606.58,607.92 L606.03,609.55 L605.49,611.30 L604.95,613.15 L604.40,615.10 L603.86,617.14 L603.32,619.27 L602.77,621.46 L602.23,623.71 L601.69,626.01 L601.14,628.34 L600.60,630.69 L600.06,633.05 L599.51,635.41 L598.97,637.75 L598.43,640.05 L597.88,642.32 L597.34,644.53 L596.80,646.69 L596.25,648.77 L595.71,650.77 L595.17,652.70 L594.62,654.53 L594.08,656.27 L593.54,657.91 L592.99,659.45 L592.45,660.90 L591.91,662.25 L591.36,663.50 L590.82,664.65 L590.28,665.71 L589.73,666.69 L589.19,667.57 L588.65,668.38 L588.10,669.10 L587.56,669.76 L587.02,670.34 L586.47,670.86 L585.93,671.33 L585.39,671.74 L584.84,672.10 L584.30,672.42 L583.76,672.70 L583.21,672.94 L582.67,673.15 L582.13,673.33 L581.58,673.48 L581.04,673.62 L580.50,673.73 L579.95,673.83 L579.41,673.91 L578.87,673.98 L578.32,674.03 L577.78,674.08 L577.24,674.12 L576.69,674.16 L576.15,674.18 L575.61,674.21 L575.06,674.22 L574.52,674.24 L573.98,674.25 L573.43,674.26 L572.89,674.27 L572.35,674.28 L571.80,674.28 L571.26,674.29 L570.72,674.29 L570.17,674.29 L569.63,674.29 L569.09,674.29 L568.54,674.30 L568.00,674.30 Z" fill="#e9bb45" opacity="0.85"/>
<path d="M568.00,674.30 L568.54,674.30 L569.09,674.30 L569.63,674.29 L570.17,674.29 L570.72,674.29 L571.26,674.29 L571.80,674.28 L572.35,674.28 L572.89,674.27 L573.43,674.27 L573.98,674.26 L574.52,674.24 L575.06,674.23 L575.61,674.21 L576.15,674.19 L576.69,674.17 L577.24,674.13 L577.78,674.09 L578.32,674.05 L578.87,673.99 L579.41,673.92 L579.95,673.84 L580.50,673.74 L581.04,673.62 L581.58,673.49 L582.13,673.32 L582.67,673.13 L583.21,672.91 L583.76,672.65 L584.30,672.35 L584.84,672.01 L585.39,671.61 L585.93,671.16 L586.47,670.64 L587.02,670.05 L587.56,669.39 L588.10,668.64 L588.65,667.80 L589.19,666.86 L589.73,665.82 L590.28,664.67 L590.82,663.40 L591.36,662.01 L591.91,660.49 L592.45,658.84 L592.99,657.05 L593.54,655.12 L594.08,653.06 L594.62,650.86 L595.17,648.52 L595.71,646.05 L596.25,643.45 L596.80,640.73 L597.34,637.90 L597.88,634.97 L598.43,631.95 L598.97,628.86 L599.51,625.71 L600.06,622.53 L600.60,619.32 L601.14,616.11 L601.69,612.93 L602.23,609.79 L602.77,606.71 L603.32,603.72 L603.86,600.84 L604.40,598.09 L604.95,595.49 L605.49,593.05 L606.03,590.80 L606.58,588.75 L607.12,586.92 L607.66,585.30 L608.21,583.92 L608.75,582.77 L609.29,581.86 L609.84,581.18 L610.38,580.74 L610.92,580.53 L611.47,580.54 L612.01,580.76 L612.55,581.18 L613.10,581.79 L613.64,582.57 L614.18,583.50 L614.73,584.58 L615.27,585.77 L615.81,587.07 L616.36,588.46 L616.90,589.92 L617.44,591.44 L617.99,593.01 L618.53,594.60 L619.07,596.22 L619.62,597.85 L620.16,599.48 L620.70,601.10 L621.25,602.72 L621.79,604.33 L622.33,605.91 L622.88,607.48 L623.42,609.04 L623.96,610.58 L624.51,612.10 L625.05,613.61 L625.59,615.11 L626.14,616.61 L626.68,618.10 L627.22,619.58 L627.77,621.07 L628.31,622.56 L628.85,624.05 L629.40,625.55 L629.94,627.05 L630.48,628.55 L631.03,630.06 L631.57,631.58 L632.11,633.10 L632.66,634.61 L633.20,636.13 L633.74,637.64 L634.29,639.14 L634.83,640.63 L635.37,642.11 L635.92,643.57 L636.46,645.01 L637.00,646.43 L637.55,647.83 L638.09,649.19 L638.63,650.52 L639.18,651.82 L639.72,653.08 L640.26,654.31 L640.81,655.50 L641.35,656.64 L641.89,657.75 L642.44,658.81 L642.98,659.83 L643.52,660.80 L644.07,661.74 L644.61,662.63 L645.15,663.47 L645.70,664.28 L646.24,665.04 L646.78,665.76 L647.33,666.45 L647.87,667.09 L648.41,667.69 L648.96,668.26 L649.50,668.79 L650.04,669.28 L650.59,669.74 L651.13,670.17 L651.67,670.57 L652.22,670.94 L652.76,671.28 L653.30,671.59 L653.85,671.87 L654.39,672.14 L654.93,672.37 L655.48,672.59 L656.02,672.79 L656.56,672.97 L657.11,673.13 L657.65,673.27 L658.19,673.40 L658.74,673.52 L659.28,673.62 L659.82,673.71 L660.37,673.79 L660.91,673.86 L661.45,673.92 L662.00,673.98 L662.54,674.03 L663.08,674.07 L663.63,674.10 L664.17,674.13 L664.71,674.16 L665.26,674.18 L665.80,674.20 L666.34,674.22 L666.89,674.23 L667.43,674.24 L667.97,674.25 L668.52,674.26 L669.06,674.27 L669.60,674.27 L670.15,674.28 L670.69,674.28 L671.23,674.29 L671.78,674.29 L672.32,674.29 L672.86,674.29 L673.41,674.29 L673.95,674.30 L674.49,674.30 L675.04,674.30 L675.58,674.30 L676.12,674.30 L676.67,674.30 L677.21,674.30 L677.75,674.30 L678.30,674.30 L678.84,674.30 L679.38,674.30 L679.93,674.30 L680.47,674.30 L681.01,674.30 L681.56,674.30 L682.10,674.30 L682.64,674.30 L683.19,674.30 L683.73,674.30 L684.27,674.30 L684.82,674.30 L685.36,674.30 L685.90,674.30 L686.45,674.30 L686.99,674.30 L687.53,674.30 L688.08,674.30 L688.62,674.30 L689.16,674.30 L689.71,674.30 L690.25,674.30 L690.79,674.30 L691.34,674.30 L691.88,674.30 L692.42,674.30 L692.97,674.30 L693.51,674.30 L694.05,674.30 L694.60,674.30 L695.14,674.30 L695.68,674.30 L696.23,674.30 L696.77,674.30 L697.31,674.30 L697.86,674.30 L698.40,674.30 L698.94,674.30 L699.49,674.30 L700.03,674.30 L700.57,674.30 L701.12,674.30 L701.66,674.30 L702.20,674.30 L702.75,674.30 L703.29,674.30 L703.83,674.30 L704.38,674.30 L704.92,674.30 L705.46,674.30 L706.01,674.30 L706.55,674.30 L707.09,674.30 L707.64,674.30 L708.18,674.30 L708.72,674.30 L709.27,674.30 L709.81,674.30 L710.35,674.30 L710.90,674.30 L711.44,674.30 L711.98,674.30 L712.53,674.30 L713.07,674.30 L713.61,674.30 L714.16,674.30 L714.70,674.30 L715.24,674.30 L715.79,674.30 L716.33,674.30 L716.87,674.30 L717.42,674.30 L717.96,674.30 L718.50,674.30 L719.05,674.30 L719.59,674.30 L720.13,674.30 L720.68,674.30 L721.22,674.30 L721.76,674.30 L722.31,674.30 L722.85,674.30 L723.39,674.30 L723.94,674.30 L724.48,674.30 L725.02,674.30 L725.57,674.30 L726.11,674.30 L726.65,674.30 L727.20,674.30 L727.74,674.30 L728.28,674.30 L728.83,674.30 L729.37,674.30 L729.91,674.30 L730.46,674.30 L731.00,674.30" fill="none" stroke="#0d6fc2" stroke-width="2.2" stroke-linejoin="round"/>
<path d="M568.00,674.29 L568.54,674.29 L569.09,674.29 L569.63,674.28 L570.17,674.28 L570.72,674.27 L571.26,674.27 L571.80,674.26 L572.35,674.25 L572.89,674.24 L573.43,674.22 L573.98,674.20 L574.52,674.18 L575.06,674.15 L575.61,674.11 L576.15,674.07 L576.69,674.02 L577.24,673.96 L577.78,673.89 L578.32,673.80 L578.87,673.70 L579.41,673.58 L579.95,673.44 L580.50,673.27 L581.04,673.08 L581.58,672.86 L582.13,672.60 L582.67,672.31 L583.21,671.97 L583.76,671.59 L584.30,671.15 L584.84,670.65 L585.39,670.09 L585.93,669.47 L586.47,668.77 L587.02,667.99 L587.56,667.13 L588.10,666.17 L588.65,665.13 L589.19,663.99 L589.73,662.74 L590.28,661.39 L590.82,659.94 L591.36,658.38 L591.91,656.70 L592.45,654.92 L592.99,653.04 L593.54,651.05 L594.08,648.96 L594.62,646.78 L595.17,644.51 L595.71,642.16 L596.25,639.74 L596.80,637.27 L597.34,634.74 L597.88,632.18 L598.43,629.60 L598.97,627.00 L599.51,624.41 L600.06,621.84 L600.60,619.31 L601.14,616.82 L601.69,614.39 L602.23,612.04 L602.77,609.77 L603.32,607.60 L603.86,605.54 L604.40,603.59 L604.95,601.77 L605.49,600.07 L606.03,598.51 L606.58,597.08 L607.12,595.78 L607.66,594.62 L608.21,593.59 L608.75,592.70 L609.29,591.93 L609.84,591.29 L610.38,590.76 L610.92,590.34 L611.47,590.02 L612.01,589.81 L612.55,589.69 L613.10,589.65 L613.64,589.70 L614.18,589.82 L614.73,590.01 L615.27,590.27 L615.81,590.59 L616.36,590.98 L616.90,591.43 L617.44,591.93 L617.99,592.49 L618.53,593.12 L619.07,593.79 L619.62,594.53 L620.16,595.32 L620.70,596.17 L621.25,597.07 L621.79,598.04 L622.33,599.05 L622.88,600.13 L623.42,601.25 L623.96,602.43 L624.51,603.65 L625.05,604.93 L625.59,606.24 L626.14,607.59 L626.68,608.98 L627.22,610.39 L627.77,611.84 L628.31,613.30 L628.85,614.78 L629.40,616.28 L629.94,617.79 L630.48,619.30 L631.03,620.81 L631.57,622.32 L632.11,623.83 L632.66,625.33 L633.20,626.82 L633.74,628.30 L634.29,629.76 L634.83,631.22 L635.37,632.66 L635.92,634.08 L636.46,635.49 L637.00,636.88 L637.55,638.26 L638.09,639.62 L638.63,640.96 L639.18,642.29 L639.72,643.60 L640.26,644.90 L640.81,646.17 L641.35,647.43 L641.89,648.67 L642.44,649.89 L642.98,651.08 L643.52,652.26 L644.07,653.41 L644.61,654.53 L645.15,655.63 L645.70,656.70 L646.24,657.75 L646.78,658.76 L647.33,659.74 L647.87,660.68 L648.41,661.60 L648.96,662.47 L649.50,663.31 L650.04,664.12 L650.59,664.88 L651.13,665.61 L651.67,666.30 L652.22,666.95 L652.76,667.57 L653.30,668.15 L653.85,668.69 L654.39,669.20 L654.93,669.67 L655.48,670.11 L656.02,670.52 L656.56,670.89 L657.11,671.24 L657.65,671.56 L658.19,671.85 L658.74,672.12 L659.28,672.36 L659.82,672.58 L660.37,672.77 L660.91,672.95 L661.45,673.12 L662.00,673.26 L662.54,673.39 L663.08,673.50 L663.63,673.61 L664.17,673.70 L664.71,673.78 L665.26,673.85 L665.80,673.91 L666.34,673.96 L666.89,674.01 L667.43,674.05 L667.97,674.09 L668.52,674.12 L669.06,674.15 L669.60,674.17 L670.15,674.19 L670.69,674.21 L671.23,674.22 L671.78,674.24 L672.32,674.25 L672.86,674.25 L673.41,674.26 L673.95,674.27 L674.49,674.27 L675.04,674.28 L675.58,674.28 L676.12,674.29 L676.67,674.29 L677.21,674.29 L677.75,674.29 L678.30,674.29 L678.84,674.29 L679.38,674.30 L679.93,674.30 L680.47,674.30 L681.01,674.30 L681.56,674.30 L682.10,674.30 L682.64,674.30 L683.19,674.30 L683.73,674.30 L684.27,674.30 L684.82,674.30 L685.36,674.30 L685.90,674.30 L686.45,674.30 L686.99,674.30 L687.53,674.30 L688.08,674.30 L688.62,674.30 L689.16,674.30 L689.71,674.30 L690.25,674.30 L690.79,674.30 L691.34,674.30 L691.88,674.30 L692.42,674.30 L692.97,674.30 L693.51,674.30 L694.05,674.30 L694.60,674.30 L695.14,674.30 L695.68,674.30 L696.23,674.30 L696.77,674.30 L697.31,674.30 L697.86,674.30 L698.40,674.30 L698.94,674.30 L699.49,674.30 L700.03,674.30 L700.57,674.30 L701.12,674.30 L701.66,674.30 L702.20,674.30 L702.75,674.30 L703.29,674.30 L703.83,674.30 L704.38,674.30 L704.92,674.30 L705.46,674.30 L706.01,674.30 L706.55,674.30 L707.09,674.30 L707.64,674.30 L708.18,674.30 L708.72,674.30 L709.27,674.30 L709.81,674.30 L710.35,674.30 L710.90,674.30 L711.44,674.30 L711.98,674.30 L712.53,674.30 L713.07,674.30 L713.61,674.30 L714.16,674.30 L714.70,674.30 L715.24,674.30 L715.79,674.30 L716.33,674.30 L716.87,674.30 L717.42,674.30 L717.96,674.30 L718.50,674.30 L719.05,674.30 L719.59,674.30 L720.13,674.30 L720.68,674.30 L721.22,674.30 L721.76,674.30 L722.31,674.30 L722.85,674.30 L723.39,674.30 L723.94,674.30 L724.48,674.30 L725.02,674.30 L725.57,674.30 L726.11,674.30 L726.65,674.30 L727.20,674.30 L727.74,674.30 L728.28,674.30 L728.83,674.30 L729.37,674.30 L729.91,674.30 L730.46,674.30 L731.00,674.30" fill="none" stroke="#e67a0c" stroke-width="2.2" stroke-linejoin="round"/>
<path d="M465.6,529.4 H494.6" stroke="#1a8ff0" stroke-width="2.2"/>
<path d="M465.6,549.4 H494.6" stroke="#ff8a14" stroke-width="2.2"/>
<rect x="465.6" y="566.0" width="29.5" height="10" fill="#b3b3b3"/>
<g font-size="12.7" fill="#1a1a1a" stroke="#1a1a1a" stroke-width="0.3">
<text x="502.1" y="534.6">apo</text>
<text x="502.1" y="554.6">holo</text>
<text x="502.1" y="575.2">crystal (4ryq)</text>
</g>
<defs>
<radialGradient id="gG" cx="0.45" cy="0.42" r="0.6"><stop offset="0" stop-color="#66e862"/><stop offset="0.7" stop-color="#52d84e"/><stop offset="1" stop-color="#38a836"/></radialGradient>
<radialGradient id="gM" cx="0.45" cy="0.42" r="0.6"><stop offset="0" stop-color="#e65ae6"/><stop offset="0.7" stop-color="#d43ad4"/><stop offset="1" stop-color="#a624a6"/></radialGradient>
<linearGradient id="gR" x1="1" y1="0" x2="0" y2="1"><stop offset="0" stop-color="#3f92ec"/><stop offset="1" stop-color="#1659ad"/></linearGradient>
</defs>
<path fill-rule="evenodd" fill="#c6c6c6" d="M455.00,331.00 a19.00,17.00 0 1,0 38.00,0 a19.00,17.00 0 1,0 -38.00,0 Z M461.46,331.00 a10.64,9.52 0 1,0 21.28,0 a10.64,9.52 0 1,0 -21.28,0 Z"/>
<path fill-rule="evenodd" fill="#a6bddc" d="M455.00,331.00 a19.00,17.00 0 1,0 38.00,0 a19.00,17.00 0 1,0 -38.00,0 Z M462.60,331.00 a15.20,13.60 0 1,0 30.40,0 a15.20,13.60 0 1,0 -30.40,0 Z"/>
<path fill-rule="evenodd" fill="#c6c6c6" d="M498.00,318.00 a17.00,17.00 0 1,0 34.00,0 a17.00,17.00 0 1,0 -34.00,0 Z M503.78,318.00 a9.52,9.52 0 1,0 19.04,0 a9.52,9.52 0 1,0 -19.04,0 Z"/>
<path fill-rule="evenodd" fill="#a6bddc" d="M498.00,318.00 a17.00,17.00 0 1,0 34.00,0 a17.00,17.00 0 1,0 -34.00,0 Z M504.80,318.00 a13.60,13.60 0 1,0 27.20,0 a13.60,13.60 0 1,0 -27.20,0 Z"/>
<path fill-rule="evenodd" fill="#c6c6c6" d="M493.00,326.00 a17.00,16.00 0 1,0 34.00,0 a17.00,16.00 0 1,0 -34.00,0 Z M498.78,326.00 a9.52,8.96 0 1,0 19.04,0 a9.52,8.96 0 1,0 -19.04,0 Z"/>
<path fill-rule="evenodd" fill="#a6bddc" d="M493.00,326.00 a17.00,16.00 0 1,0 34.00,0 a17.00,16.00 0 1,0 -34.00,0 Z M499.80,326.00 a13.60,12.80 0 1,0 27.20,0 a13.60,12.80 0 1,0 -27.20,0 Z"/>
<path fill-rule="evenodd" fill="#c6c6c6" d="M449.00,347.00 a18.00,16.00 0 1,0 36.00,0 a18.00,16.00 0 1,0 -36.00,0 Z M455.12,347.00 a10.08,8.96 0 1,0 20.16,0 a10.08,8.96 0 1,0 -20.16,0 Z"/>
<path fill-rule="evenodd" fill="#a6bddc" d="M449.00,347.00 a18.00,16.00 0 1,0 36.00,0 a18.00,16.00 0 1,0 -36.00,0 Z M456.20,347.00 a14.40,12.80 0 1,0 28.80,0 a14.40,12.80 0 1,0 -28.80,0 Z"/>
<path fill-rule="evenodd" fill="#c6c6c6" d="M470.00,356.00 a18.00,16.00 0 1,0 36.00,0 a18.00,16.00 0 1,0 -36.00,0 Z M476.12,356.00 a10.08,8.96 0 1,0 20.16,0 a10.08,8.96 0 1,0 -20.16,0 Z"/>
<path fill-rule="evenodd" fill="#a6bddc" d="M470.00,356.00 a18.00,16.00 0 1,0 36.00,0 a18.00,16.00 0 1,0 -36.00,0 Z M477.20,356.00 a14.40,12.80 0 1,0 28.80,0 a14.40,12.80 0 1,0 -28.80,0 Z"/>
<path fill-rule="evenodd" fill="#c6c6c6" d="M506.00,306.00 a16.00,19.00 0 1,0 32.00,0 a16.00,19.00 0 1,0 -32.00,0 Z M511.44,306.00 a8.96,10.64 0 1,0 17.92,0 a8.96,10.64 0 1,0 -17.92,0 Z"/>
<path fill-rule="evenodd" fill="#a6bddc" d="M506.00,306.00 a16.00,19.00 0 1,0 32.00,0 a16.00,19.00 0 1,0 -32.00,0 Z M512.40,306.00 a12.80,15.20 0 1,0 25.60,0 a12.80,15.20 0 1,0 -25.60,0 Z"/>
<path fill-rule="evenodd" fill="#c6c6c6" d="M574.00,336.00 a20.00,15.00 0 1,0 40.00,0 a20.00,15.00 0 1,0 -40.00,0 Z M582.80,334.50 a11.20,8.40 0 1,0 22.40,0 a11.20,8.40 0 1,0 -22.40,0 Z"/>
<path fill-rule="evenodd" fill="#a6bddc" d="M574.00,336.00 a20.00,15.00 0 1,0 40.00,0 a20.00,15.00 0 1,0 -40.00,0 Z M578.00,339.00 a16.00,12.00 0 1,0 32.00,0 a16.00,12.00 0 1,0 -32.00,0 Z"/>
<path fill-rule="evenodd" fill="#c6c6c6" d="M568.00,346.00 a22.00,18.00 0 1,0 44.00,0 a22.00,18.00 0 1,0 -44.00,0 Z M577.68,344.20 a12.32,10.08 0 1,0 24.64,0 a12.32,10.08 0 1,0 -24.64,0 Z"/>
<path fill-rule="evenodd" fill="#a6bddc" d="M568.00,346.00 a22.00,18.00 0 1,0 44.00,0 a22.00,18.00 0 1,0 -44.00,0 Z M572.40,349.60 a17.60,14.40 0 1,0 35.20,0 a17.60,14.40 0 1,0 -35.20,0 Z"/>
<path fill-rule="evenodd" fill="#c6c6c6" d="M510.00,464.00 a20.00,19.00 0 1,0 40.00,0 a20.00,19.00 0 1,0 -40.00,0 Z M516.80,464.00 a11.20,10.64 0 1,0 22.40,0 a11.20,10.64 0 1,0 -22.40,0 Z"/>
<path fill-rule="evenodd" fill="#a6bddc" d="M510.00,464.00 a20.00,19.00 0 1,0 40.00,0 a20.00,19.00 0 1,0 -40.00,0 Z M518.00,464.00 a16.00,15.20 0 1,0 32.00,0 a16.00,15.20 0 1,0 -32.00,0 Z"/>
<path fill-rule="evenodd" fill="#c6c6c6" d="M505.00,396.00 a11.00,10.00 0 1,0 22.00,0 a11.00,10.00 0 1,0 -22.00,0 Z M508.74,396.00 a6.16,5.60 0 1,0 12.32,0 a6.16,5.60 0 1,0 -12.32,0 Z"/>
<path fill-rule="evenodd" fill="#a6bddc" d="M505.00,396.00 a11.00,10.00 0 1,0 22.00,0 a11.00,10.00 0 1,0 -22.00,0 Z M509.40,396.00 a8.80,8.00 0 1,0 17.60,0 a8.80,8.00 0 1,0 -17.60,0 Z"/>
<path fill-rule="evenodd" fill="#c6c6c6" d="M488.00,372.00 a16.00,14.00 0 1,0 32.00,0 a16.00,14.00 0 1,0 -32.00,0 Z M493.44,372.00 a8.96,7.84 0 1,0 17.92,0 a8.96,7.84 0 1,0 -17.92,0 Z"/>
<path fill-rule="evenodd" fill="#a6bddc" d="M488.00,372.00 a16.00,14.00 0 1,0 32.00,0 a16.00,14.00 0 1,0 -32.00,0 Z M494.40,372.00 a12.80,11.20 0 1,0 25.60,0 a12.80,11.20 0 1,0 -25.60,0 Z"/>
<path fill-rule="evenodd" fill="#a9a9a9" d="M457.00,327.00 a21.00,18.00 0 1,0 42.00,0 a21.00,18.00 0 1,0 -42.00,0 Z M464.14,327.00 a11.76,10.08 0 1,0 23.52,0 a11.76,10.08 0 1,0 -23.52,0 Z"/>
<path fill-rule="evenodd" fill="#7a9ecf" d="M457.00,327.00 a21.00,18.00 0 1,0 42.00,0 a21.00,18.00 0 1,0 -42.00,0 Z M465.40,327.00 a16.80,14.40 0 1,0 33.60,0 a16.80,14.40 0 1,0 -33.60,0 Z"/>
<path fill-rule="evenodd" fill="#a9a9a9" d="M465.00,311.00 a22.00,19.00 0 1,0 44.00,0 a22.00,19.00 0 1,0 -44.00,0 Z M472.48,311.00 a12.32,10.64 0 1,0 24.64,0 a12.32,10.64 0 1,0 -24.64,0 Z"/>
<path fill-rule="evenodd" fill="#7a9ecf" d="M465.00,311.00 a22.00,19.00 0 1,0 44.00,0 a22.00,19.00 0 1,0 -44.00,0 Z M473.80,311.00 a17.60,15.20 0 1,0 35.20,0 a17.60,15.20 0 1,0 -35.20,0 Z"/>
<path fill-rule="evenodd" fill="#a9a9a9" d="M520.00,301.00 a16.00,20.00 0 1,0 32.00,0 a16.00,20.00 0 1,0 -32.00,0 Z M525.44,301.00 a8.96,11.20 0 1,0 17.92,0 a8.96,11.20 0 1,0 -17.92,0 Z"/>
<path fill-rule="evenodd" fill="#7a9ecf" d="M520.00,301.00 a16.00,20.00 0 1,0 32.00,0 a16.00,20.00 0 1,0 -32.00,0 Z M526.40,301.00 a12.80,16.00 0 1,0 25.60,0 a12.80,16.00 0 1,0 -25.60,0 Z"/>
<path fill-rule="evenodd" fill="#a9a9a9" d="M535.00,296.00 a16.00,20.00 0 1,0 32.00,0 a16.00,20.00 0 1,0 -32.00,0 Z M540.44,296.00 a8.96,11.20 0 1,0 17.92,0 a8.96,11.20 0 1,0 -17.92,0 Z"/>
<path fill-rule="evenodd" fill="#7a9ecf" d="M535.00,296.00 a16.00,20.00 0 1,0 32.00,0 a16.00,20.00 0 1,0 -32.00,0 Z M541.40,296.00 a12.80,16.00 0 1,0 25.60,0 a12.80,16.00 0 1,0 -25.60,0 Z"/>
<path fill-rule="evenodd" fill="#a9a9a9" d="M567.00,358.00 a26.00,22.00 0 1,0 52.00,0 a26.00,22.00 0 1,0 -52.00,0 Z M578.44,355.80 a14.56,12.32 0 1,0 29.12,0 a14.56,12.32 0 1,0 -29.12,0 Z"/>
<path fill-rule="evenodd" fill="#7a9ecf" d="M567.00,358.00 a26.00,22.00 0 1,0 52.00,0 a26.00,22.00 0 1,0 -52.00,0 Z M572.20,362.40 a20.80,17.60 0 1,0 41.60,0 a20.80,17.60 0 1,0 -41.60,0 Z"/>
<path fill-rule="evenodd" fill="#a9a9a9" d="M468.00,403.00 a19.00,20.00 0 1,0 38.00,0 a19.00,20.00 0 1,0 -38.00,0 Z M478.26,403.00 a10.64,11.20 0 1,0 21.28,0 a10.64,11.20 0 1,0 -21.28,0 Z"/>
<path fill-rule="evenodd" fill="#7a9ecf" d="M468.00,403.00 a19.00,20.00 0 1,0 38.00,0 a19.00,20.00 0 1,0 -38.00,0 Z M468.00,403.00 a15.20,16.00 0 1,0 30.40,0 a15.20,16.00 0 1,0 -30.40,0 Z"/>
<path fill-rule="evenodd" fill="#a9a9a9" d="M451.00,401.00 a20.00,21.00 0 1,0 40.00,0 a20.00,21.00 0 1,0 -40.00,0 Z M461.80,401.00 a11.20,11.76 0 1,0 22.40,0 a11.20,11.76 0 1,0 -22.40,0 Z"/>
<path fill-rule="evenodd" fill="#7a9ecf" d="M451.00,401.00 a20.00,21.00 0 1,0 40.00,0 a20.00,21.00 0 1,0 -40.00,0 Z M451.00,401.00 a16.00,16.80 0 1,0 32.00,0 a16.00,16.80 0 1,0 -32.00,0 Z"/>
<path fill-rule="evenodd" fill="#a9a9a9" d="M520.00,458.00 a21.00,20.00 0 1,0 42.00,0 a21.00,20.00 0 1,0 -42.00,0 Z M527.14,458.00 a11.76,11.20 0 1,0 23.52,0 a11.76,11.20 0 1,0 -23.52,0 Z"/>
<path fill-rule="evenodd" fill="#7a9ecf" d="M520.00,458.00 a21.00,20.00 0 1,0 42.00,0 a21.00,20.00 0 1,0 -42.00,0 Z M528.40,458.00 a16.80,16.00 0 1,0 33.60,0 a16.80,16.00 0 1,0 -33.60,0 Z"/>
<path fill-rule="evenodd" fill="#8c8c8c" d="M475.00,294.00 a23.00,20.00 0 1,0 46.00,0 a23.00,20.00 0 1,0 -46.00,0 Z M480.98,294.00 a14.72,12.80 0 1,0 29.44,0 a14.72,12.80 0 1,0 -29.44,0 Z"/>
<path fill-rule="evenodd" fill="#4f88cf" d="M475.00,294.00 a23.00,20.00 0 1,0 46.00,0 a23.00,20.00 0 1,0 -46.00,0 Z M484.20,294.00 a18.40,16.00 0 1,0 36.80,0 a18.40,16.00 0 1,0 -36.80,0 Z"/>
<path fill-rule="evenodd" fill="#8c8c8c" d="M487.00,276.00 a25.00,21.00 0 1,0 50.00,0 a25.00,21.00 0 1,0 -50.00,0 Z M493.50,276.00 a16.00,13.44 0 1,0 32.00,0 a16.00,13.44 0 1,0 -32.00,0 Z"/>
<path fill-rule="evenodd" fill="#4f88cf" d="M487.00,276.00 a25.00,21.00 0 1,0 50.00,0 a25.00,21.00 0 1,0 -50.00,0 Z M497.00,276.00 a20.00,16.80 0 1,0 40.00,0 a20.00,16.80 0 1,0 -40.00,0 Z"/>
<path fill-rule="evenodd" fill="#8c8c8c" d="M552.00,294.00 a17.00,21.00 0 1,0 34.00,0 a17.00,21.00 0 1,0 -34.00,0 Z M556.42,294.00 a10.88,13.44 0 1,0 21.76,0 a10.88,13.44 0 1,0 -21.76,0 Z"/>
<path fill-rule="evenodd" fill="#4f88cf" d="M552.00,294.00 a17.00,21.00 0 1,0 34.00,0 a17.00,21.00 0 1,0 -34.00,0 Z M558.80,294.00 a13.60,16.80 0 1,0 27.20,0 a13.60,16.80 0 1,0 -27.20,0 Z"/>
<path fill-rule="evenodd" fill="#8c8c8c" d="M435.00,399.00 a20.00,22.00 0 1,0 40.00,0 a20.00,22.00 0 1,0 -40.00,0 Z M444.20,399.00 a12.80,14.08 0 1,0 25.60,0 a12.80,14.08 0 1,0 -25.60,0 Z"/>
<path fill-rule="evenodd" fill="#4f88cf" d="M435.00,399.00 a20.00,22.00 0 1,0 40.00,0 a20.00,22.00 0 1,0 -40.00,0 Z M435.00,399.00 a16.00,17.60 0 1,0 32.00,0 a16.00,17.60 0 1,0 -32.00,0 Z"/>
<path fill-rule="evenodd" fill="#8c8c8c" d="M534.00,452.00 a22.00,21.00 0 1,0 44.00,0 a22.00,21.00 0 1,0 -44.00,0 Z M539.85,451.28 a14.08,13.44 0 1,0 28.16,0 a14.08,13.44 0 1,0 -28.16,0 Z"/>
<path fill-rule="evenodd" fill="#4f88cf" d="M534.00,452.00 a22.00,21.00 0 1,0 44.00,0 a22.00,21.00 0 1,0 -44.00,0 Z M542.53,453.44 a17.60,16.80 0 1,0 35.20,0 a17.60,16.80 0 1,0 -35.20,0 Z"/>
<path fill-rule="evenodd" fill="#7a7a7a" d="M506.50,257.00 a24.00,21.50 0 1,0 48.00,0 a24.00,21.50 0 1,0 -48.00,0 Z M512.74,257.00 a15.36,13.76 0 1,0 30.72,0 a15.36,13.76 0 1,0 -30.72,0 Z"/>
<path fill-rule="evenodd" fill="#3a84d8" d="M506.50,257.00 a24.00,21.50 0 1,0 48.00,0 a24.00,21.50 0 1,0 -48.00,0 Z M516.10,257.00 a19.20,17.20 0 1,0 38.40,0 a19.20,17.20 0 1,0 -38.40,0 Z"/>
<path fill-rule="evenodd" fill="#7a7a7a" d="M570.00,295.00 a21.00,22.00 0 1,0 42.00,0 a21.00,22.00 0 1,0 -42.00,0 Z M575.46,295.00 a13.44,14.08 0 1,0 26.88,0 a13.44,14.08 0 1,0 -26.88,0 Z"/>
<path fill-rule="evenodd" fill="#3a84d8" d="M570.00,295.00 a21.00,22.00 0 1,0 42.00,0 a21.00,22.00 0 1,0 -42.00,0 Z M578.40,295.00 a16.80,17.60 0 1,0 33.60,0 a16.80,17.60 0 1,0 -33.60,0 Z"/>
<path fill-rule="evenodd" fill="#7a7a7a" d="M562.50,376.70 a35.00,30.50 0 1,0 70.00,0 a35.00,30.50 0 1,0 -70.00,0 Z M572.63,374.54 a22.40,19.52 0 1,0 44.80,0 a22.40,19.52 0 1,0 -44.80,0 Z"/>
<path fill-rule="evenodd" fill="#3a84d8" d="M562.50,376.70 a35.00,30.50 0 1,0 70.00,0 a35.00,30.50 0 1,0 -70.00,0 Z M573.25,380.58 a28.70,25.01 0 1,0 57.40,0 a28.70,25.01 0 1,0 -57.40,0 Z"/>
<path fill-rule="evenodd" fill="#7a7a7a" d="M419.00,396.00 a20.00,22.00 0 1,0 40.00,0 a20.00,22.00 0 1,0 -40.00,0 Z M428.20,396.00 a12.80,14.08 0 1,0 25.60,0 a12.80,14.08 0 1,0 -25.60,0 Z"/>
<path fill-rule="evenodd" fill="#3a84d8" d="M419.00,396.00 a20.00,22.00 0 1,0 40.00,0 a20.00,22.00 0 1,0 -40.00,0 Z M419.00,396.00 a16.00,17.60 0 1,0 32.00,0 a16.00,17.60 0 1,0 -32.00,0 Z"/>
<path fill-rule="evenodd" fill="#7a7a7a" d="M549.00,447.00 a24.00,22.00 0 1,0 48.00,0 a24.00,22.00 0 1,0 -48.00,0 Z M555.56,445.90 a15.36,14.08 0 1,0 30.72,0 a15.36,14.08 0 1,0 -30.72,0 Z"/>
<path fill-rule="evenodd" fill="#3a84d8" d="M549.00,447.00 a24.00,22.00 0 1,0 48.00,0 a24.00,22.00 0 1,0 -48.00,0 Z M557.96,449.20 a19.20,17.60 0 1,0 38.40,0 a19.20,17.60 0 1,0 -38.40,0 Z"/>
<path d="M539,377 C548,374 555,376 558,380 C562,388 566,394 572,398" stroke="#c2d0e3" stroke-width="3" fill="none"/>
<path d="M496,439 L514,447" stroke="#c2d0e3" stroke-width="3" fill="none"/>
<path d="M490,379 C493,372 497,367 500,366.7 C508,364 519,362.5 528,364 L536,371 L531,385 C522,385.5 508,386 501,387 Z" fill="#858585"/>
<path d="M524,364 C530,365 536,368 539,373 C542,379 544.5,388 544.8,396 C545,404 543,410 539,415 C533,420 524,424 517,427 C512,430 509,433 507.5,437 C504,432 501,425 499.5,414 C505,410 512,405 518,399 C523,393 526,386 526.5,378 C526.5,372 525.5,367 524,364 Z" fill="url(#gR)"/>
<path stroke="#3a84d8" stroke-width="3" fill="none" stroke-linecap="round" stroke-linejoin="round" d="M404.5,287.2 C410,284 420,281 435.4,278.2 C445,277 452,278 458,284 C462,289 466,293.6 470,295.5 C477,298 484,294 489.9,295.4 C496,298 500,305 503,312 C507,320 510,330 509.5,343"/>
<path stroke="#3a84d8" stroke-width="3" fill="none" stroke-linecap="round" stroke-linejoin="round" d="M404.5,287.2 C413,290 420,294 426.3,299 C433,305 439,312 439,318 C440,326 436,334 430,344 C425,352 423,362 426,368 C430,375 438,378 444.5,380 C449,382 452,385 454,390"/>
<path stroke="#3a84d8" stroke-width="3" fill="none" stroke-linecap="round" stroke-linejoin="round" d="M575,305 C588,309 602,314 605,324 C607,332 603,339 599,344"/>
<path stroke="#3a84d8" stroke-width="3" fill="none" stroke-linecap="round" stroke-linejoin="round" d="M611,361 C618,360 624,361 627,365 C629,367 630,369 630,371"/>
<path stroke="#3a84d8" stroke-width="3" fill="none" stroke-linecap="round" stroke-linejoin="round" d="M541,436 C550,433 556,435 561,440" />
<path stroke="#3a84d8" stroke-width="3" fill="none" stroke-linecap="round" stroke-linejoin="round" d="M578,428 C590,428 600,440 597,456 C595,464 590,468 586,469" />
<path d="M400.5,286 L407,288.5" stroke="#2a6cc0" stroke-width="5" stroke-linecap="round"/>
<path stroke="#3a84d8" stroke-width="3" fill="none" stroke-linecap="round" stroke-linejoin="round" d="M514,250 C517,240 524,233 531,231" />
<circle cx="475.2" cy="316.0" r="13.2" fill="url(#gG)"/>
<text x="475.2" y="320.5" font-size="12.5" font-weight="bold" fill="#000" stroke="#000" stroke-width="0.3" text-anchor="middle">138</text>
<circle cx="596.5" cy="355.5" r="15.5" fill="url(#gG)"/>
<text x="596.5" y="360.2" font-size="13.0" font-weight="bold" fill="#000" stroke="#000" stroke-width="0.3" text-anchor="middle">98</text>
<path d="M488,362 L502,370 L496,385 L482,377 Z" fill="#b528b5"/>
<circle cx="484.6" cy="379.0" r="15.6" fill="url(#gG)"/>
<text x="484.6" y="383.7" font-size="13.0" font-weight="bold" fill="#000" stroke="#000" stroke-width="0.3" text-anchor="middle">33</text>
<path d="M492,366 L505,372 L498,382 L486,374 Z" fill="#c030c0"/>
<circle cx="500.0" cy="357.7" r="16.5" fill="url(#gM)"/>
<text x="500.0" y="362.7" font-size="14.0" font-weight="bold" fill="#fff" stroke="#fff" stroke-width="0.3" text-anchor="middle">34</text>
<circle cx="536.4" cy="235.1" r="15.2" fill="url(#gM)"/>
<text x="536.4" y="239.8" font-size="13.0" font-weight="bold" fill="#fff" stroke="#fff" stroke-width="0.3" text-anchor="middle">151</text>
<circle cx="609.0" cy="297.9" r="15.0" fill="url(#gM)"/>
<text x="609.0" y="302.6" font-size="13.0" font-weight="bold" fill="#fff" stroke="#fff" stroke-width="0.3" text-anchor="middle">102</text>
<rect x="496.5" y="264.5" width="25.0" height="12.0" rx="5" ry="5" fill="#fff" stroke="#222" stroke-width="0.9" stroke-dasharray="1.2,1"/>
<text x="509.0" y="273.9" font-size="9.5" font-weight="bold" fill="#a0195a" text-anchor="middle" stroke="#a0195a" stroke-width="0.3">TM5</text>
<rect x="543.2" y="291.8" width="25.0" height="12.5" rx="5" ry="5" fill="#fff" stroke="#222" stroke-width="0.9" stroke-dasharray="1.2,1"/>
<text x="555.7" y="301.4" font-size="9.5" font-weight="bold" fill="#a0195a" text-anchor="middle" stroke="#a0195a" stroke-width="0.3">TM4</text>
<rect x="609.9" y="381.6" width="24.0" height="11.5" rx="5" ry="5" fill="#fff" stroke="#222" stroke-width="0.9" stroke-dasharray="1.2,1"/>
<text x="621.9" y="390.8" font-size="9.5" font-weight="bold" fill="#a0195a" text-anchor="middle" stroke="#a0195a" stroke-width="0.3">TM3</text>
<rect x="425.7" y="396.6" width="25.0" height="11.5" rx="5" ry="5" fill="#fff" stroke="#222" stroke-width="0.9" stroke-dasharray="1.2,1"/>
<text x="438.2" y="405.8" font-size="9.5" font-weight="bold" fill="#a0195a" text-anchor="middle" stroke="#a0195a" stroke-width="0.3">TM2</text>
<rect x="511.2" y="401.8" width="23.0" height="12.5" rx="5" ry="5" fill="#fff" stroke="#222" stroke-width="0.9" stroke-dasharray="1.2,1"/>
<text x="522.7" y="411.4" font-size="9.5" font-weight="bold" fill="#a0195a" text-anchor="middle" stroke="#a0195a" stroke-width="0.3">LP1</text>
<rect x="554.3" y="446.6" width="25.0" height="11.5" rx="5" ry="5" fill="#fff" stroke="#222" stroke-width="0.9" stroke-dasharray="1.2,1"/>
<text x="566.8" y="455.7" font-size="9.5" font-weight="bold" fill="#a0195a" text-anchor="middle" stroke="#a0195a" stroke-width="0.3">TM1</text>
</svg></body></html>
